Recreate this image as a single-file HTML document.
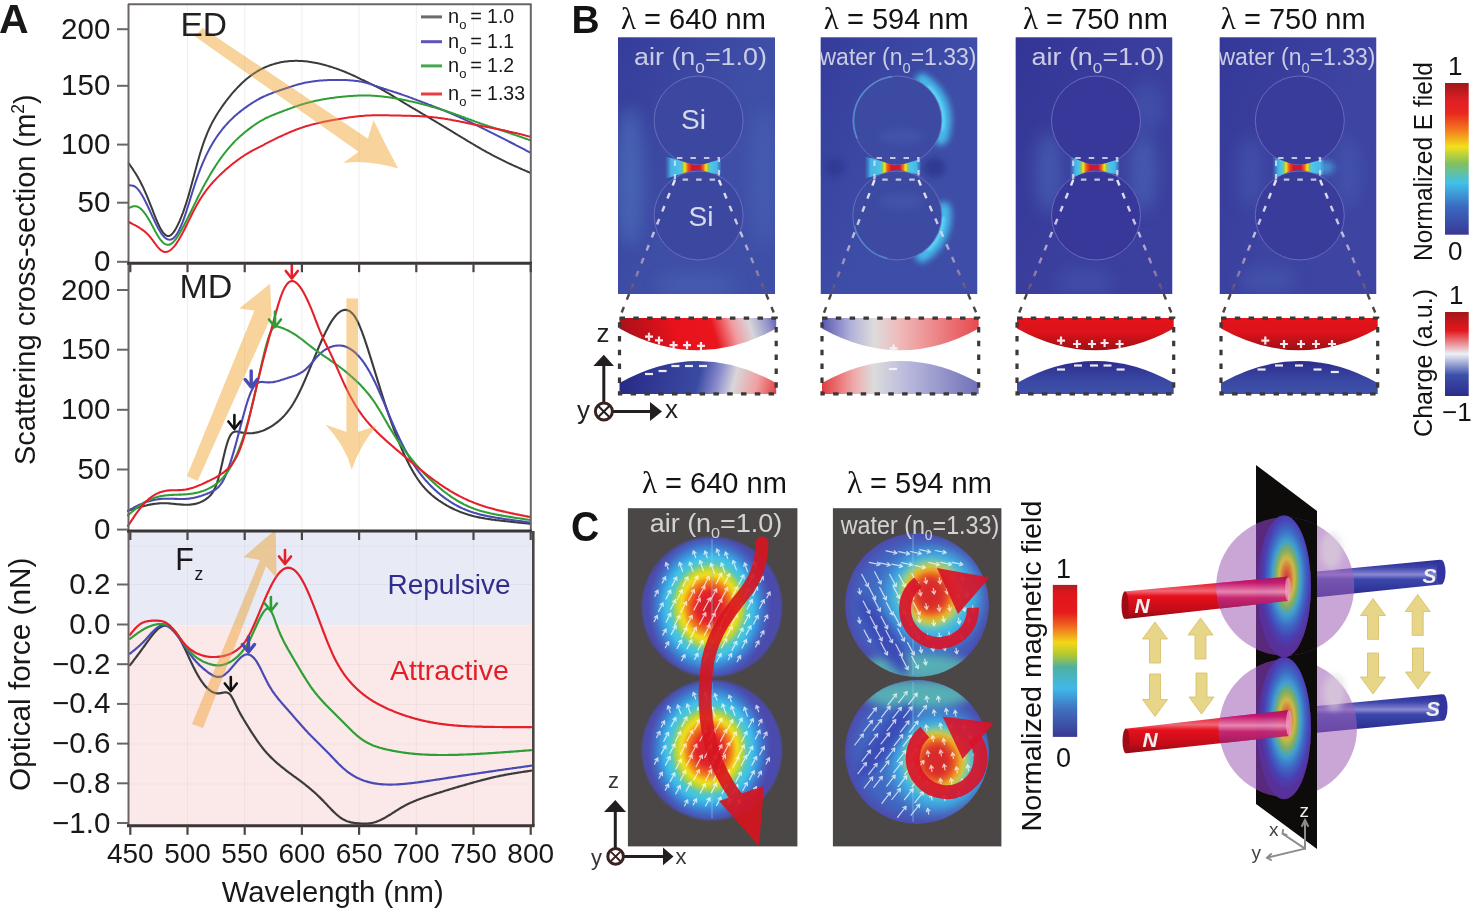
<!DOCTYPE html>
<html><head><meta charset="utf-8"><style>
html,body{margin:0;padding:0;background:#fff;width:1472px;height:910px;overflow:hidden}
svg{display:block}
</style></head><body>
<svg width="1472" height="910" viewBox="0 0 1472 910">
<rect width="1472" height="910" fill="#fff"/>
<g stroke="#efefef" stroke-width="1">
<line x1="187.5" y1="5" x2="187.5" y2="825"/>
<line x1="244.7" y1="5" x2="244.7" y2="825"/>
<line x1="301.9" y1="5" x2="301.9" y2="825"/>
<line x1="359.1" y1="5" x2="359.1" y2="825"/>
<line x1="416.3" y1="5" x2="416.3" y2="825"/>
<line x1="473.5" y1="5" x2="473.5" y2="825"/>
</g>
<rect x="128.5" y="532" width="405.0" height="93.5" fill="#e8eaf6"/>
<rect x="128.5" y="625.5" width="405.0" height="200" fill="#fbe9ea"/>
<g stroke="#000000" stroke-opacity="0.035" stroke-width="1.2">
<line x1="187.5" y1="532" x2="187.5" y2="825"/>
<line x1="244.7" y1="532" x2="244.7" y2="825"/>
<line x1="301.9" y1="532" x2="301.9" y2="825"/>
<line x1="359.1" y1="532" x2="359.1" y2="825"/>
<line x1="416.3" y1="532" x2="416.3" y2="825"/>
<line x1="473.5" y1="532" x2="473.5" y2="825"/>
<line x1="128.5" y1="546.0" x2="531.0" y2="546.0"/>
<line x1="128.5" y1="584.5" x2="531.0" y2="584.5"/>
<line x1="128.5" y1="664.5" x2="531.0" y2="664.5"/>
<line x1="128.5" y1="704.5" x2="531.0" y2="704.5"/>
<line x1="128.5" y1="744.0" x2="531.0" y2="744.0"/>
<line x1="128.5" y1="784.0" x2="531.0" y2="784.0"/>
</g>
<path d="M128.8,163.3 L129.8,164.7 L130.8,166.2 L131.8,167.7 L132.8,169.1 L133.8,170.7 L134.8,172.2 L135.8,173.8 L136.8,175.4 L137.8,177.1 L138.8,178.9 L139.8,180.8 L140.8,182.7 L141.8,184.7 L142.8,186.7 L143.8,188.9 L144.8,191.1 L145.8,193.4 L146.8,195.7 L147.8,198.1 L148.8,200.6 L149.8,203.1 L150.8,205.6 L151.8,208.2 L152.8,210.7 L153.8,213.3 L154.8,215.8 L155.8,218.3 L156.8,220.7 L157.8,223.0 L158.8,225.1 L159.8,227.2 L160.8,229.0 L161.8,230.7 L162.8,232.1 L163.8,233.4 L164.8,234.4 L165.8,235.1 L166.8,235.7 L167.8,236.0 L168.8,235.9 L169.8,235.7 L170.8,235.1 L171.8,234.3 L172.8,233.2 L173.8,231.9 L174.8,230.4 L175.8,228.8 L176.8,226.9 L177.8,224.9 L178.8,222.8 L179.8,220.6 L180.8,218.2 L181.8,215.7 L182.8,213.1 L183.8,210.3 L184.8,207.4 L185.8,204.4 L186.8,201.3 L187.8,198.0 L188.8,194.6 L189.8,191.1 L190.8,187.5 L191.8,183.8 L192.8,180.1 L193.8,176.4 L194.8,172.6 L195.8,168.9 L196.8,165.2 L197.8,161.5 L198.8,158.0 L199.8,154.5 L200.8,151.2 L201.8,148.1 L202.8,145.0 L203.8,142.2 L204.8,139.4 L205.8,136.8 L206.8,134.3 L207.8,131.9 L208.8,129.7 L209.8,127.5 L210.8,125.4 L211.8,123.4 L212.8,121.5 L213.8,119.7 L214.8,117.9 L215.8,116.2 L216.8,114.6 L217.8,113.0 L218.8,111.5 L219.8,110.0 L220.8,108.5 L221.8,107.0 L222.8,105.6 L223.8,104.2 L224.8,102.8 L225.8,101.5 L226.8,100.2 L227.8,98.9 L228.8,97.6 L229.8,96.4 L230.8,95.1 L231.8,93.9 L232.8,92.7 L233.8,91.6 L234.8,90.5 L235.8,89.4 L236.8,88.3 L237.8,87.2 L238.8,86.2 L239.8,85.2 L240.8,84.2 L241.8,83.2 L242.8,82.3 L243.8,81.4 L244.8,80.5 L245.8,79.6 L246.8,78.8 L247.8,78.0 L248.8,77.2 L249.8,76.4 L250.8,75.7 L251.8,74.9 L252.8,74.2 L253.8,73.5 L254.8,72.9 L255.8,72.3 L256.8,71.6 L257.8,71.0 L258.8,70.5 L259.8,69.9 L260.8,69.4 L261.8,68.9 L262.8,68.4 L263.8,67.9 L264.8,67.4 L265.8,67.0 L266.8,66.6 L267.8,66.1 L268.8,65.8 L269.8,65.4 L270.8,65.0 L271.8,64.7 L272.8,64.4 L273.8,64.1 L274.8,63.8 L275.8,63.5 L276.8,63.2 L277.8,63.0 L278.8,62.7 L279.8,62.5 L280.8,62.3 L281.8,62.1 L282.8,62.0 L283.8,61.8 L284.8,61.6 L285.8,61.5 L286.8,61.4 L287.8,61.3 L288.8,61.2 L289.8,61.1 L290.8,61.0 L291.8,60.9 L292.8,60.9 L293.8,60.9 L294.8,60.8 L295.8,60.8 L296.8,60.8 L297.8,60.8 L298.8,60.9 L299.8,60.9 L300.8,60.9 L301.8,61.0 L302.8,61.1 L303.8,61.2 L304.8,61.2 L305.8,61.3 L306.8,61.5 L307.8,61.6 L308.8,61.7 L309.8,61.9 L310.8,62.0 L311.8,62.2 L312.8,62.4 L313.8,62.5 L314.8,62.7 L315.8,62.9 L316.8,63.1 L317.8,63.3 L318.8,63.6 L319.8,63.8 L320.8,64.0 L321.8,64.3 L322.8,64.5 L323.8,64.8 L324.8,65.1 L325.8,65.3 L326.8,65.6 L327.8,65.9 L328.8,66.2 L329.8,66.5 L330.8,66.8 L331.8,67.1 L332.8,67.4 L333.8,67.8 L334.8,68.1 L335.8,68.4 L336.8,68.8 L337.8,69.1 L338.8,69.5 L339.8,69.9 L340.8,70.2 L341.8,70.6 L342.8,71.0 L343.8,71.4 L344.8,71.8 L345.8,72.2 L346.8,72.6 L347.8,73.1 L348.8,73.5 L349.8,73.9 L350.8,74.4 L351.8,74.8 L352.8,75.3 L353.8,75.7 L354.8,76.2 L355.8,76.7 L356.8,77.2 L357.8,77.6 L358.8,78.1 L359.8,78.6 L360.8,79.1 L361.8,79.6 L362.8,80.0 L363.8,80.5 L364.8,81.0 L365.8,81.5 L366.8,81.9 L367.8,82.4 L368.8,82.9 L369.8,83.4 L370.8,83.9 L371.8,84.3 L372.8,84.8 L373.8,85.3 L374.8,85.8 L375.8,86.3 L376.8,86.8 L377.8,87.3 L378.8,87.9 L379.8,88.4 L380.8,88.9 L381.8,89.5 L382.8,90.0 L383.8,90.6 L384.8,91.2 L385.8,91.8 L386.8,92.3 L387.8,92.9 L388.8,93.5 L389.8,94.1 L390.8,94.7 L391.8,95.3 L392.8,95.9 L393.8,96.6 L394.8,97.2 L395.8,97.8 L396.8,98.4 L397.8,99.0 L398.8,99.6 L399.8,100.2 L400.8,100.8 L401.8,101.4 L402.8,102.1 L403.8,102.7 L404.8,103.3 L405.8,103.9 L406.8,104.5 L407.8,105.1 L408.8,105.7 L409.8,106.3 L410.8,106.9 L411.8,107.5 L412.8,108.1 L413.8,108.7 L414.8,109.2 L415.8,109.8 L416.8,110.4 L417.8,111.0 L418.8,111.6 L419.8,112.2 L420.8,112.8 L421.8,113.4 L422.8,114.0 L423.8,114.6 L424.8,115.2 L425.8,115.8 L426.8,116.4 L427.8,117.0 L428.8,117.6 L429.8,118.2 L430.8,118.7 L431.8,119.3 L432.8,119.9 L433.8,120.5 L434.8,121.1 L435.8,121.7 L436.8,122.3 L437.8,122.9 L438.8,123.5 L439.8,124.1 L440.8,124.7 L441.8,125.3 L442.8,125.9 L443.8,126.5 L444.8,127.1 L445.8,127.7 L446.8,128.3 L447.8,128.9 L448.8,129.5 L449.8,130.1 L450.8,130.7 L451.8,131.3 L452.8,131.9 L453.8,132.6 L454.8,133.2 L455.8,133.8 L456.8,134.4 L457.8,135.0 L458.8,135.6 L459.8,136.2 L460.8,136.8 L461.8,137.4 L462.8,138.0 L463.8,138.6 L464.8,139.2 L465.8,139.8 L466.8,140.4 L467.8,141.1 L468.8,141.7 L469.8,142.2 L470.8,142.8 L471.8,143.4 L472.8,144.0 L473.8,144.6 L474.8,145.2 L475.8,145.8 L476.8,146.4 L477.8,147.0 L478.8,147.5 L479.8,148.1 L480.8,148.7 L481.8,149.3 L482.8,149.8 L483.8,150.4 L484.8,151.0 L485.8,151.5 L486.8,152.1 L487.8,152.6 L488.8,153.2 L489.8,153.7 L490.8,154.2 L491.8,154.8 L492.8,155.3 L493.8,155.8 L494.8,156.4 L495.8,156.9 L496.8,157.4 L497.8,157.9 L498.8,158.4 L499.8,158.9 L500.8,159.4 L501.8,159.9 L502.8,160.4 L503.8,160.9 L504.8,161.4 L505.8,161.9 L506.8,162.4 L507.8,162.8 L508.8,163.3 L509.8,163.8 L510.8,164.2 L511.8,164.7 L512.8,165.1 L513.8,165.6 L514.8,166.0 L515.8,166.5 L516.8,166.9 L517.8,167.4 L518.8,167.8 L519.8,168.3 L520.8,168.7 L521.8,169.1 L522.8,169.6 L523.8,170.0 L524.8,170.4 L525.8,170.9 L526.8,171.3 L527.8,171.7 L528.8,172.1 L529.8,172.6 L530.1,172.7" fill="none" stroke="#3b3b3b" stroke-width="2.0" stroke-linejoin="round" stroke-linecap="round"/>
<path d="M128.8,185.3 L129.8,185.3 L130.8,185.4 L131.8,185.5 L132.8,185.7 L133.8,186.0 L134.8,186.5 L135.8,187.2 L136.8,188.1 L137.8,189.1 L138.8,190.3 L139.8,191.7 L140.8,193.2 L141.8,194.8 L142.8,196.5 L143.8,198.3 L144.8,200.2 L145.8,202.2 L146.8,204.3 L147.8,206.4 L148.8,208.5 L149.8,210.7 L150.8,212.9 L151.8,215.1 L152.8,217.3 L153.8,219.4 L154.8,221.5 L155.8,223.6 L156.8,225.6 L157.8,227.5 L158.8,229.3 L159.8,231.0 L160.8,232.6 L161.8,234.1 L162.8,235.3 L163.8,236.5 L164.8,237.5 L165.8,238.3 L166.8,238.9 L167.8,239.4 L168.8,239.6 L169.8,239.7 L170.8,239.5 L171.8,239.2 L172.8,238.6 L173.8,237.8 L174.8,236.8 L175.8,235.6 L176.8,234.2 L177.8,232.5 L178.8,230.7 L179.8,228.7 L180.8,226.5 L181.8,224.1 L182.8,221.6 L183.8,218.9 L184.8,216.0 L185.8,213.1 L186.8,210.0 L187.8,206.9 L188.8,203.7 L189.8,200.5 L190.8,197.3 L191.8,194.0 L192.8,190.8 L193.8,187.7 L194.8,184.5 L195.8,181.5 L196.8,178.6 L197.8,175.8 L198.8,173.0 L199.8,170.4 L200.8,167.8 L201.8,165.3 L202.8,162.9 L203.8,160.6 L204.8,158.4 L205.8,156.2 L206.8,154.1 L207.8,152.1 L208.8,150.2 L209.8,148.3 L210.8,146.5 L211.8,144.7 L212.8,143.0 L213.8,141.4 L214.8,139.8 L215.8,138.3 L216.8,136.8 L217.8,135.3 L218.8,133.9 L219.8,132.6 L220.8,131.3 L221.8,130.0 L222.8,128.7 L223.8,127.5 L224.8,126.3 L225.8,125.2 L226.8,124.1 L227.8,123.0 L228.8,121.9 L229.8,120.9 L230.8,119.9 L231.8,118.9 L232.8,118.0 L233.8,117.0 L234.8,116.1 L235.8,115.2 L236.8,114.4 L237.8,113.5 L238.8,112.7 L239.8,111.9 L240.8,111.1 L241.8,110.3 L242.8,109.6 L243.8,108.8 L244.8,108.1 L245.8,107.4 L246.8,106.6 L247.8,105.9 L248.8,105.2 L249.8,104.6 L250.8,103.9 L251.8,103.2 L252.8,102.6 L253.8,102.0 L254.8,101.4 L255.8,100.8 L256.8,100.2 L257.8,99.6 L258.8,99.0 L259.8,98.5 L260.8,98.0 L261.8,97.5 L262.8,97.0 L263.8,96.5 L264.8,96.1 L265.8,95.6 L266.8,95.2 L267.8,94.8 L268.8,94.4 L269.8,94.0 L270.8,93.6 L271.8,93.2 L272.8,92.8 L273.8,92.4 L274.8,92.1 L275.8,91.7 L276.8,91.4 L277.8,91.0 L278.8,90.7 L279.8,90.3 L280.8,90.0 L281.8,89.7 L282.8,89.3 L283.8,89.0 L284.8,88.7 L285.8,88.3 L286.8,88.0 L287.8,87.7 L288.8,87.3 L289.8,87.0 L290.8,86.7 L291.8,86.4 L292.8,86.0 L293.8,85.7 L294.8,85.4 L295.8,85.1 L296.8,84.8 L297.8,84.6 L298.8,84.3 L299.8,84.0 L300.8,83.8 L301.8,83.5 L302.8,83.3 L303.8,83.0 L304.8,82.8 L305.8,82.6 L306.8,82.4 L307.8,82.2 L308.8,82.1 L309.8,81.9 L310.8,81.7 L311.8,81.6 L312.8,81.4 L313.8,81.3 L314.8,81.2 L315.8,81.0 L316.8,80.9 L317.8,80.8 L318.8,80.7 L319.8,80.6 L320.8,80.6 L321.8,80.5 L322.8,80.4 L323.8,80.3 L324.8,80.3 L325.8,80.2 L326.8,80.2 L327.8,80.1 L328.8,80.1 L329.8,80.0 L330.8,80.0 L331.8,80.0 L332.8,79.9 L333.8,79.9 L334.8,79.9 L335.8,79.9 L336.8,79.9 L337.8,79.9 L338.8,79.9 L339.8,79.9 L340.8,79.9 L341.8,80.0 L342.8,80.0 L343.8,80.0 L344.8,80.0 L345.8,80.1 L346.8,80.1 L347.8,80.2 L348.8,80.3 L349.8,80.3 L350.8,80.4 L351.8,80.5 L352.8,80.6 L353.8,80.7 L354.8,80.8 L355.8,80.9 L356.8,81.0 L357.8,81.1 L358.8,81.3 L359.8,81.5 L360.8,81.6 L361.8,81.8 L362.8,82.0 L363.8,82.3 L364.8,82.5 L365.8,82.8 L366.8,83.0 L367.8,83.3 L368.8,83.6 L369.8,83.9 L370.8,84.2 L371.8,84.6 L372.8,84.9 L373.8,85.2 L374.8,85.6 L375.8,85.9 L376.8,86.3 L377.8,86.6 L378.8,87.0 L379.8,87.3 L380.8,87.7 L381.8,88.0 L382.8,88.3 L383.8,88.7 L384.8,89.0 L385.8,89.3 L386.8,89.6 L387.8,90.0 L388.8,90.3 L389.8,90.6 L390.8,90.9 L391.8,91.2 L392.8,91.5 L393.8,91.9 L394.8,92.2 L395.8,92.5 L396.8,92.8 L397.8,93.2 L398.8,93.5 L399.8,93.8 L400.8,94.2 L401.8,94.5 L402.8,94.9 L403.8,95.2 L404.8,95.6 L405.8,95.9 L406.8,96.3 L407.8,96.6 L408.8,97.0 L409.8,97.4 L410.8,97.7 L411.8,98.1 L412.8,98.5 L413.8,98.9 L414.8,99.2 L415.8,99.6 L416.8,100.0 L417.8,100.4 L418.8,100.7 L419.8,101.1 L420.8,101.5 L421.8,101.9 L422.8,102.3 L423.8,102.6 L424.8,103.0 L425.8,103.4 L426.8,103.8 L427.8,104.2 L428.8,104.6 L429.8,104.9 L430.8,105.3 L431.8,105.7 L432.8,106.1 L433.8,106.5 L434.8,106.9 L435.8,107.3 L436.8,107.6 L437.8,108.0 L438.8,108.4 L439.8,108.8 L440.8,109.2 L441.8,109.6 L442.8,110.0 L443.8,110.4 L444.8,110.8 L445.8,111.2 L446.8,111.6 L447.8,112.1 L448.8,112.5 L449.8,112.9 L450.8,113.3 L451.8,113.8 L452.8,114.2 L453.8,114.6 L454.8,115.1 L455.8,115.5 L456.8,116.0 L457.8,116.4 L458.8,116.9 L459.8,117.3 L460.8,117.8 L461.8,118.2 L462.8,118.7 L463.8,119.2 L464.8,119.6 L465.8,120.1 L466.8,120.6 L467.8,121.1 L468.8,121.5 L469.8,122.0 L470.8,122.5 L471.8,123.0 L472.8,123.5 L473.8,124.0 L474.8,124.4 L475.8,124.9 L476.8,125.4 L477.8,125.9 L478.8,126.4 L479.8,126.9 L480.8,127.4 L481.8,127.9 L482.8,128.4 L483.8,128.9 L484.8,129.4 L485.8,129.8 L486.8,130.3 L487.8,130.8 L488.8,131.3 L489.8,131.8 L490.8,132.3 L491.8,132.8 L492.8,133.3 L493.8,133.8 L494.8,134.3 L495.8,134.8 L496.8,135.3 L497.8,135.8 L498.8,136.4 L499.8,136.9 L500.8,137.4 L501.8,137.9 L502.8,138.4 L503.8,138.9 L504.8,139.4 L505.8,139.9 L506.8,140.4 L507.8,140.9 L508.8,141.5 L509.8,142.0 L510.8,142.5 L511.8,143.0 L512.8,143.5 L513.8,144.0 L514.8,144.5 L515.8,145.1 L516.8,145.6 L517.8,146.1 L518.8,146.6 L519.8,147.1 L520.8,147.7 L521.8,148.2 L522.8,148.7 L523.8,149.2 L524.8,149.7 L525.8,150.3 L526.8,150.8 L527.8,151.3 L528.8,151.8 L529.8,152.3 L530.1,152.5" fill="none" stroke="#4a4ab4" stroke-width="2.0" stroke-linejoin="round" stroke-linecap="round"/>
<path d="M128.8,208.0 L129.8,207.6 L130.8,207.1 L131.8,206.8 L132.8,206.5 L133.8,206.3 L134.8,206.2 L135.8,206.2 L136.8,206.4 L137.8,206.8 L138.8,207.3 L139.8,208.0 L140.8,208.8 L141.8,209.7 L142.8,210.8 L143.8,212.0 L144.8,213.3 L145.8,214.7 L146.8,216.2 L147.8,217.7 L148.8,219.4 L149.8,221.1 L150.8,222.9 L151.8,224.8 L152.8,226.6 L153.8,228.5 L154.8,230.4 L155.8,232.2 L156.8,234.0 L157.8,235.7 L158.8,237.3 L159.8,238.8 L160.8,240.1 L161.8,241.3 L162.8,242.3 L163.8,243.2 L164.8,243.9 L165.8,244.4 L166.8,244.7 L167.8,244.8 L168.8,244.8 L169.8,244.5 L170.8,244.0 L171.8,243.4 L172.8,242.6 L173.8,241.6 L174.8,240.4 L175.8,239.2 L176.8,237.8 L177.8,236.3 L178.8,234.7 L179.8,233.0 L180.8,231.3 L181.8,229.4 L182.8,227.6 L183.8,225.7 L184.8,223.7 L185.8,221.8 L186.8,219.8 L187.8,217.8 L188.8,215.8 L189.8,213.8 L190.8,211.8 L191.8,209.7 L192.8,207.7 L193.8,205.6 L194.8,203.6 L195.8,201.6 L196.8,199.5 L197.8,197.5 L198.8,195.5 L199.8,193.6 L200.8,191.6 L201.8,189.7 L202.8,187.8 L203.8,185.9 L204.8,184.1 L205.8,182.2 L206.8,180.4 L207.8,178.7 L208.8,176.9 L209.8,175.2 L210.8,173.5 L211.8,171.9 L212.8,170.2 L213.8,168.6 L214.8,167.1 L215.8,165.5 L216.8,164.0 L217.8,162.5 L218.8,161.0 L219.8,159.6 L220.8,158.2 L221.8,156.8 L222.8,155.5 L223.8,154.1 L224.8,152.8 L225.8,151.6 L226.8,150.3 L227.8,149.1 L228.8,148.0 L229.8,146.8 L230.8,145.7 L231.8,144.6 L232.8,143.5 L233.8,142.5 L234.8,141.4 L235.8,140.4 L236.8,139.4 L237.8,138.5 L238.8,137.6 L239.8,136.6 L240.8,135.7 L241.8,134.9 L242.8,134.0 L243.8,133.1 L244.8,132.3 L245.8,131.5 L246.8,130.7 L247.8,129.9 L248.8,129.1 L249.8,128.4 L250.8,127.6 L251.8,126.9 L252.8,126.2 L253.8,125.5 L254.8,124.8 L255.8,124.1 L256.8,123.4 L257.8,122.8 L258.8,122.1 L259.8,121.5 L260.8,120.9 L261.8,120.4 L262.8,119.8 L263.8,119.3 L264.8,118.7 L265.8,118.2 L266.8,117.7 L267.8,117.3 L268.8,116.8 L269.8,116.4 L270.8,115.9 L271.8,115.5 L272.8,115.1 L273.8,114.7 L274.8,114.3 L275.8,113.9 L276.8,113.5 L277.8,113.1 L278.8,112.7 L279.8,112.3 L280.8,112.0 L281.8,111.6 L282.8,111.2 L283.8,110.8 L284.8,110.4 L285.8,110.1 L286.8,109.7 L287.8,109.3 L288.8,109.0 L289.8,108.6 L290.8,108.2 L291.8,107.9 L292.8,107.5 L293.8,107.1 L294.8,106.8 L295.8,106.4 L296.8,106.1 L297.8,105.8 L298.8,105.4 L299.8,105.1 L300.8,104.8 L301.8,104.5 L302.8,104.2 L303.8,103.9 L304.8,103.6 L305.8,103.3 L306.8,103.0 L307.8,102.7 L308.8,102.5 L309.8,102.2 L310.8,102.0 L311.8,101.7 L312.8,101.5 L313.8,101.3 L314.8,101.0 L315.8,100.8 L316.8,100.6 L317.8,100.4 L318.8,100.2 L319.8,100.0 L320.8,99.8 L321.8,99.6 L322.8,99.5 L323.8,99.3 L324.8,99.1 L325.8,98.9 L326.8,98.8 L327.8,98.6 L328.8,98.5 L329.8,98.3 L330.8,98.1 L331.8,98.0 L332.8,97.9 L333.8,97.7 L334.8,97.6 L335.8,97.5 L336.8,97.3 L337.8,97.2 L338.8,97.1 L339.8,97.0 L340.8,96.9 L341.8,96.8 L342.8,96.7 L343.8,96.6 L344.8,96.5 L345.8,96.4 L346.8,96.3 L347.8,96.2 L348.8,96.1 L349.8,96.1 L350.8,96.0 L351.8,95.9 L352.8,95.9 L353.8,95.8 L354.8,95.7 L355.8,95.7 L356.8,95.7 L357.8,95.6 L358.8,95.6 L359.8,95.6 L360.8,95.5 L361.8,95.5 L362.8,95.5 L363.8,95.5 L364.8,95.5 L365.8,95.5 L366.8,95.5 L367.8,95.5 L368.8,95.6 L369.8,95.6 L370.8,95.6 L371.8,95.7 L372.8,95.7 L373.8,95.8 L374.8,95.8 L375.8,95.9 L376.8,96.0 L377.8,96.1 L378.8,96.2 L379.8,96.3 L380.8,96.3 L381.8,96.5 L382.8,96.6 L383.8,96.7 L384.8,96.8 L385.8,96.9 L386.8,97.0 L387.8,97.2 L388.8,97.3 L389.8,97.5 L390.8,97.6 L391.8,97.8 L392.8,97.9 L393.8,98.1 L394.8,98.2 L395.8,98.4 L396.8,98.6 L397.8,98.8 L398.8,98.9 L399.8,99.1 L400.8,99.3 L401.8,99.5 L402.8,99.7 L403.8,99.9 L404.8,100.1 L405.8,100.3 L406.8,100.5 L407.8,100.7 L408.8,101.0 L409.8,101.2 L410.8,101.4 L411.8,101.6 L412.8,101.8 L413.8,102.1 L414.8,102.3 L415.8,102.6 L416.8,102.8 L417.8,103.0 L418.8,103.3 L419.8,103.5 L420.8,103.8 L421.8,104.0 L422.8,104.3 L423.8,104.6 L424.8,104.8 L425.8,105.1 L426.8,105.3 L427.8,105.6 L428.8,105.9 L429.8,106.2 L430.8,106.4 L431.8,106.7 L432.8,107.0 L433.8,107.3 L434.8,107.6 L435.8,107.9 L436.8,108.2 L437.8,108.5 L438.8,108.8 L439.8,109.1 L440.8,109.4 L441.8,109.7 L442.8,110.0 L443.8,110.3 L444.8,110.6 L445.8,111.0 L446.8,111.3 L447.8,111.6 L448.8,111.9 L449.8,112.3 L450.8,112.6 L451.8,113.0 L452.8,113.3 L453.8,113.7 L454.8,114.0 L455.8,114.4 L456.8,114.7 L457.8,115.1 L458.8,115.5 L459.8,115.8 L460.8,116.2 L461.8,116.6 L462.8,116.9 L463.8,117.3 L464.8,117.7 L465.8,118.1 L466.8,118.4 L467.8,118.8 L468.8,119.2 L469.8,119.5 L470.8,119.9 L471.8,120.3 L472.8,120.6 L473.8,121.0 L474.8,121.4 L475.8,121.7 L476.8,122.1 L477.8,122.5 L478.8,122.8 L479.8,123.2 L480.8,123.5 L481.8,123.9 L482.8,124.2 L483.8,124.5 L484.8,124.9 L485.8,125.2 L486.8,125.5 L487.8,125.9 L488.8,126.2 L489.8,126.5 L490.8,126.9 L491.8,127.2 L492.8,127.5 L493.8,127.9 L494.8,128.2 L495.8,128.5 L496.8,128.8 L497.8,129.2 L498.8,129.5 L499.8,129.8 L500.8,130.1 L501.8,130.5 L502.8,130.8 L503.8,131.1 L504.8,131.5 L505.8,131.8 L506.8,132.1 L507.8,132.5 L508.8,132.8 L509.8,133.1 L510.8,133.5 L511.8,133.8 L512.8,134.2 L513.8,134.5 L514.8,134.9 L515.8,135.2 L516.8,135.6 L517.8,135.9 L518.8,136.2 L519.8,136.6 L520.8,136.9 L521.8,137.3 L522.8,137.6 L523.8,138.0 L524.8,138.3 L525.8,138.7 L526.8,139.0 L527.8,139.4 L528.8,139.7 L529.8,140.1 L530.1,140.2" fill="none" stroke="#2f9e34" stroke-width="2.0" stroke-linejoin="round" stroke-linecap="round"/>
<path d="M128.8,222.0 L129.8,222.5 L130.8,223.0 L131.8,223.5 L132.8,224.1 L133.8,224.6 L134.8,225.1 L135.8,225.7 L136.8,226.2 L137.8,226.8 L138.8,227.4 L139.8,228.0 L140.8,228.7 L141.8,229.4 L142.8,230.1 L143.8,230.8 L144.8,231.6 L145.8,232.5 L146.8,233.4 L147.8,234.3 L148.8,235.4 L149.8,236.5 L150.8,237.8 L151.8,239.1 L152.8,240.4 L153.8,241.8 L154.8,243.2 L155.8,244.5 L156.8,245.9 L157.8,247.1 L158.8,248.2 L159.8,249.2 L160.8,250.1 L161.8,250.8 L162.8,251.3 L163.8,251.7 L164.8,251.9 L165.8,251.9 L166.8,251.8 L167.8,251.5 L168.8,251.1 L169.8,250.5 L170.8,249.8 L171.8,248.9 L172.8,247.9 L173.8,246.8 L174.8,245.6 L175.8,244.3 L176.8,242.9 L177.8,241.3 L178.8,239.7 L179.8,238.0 L180.8,236.3 L181.8,234.5 L182.8,232.6 L183.8,230.7 L184.8,228.7 L185.8,226.7 L186.8,224.7 L187.8,222.6 L188.8,220.6 L189.8,218.6 L190.8,216.5 L191.8,214.5 L192.8,212.5 L193.8,210.6 L194.8,208.7 L195.8,206.8 L196.8,205.0 L197.8,203.2 L198.8,201.5 L199.8,199.9 L200.8,198.3 L201.8,196.7 L202.8,195.2 L203.8,193.8 L204.8,192.4 L205.8,191.0 L206.8,189.7 L207.8,188.4 L208.8,187.1 L209.8,185.9 L210.8,184.7 L211.8,183.5 L212.8,182.4 L213.8,181.3 L214.8,180.2 L215.8,179.2 L216.8,178.1 L217.8,177.1 L218.8,176.1 L219.8,175.1 L220.8,174.2 L221.8,173.2 L222.8,172.3 L223.8,171.4 L224.8,170.5 L225.8,169.6 L226.8,168.7 L227.8,167.9 L228.8,167.0 L229.8,166.2 L230.8,165.3 L231.8,164.5 L232.8,163.7 L233.8,162.9 L234.8,162.2 L235.8,161.4 L236.8,160.7 L237.8,159.9 L238.8,159.2 L239.8,158.5 L240.8,157.8 L241.8,157.1 L242.8,156.5 L243.8,155.8 L244.8,155.1 L245.8,154.5 L246.8,153.9 L247.8,153.3 L248.8,152.7 L249.8,152.1 L250.8,151.5 L251.8,151.0 L252.8,150.4 L253.8,149.9 L254.8,149.4 L255.8,148.8 L256.8,148.3 L257.8,147.8 L258.8,147.3 L259.8,146.8 L260.8,146.3 L261.8,145.8 L262.8,145.3 L263.8,144.8 L264.8,144.2 L265.8,143.7 L266.8,143.2 L267.8,142.7 L268.8,142.2 L269.8,141.7 L270.8,141.2 L271.8,140.7 L272.8,140.2 L273.8,139.7 L274.8,139.2 L275.8,138.7 L276.8,138.2 L277.8,137.7 L278.8,137.2 L279.8,136.7 L280.8,136.3 L281.8,135.8 L282.8,135.3 L283.8,134.9 L284.8,134.4 L285.8,134.0 L286.8,133.5 L287.8,133.1 L288.8,132.6 L289.8,132.2 L290.8,131.8 L291.8,131.4 L292.8,131.0 L293.8,130.6 L294.8,130.2 L295.8,129.8 L296.8,129.4 L297.8,129.0 L298.8,128.7 L299.8,128.3 L300.8,128.0 L301.8,127.6 L302.8,127.3 L303.8,127.0 L304.8,126.6 L305.8,126.3 L306.8,126.0 L307.8,125.7 L308.8,125.5 L309.8,125.2 L310.8,124.9 L311.8,124.6 L312.8,124.4 L313.8,124.1 L314.8,123.9 L315.8,123.6 L316.8,123.4 L317.8,123.2 L318.8,122.9 L319.8,122.7 L320.8,122.5 L321.8,122.3 L322.8,122.1 L323.8,121.8 L324.8,121.6 L325.8,121.4 L326.8,121.2 L327.8,121.0 L328.8,120.8 L329.8,120.7 L330.8,120.5 L331.8,120.3 L332.8,120.1 L333.8,119.9 L334.8,119.7 L335.8,119.5 L336.8,119.4 L337.8,119.2 L338.8,119.0 L339.8,118.9 L340.8,118.7 L341.8,118.5 L342.8,118.4 L343.8,118.2 L344.8,118.1 L345.8,117.9 L346.8,117.8 L347.8,117.6 L348.8,117.5 L349.8,117.3 L350.8,117.2 L351.8,117.1 L352.8,116.9 L353.8,116.8 L354.8,116.7 L355.8,116.6 L356.8,116.5 L357.8,116.3 L358.8,116.2 L359.8,116.1 L360.8,116.0 L361.8,116.0 L362.8,115.9 L363.8,115.8 L364.8,115.7 L365.8,115.6 L366.8,115.6 L367.8,115.5 L368.8,115.5 L369.8,115.4 L370.8,115.4 L371.8,115.3 L372.8,115.3 L373.8,115.3 L374.8,115.2 L375.8,115.2 L376.8,115.2 L377.8,115.2 L378.8,115.2 L379.8,115.2 L380.8,115.2 L381.8,115.2 L382.8,115.2 L383.8,115.2 L384.8,115.3 L385.8,115.3 L386.8,115.3 L387.8,115.3 L388.8,115.3 L389.8,115.4 L390.8,115.4 L391.8,115.4 L392.8,115.4 L393.8,115.5 L394.8,115.5 L395.8,115.5 L396.8,115.5 L397.8,115.6 L398.8,115.6 L399.8,115.6 L400.8,115.6 L401.8,115.7 L402.8,115.7 L403.8,115.7 L404.8,115.7 L405.8,115.7 L406.8,115.8 L407.8,115.8 L408.8,115.8 L409.8,115.8 L410.8,115.8 L411.8,115.9 L412.8,115.9 L413.8,115.9 L414.8,116.0 L415.8,116.0 L416.8,116.0 L417.8,116.1 L418.8,116.1 L419.8,116.2 L420.8,116.2 L421.8,116.3 L422.8,116.3 L423.8,116.4 L424.8,116.5 L425.8,116.5 L426.8,116.6 L427.8,116.7 L428.8,116.8 L429.8,116.9 L430.8,117.0 L431.8,117.1 L432.8,117.2 L433.8,117.3 L434.8,117.4 L435.8,117.5 L436.8,117.6 L437.8,117.8 L438.8,117.9 L439.8,118.0 L440.8,118.2 L441.8,118.3 L442.8,118.5 L443.8,118.6 L444.8,118.8 L445.8,118.9 L446.8,119.1 L447.8,119.3 L448.8,119.4 L449.8,119.6 L450.8,119.8 L451.8,120.0 L452.8,120.2 L453.8,120.4 L454.8,120.5 L455.8,120.7 L456.8,120.9 L457.8,121.1 L458.8,121.3 L459.8,121.5 L460.8,121.7 L461.8,121.9 L462.8,122.1 L463.8,122.3 L464.8,122.5 L465.8,122.8 L466.8,123.0 L467.8,123.2 L468.8,123.4 L469.8,123.6 L470.8,123.8 L471.8,124.0 L472.8,124.2 L473.8,124.4 L474.8,124.6 L475.8,124.8 L476.8,125.0 L477.8,125.2 L478.8,125.4 L479.8,125.6 L480.8,125.8 L481.8,126.0 L482.8,126.2 L483.8,126.4 L484.8,126.6 L485.8,126.8 L486.8,127.0 L487.8,127.2 L488.8,127.3 L489.8,127.5 L490.8,127.7 L491.8,127.9 L492.8,128.1 L493.8,128.3 L494.8,128.5 L495.8,128.7 L496.8,128.9 L497.8,129.1 L498.8,129.3 L499.8,129.5 L500.8,129.7 L501.8,129.9 L502.8,130.1 L503.8,130.3 L504.8,130.5 L505.8,130.8 L506.8,131.0 L507.8,131.2 L508.8,131.4 L509.8,131.7 L510.8,131.9 L511.8,132.1 L512.8,132.4 L513.8,132.6 L514.8,132.9 L515.8,133.1 L516.8,133.3 L517.8,133.6 L518.8,133.8 L519.8,134.1 L520.8,134.3 L521.8,134.6 L522.8,134.8 L523.8,135.1 L524.8,135.3 L525.8,135.6 L526.8,135.9 L527.8,136.1 L528.8,136.4 L529.8,136.6 L530.1,136.7" fill="none" stroke="#e5202a" stroke-width="2.0" stroke-linejoin="round" stroke-linecap="round"/>
<path d="M128.0,510.8 L129.0,510.5 L130.0,510.1 L131.0,509.8 L132.0,509.5 L133.0,509.2 L134.0,508.9 L135.0,508.6 L136.0,508.2 L137.0,507.9 L138.0,507.6 L139.0,507.3 L140.0,507.1 L141.0,506.8 L142.0,506.5 L143.0,506.2 L144.0,506.0 L145.0,505.7 L146.0,505.5 L147.0,505.2 L148.0,505.0 L149.0,504.8 L150.0,504.6 L151.0,504.4 L152.0,504.3 L153.0,504.1 L154.0,503.9 L155.0,503.8 L156.0,503.7 L157.0,503.6 L158.0,503.5 L159.0,503.4 L160.0,503.3 L161.0,503.3 L162.0,503.2 L163.0,503.2 L164.0,503.2 L165.0,503.2 L166.0,503.2 L167.0,503.3 L168.0,503.3 L169.0,503.4 L170.0,503.5 L171.0,503.6 L172.0,503.7 L173.0,503.8 L174.0,503.9 L175.0,504.0 L176.0,504.1 L177.0,504.2 L178.0,504.3 L179.0,504.4 L180.0,504.4 L181.0,504.5 L182.0,504.6 L183.0,504.6 L184.0,504.7 L185.0,504.7 L186.0,504.7 L187.0,504.7 L188.0,504.7 L189.0,504.7 L190.0,504.6 L191.0,504.5 L192.0,504.4 L193.0,504.3 L194.0,504.1 L195.0,503.9 L196.0,503.7 L197.0,503.4 L198.0,503.1 L199.0,502.7 L200.0,502.4 L201.0,501.9 L202.0,501.5 L203.0,501.0 L204.0,500.4 L205.0,499.8 L206.0,499.1 L207.0,498.4 L208.0,497.7 L209.0,496.8 L210.0,495.8 L211.0,494.7 L212.0,493.3 L213.0,491.8 L214.0,490.0 L215.0,487.9 L216.0,485.6 L217.0,482.8 L218.0,479.8 L219.0,476.3 L220.0,472.4 L221.0,468.3 L222.0,464.0 L223.0,459.6 L224.0,455.3 L225.0,451.1 L226.0,447.2 L227.0,443.7 L228.0,440.6 L229.0,438.1 L230.0,436.0 L231.0,434.4 L232.0,433.2 L233.0,432.4 L234.0,431.9 L235.0,431.6 L236.0,431.5 L237.0,431.5 L238.0,431.7 L239.0,432.0 L240.0,432.2 L241.0,432.4 L242.0,432.6 L243.0,432.8 L244.0,432.9 L245.0,433.1 L246.0,433.2 L247.0,433.2 L248.0,433.3 L249.0,433.3 L250.0,433.3 L251.0,433.2 L252.0,433.2 L253.0,433.1 L254.0,432.9 L255.0,432.8 L256.0,432.6 L257.0,432.4 L258.0,432.2 L259.0,431.9 L260.0,431.6 L261.0,431.3 L262.0,431.0 L263.0,430.6 L264.0,430.2 L265.0,429.8 L266.0,429.3 L267.0,428.8 L268.0,428.3 L269.0,427.8 L270.0,427.2 L271.0,426.6 L272.0,426.0 L273.0,425.3 L274.0,424.6 L275.0,423.9 L276.0,423.2 L277.0,422.4 L278.0,421.6 L279.0,420.8 L280.0,419.9 L281.0,419.0 L282.0,418.0 L283.0,417.0 L284.0,416.0 L285.0,414.9 L286.0,413.7 L287.0,412.5 L288.0,411.2 L289.0,409.9 L290.0,408.5 L291.0,407.1 L292.0,405.6 L293.0,404.0 L294.0,402.3 L295.0,400.6 L296.0,398.8 L297.0,396.9 L298.0,395.0 L299.0,393.0 L300.0,391.0 L301.0,388.9 L302.0,386.7 L303.0,384.5 L304.0,382.3 L305.0,380.0 L306.0,377.7 L307.0,375.4 L308.0,373.0 L309.0,370.6 L310.0,368.2 L311.0,365.8 L312.0,363.4 L313.0,361.0 L314.0,358.6 L315.0,356.2 L316.0,353.8 L317.0,351.4 L318.0,349.0 L319.0,346.7 L320.0,344.3 L321.0,342.0 L322.0,339.8 L323.0,337.6 L324.0,335.5 L325.0,333.4 L326.0,331.3 L327.0,329.4 L328.0,327.5 L329.0,325.6 L330.0,323.9 L331.0,322.2 L332.0,320.7 L333.0,319.2 L334.0,317.8 L335.0,316.5 L336.0,315.3 L337.0,314.3 L338.0,313.3 L339.0,312.5 L340.0,311.7 L341.0,311.1 L342.0,310.6 L343.0,310.3 L344.0,310.0 L345.0,309.9 L346.0,309.9 L347.0,310.1 L348.0,310.4 L349.0,310.8 L350.0,311.4 L351.0,312.2 L352.0,313.1 L353.0,314.2 L354.0,315.4 L355.0,316.9 L356.0,318.5 L357.0,320.3 L358.0,322.3 L359.0,324.5 L360.0,326.8 L361.0,329.3 L362.0,331.9 L363.0,334.6 L364.0,337.4 L365.0,340.3 L366.0,343.3 L367.0,346.3 L368.0,349.4 L369.0,352.6 L370.0,355.7 L371.0,358.9 L372.0,362.1 L373.0,365.4 L374.0,368.6 L375.0,371.9 L376.0,375.1 L377.0,378.4 L378.0,381.6 L379.0,384.8 L380.0,388.0 L381.0,391.2 L382.0,394.4 L383.0,397.5 L384.0,400.6 L385.0,403.7 L386.0,406.7 L387.0,409.7 L388.0,412.7 L389.0,415.6 L390.0,418.5 L391.0,421.3 L392.0,424.1 L393.0,426.9 L394.0,429.6 L395.0,432.2 L396.0,434.8 L397.0,437.4 L398.0,439.9 L399.0,442.4 L400.0,444.8 L401.0,447.2 L402.0,449.5 L403.0,451.8 L404.0,454.0 L405.0,456.1 L406.0,458.2 L407.0,460.3 L408.0,462.3 L409.0,464.3 L410.0,466.2 L411.0,468.0 L412.0,469.8 L413.0,471.6 L414.0,473.3 L415.0,474.9 L416.0,476.5 L417.0,478.0 L418.0,479.5 L419.0,480.9 L420.0,482.3 L421.0,483.6 L422.0,484.8 L423.0,486.1 L424.0,487.2 L425.0,488.4 L426.0,489.4 L427.0,490.5 L428.0,491.5 L429.0,492.5 L430.0,493.4 L431.0,494.3 L432.0,495.2 L433.0,496.0 L434.0,496.9 L435.0,497.6 L436.0,498.4 L437.0,499.1 L438.0,499.9 L439.0,500.6 L440.0,501.2 L441.0,501.9 L442.0,502.5 L443.0,503.2 L444.0,503.8 L445.0,504.4 L446.0,505.0 L447.0,505.6 L448.0,506.1 L449.0,506.7 L450.0,507.2 L451.0,507.7 L452.0,508.2 L453.0,508.7 L454.0,509.2 L455.0,509.6 L456.0,510.1 L457.0,510.5 L458.0,510.9 L459.0,511.4 L460.0,511.8 L461.0,512.2 L462.0,512.5 L463.0,512.9 L464.0,513.3 L465.0,513.6 L466.0,513.9 L467.0,514.3 L468.0,514.6 L469.0,514.9 L470.0,515.2 L471.0,515.4 L472.0,515.7 L473.0,516.0 L474.0,516.2 L475.0,516.5 L476.0,516.7 L477.0,516.9 L478.0,517.2 L479.0,517.4 L480.0,517.6 L481.0,517.8 L482.0,518.0 L483.0,518.1 L484.0,518.3 L485.0,518.5 L486.0,518.7 L487.0,518.8 L488.0,519.0 L489.0,519.1 L490.0,519.3 L491.0,519.4 L492.0,519.6 L493.0,519.7 L494.0,519.8 L495.0,519.9 L496.0,520.1 L497.0,520.2 L498.0,520.3 L499.0,520.4 L500.0,520.5 L501.0,520.7 L502.0,520.8 L503.0,520.9 L504.0,521.0 L505.0,521.1 L506.0,521.2 L507.0,521.3 L508.0,521.4 L509.0,521.5 L510.0,521.6 L511.0,521.7 L512.0,521.9 L513.0,522.0 L514.0,522.1 L515.0,522.2 L516.0,522.3 L517.0,522.4 L518.0,522.5 L519.0,522.6 L520.0,522.7 L521.0,522.8 L522.0,522.9 L523.0,523.0 L524.0,523.1 L525.0,523.2 L526.0,523.3 L527.0,523.4 L528.0,523.5 L529.0,523.6 L530.0,523.7 L530.2,523.7" fill="none" stroke="#3b3b3b" stroke-width="2.1" stroke-linejoin="round" stroke-linecap="round"/>
<path d="M128.0,510.8 L129.0,510.2 L130.0,509.7 L131.0,509.1 L132.0,508.6 L133.0,508.1 L134.0,507.5 L135.0,507.0 L136.0,506.5 L137.0,506.0 L138.0,505.5 L139.0,505.0 L140.0,504.5 L141.0,504.1 L142.0,503.7 L143.0,503.2 L144.0,502.8 L145.0,502.5 L146.0,502.1 L147.0,501.8 L148.0,501.5 L149.0,501.2 L150.0,500.9 L151.0,500.6 L152.0,500.4 L153.0,500.1 L154.0,499.9 L155.0,499.7 L156.0,499.5 L157.0,499.4 L158.0,499.2 L159.0,499.1 L160.0,499.0 L161.0,498.9 L162.0,498.8 L163.0,498.8 L164.0,498.7 L165.0,498.7 L166.0,498.7 L167.0,498.7 L168.0,498.7 L169.0,498.7 L170.0,498.7 L171.0,498.7 L172.0,498.7 L173.0,498.8 L174.0,498.8 L175.0,498.9 L176.0,498.9 L177.0,498.9 L178.0,499.0 L179.0,499.0 L180.0,499.0 L181.0,499.0 L182.0,499.0 L183.0,499.0 L184.0,499.0 L185.0,499.0 L186.0,498.9 L187.0,498.8 L188.0,498.7 L189.0,498.6 L190.0,498.5 L191.0,498.3 L192.0,498.2 L193.0,498.0 L194.0,497.8 L195.0,497.6 L196.0,497.3 L197.0,497.1 L198.0,496.8 L199.0,496.5 L200.0,496.2 L201.0,495.9 L202.0,495.5 L203.0,495.2 L204.0,494.8 L205.0,494.5 L206.0,494.1 L207.0,493.7 L208.0,493.3 L209.0,492.9 L210.0,492.4 L211.0,492.0 L212.0,491.5 L213.0,491.0 L214.0,490.5 L215.0,489.8 L216.0,489.1 L217.0,488.3 L218.0,487.4 L219.0,486.4 L220.0,485.2 L221.0,483.9 L222.0,482.4 L223.0,480.7 L224.0,478.9 L225.0,476.8 L226.0,474.6 L227.0,472.1 L228.0,469.5 L229.0,466.7 L230.0,463.7 L231.0,460.6 L232.0,457.4 L233.0,454.1 L234.0,450.6 L235.0,447.1 L236.0,443.4 L237.0,439.8 L238.0,436.0 L239.0,432.2 L240.0,428.4 L241.0,424.6 L242.0,420.8 L243.0,417.0 L244.0,413.3 L245.0,409.8 L246.0,406.3 L247.0,403.0 L248.0,399.9 L249.0,397.0 L250.0,394.3 L251.0,391.9 L252.0,389.8 L253.0,387.9 L254.0,386.4 L255.0,385.2 L256.0,384.2 L257.0,383.4 L258.0,382.8 L259.0,382.4 L260.0,382.1 L261.0,382.0 L262.0,381.9 L263.0,382.0 L264.0,382.1 L265.0,382.2 L266.0,382.3 L267.0,382.4 L268.0,382.4 L269.0,382.4 L270.0,382.4 L271.0,382.3 L272.0,382.2 L273.0,382.1 L274.0,381.9 L275.0,381.7 L276.0,381.5 L277.0,381.3 L278.0,381.0 L279.0,380.7 L280.0,380.4 L281.0,380.1 L282.0,379.8 L283.0,379.5 L284.0,379.2 L285.0,378.8 L286.0,378.5 L287.0,378.2 L288.0,377.8 L289.0,377.5 L290.0,377.2 L291.0,376.9 L292.0,376.6 L293.0,376.3 L294.0,375.9 L295.0,375.6 L296.0,375.2 L297.0,374.8 L298.0,374.3 L299.0,373.8 L300.0,373.3 L301.0,372.7 L302.0,372.1 L303.0,371.5 L304.0,370.7 L305.0,369.9 L306.0,369.1 L307.0,368.1 L308.0,367.1 L309.0,366.1 L310.0,364.9 L311.0,363.8 L312.0,362.6 L313.0,361.5 L314.0,360.3 L315.0,359.1 L316.0,357.9 L317.0,356.8 L318.0,355.7 L319.0,354.7 L320.0,353.7 L321.0,352.8 L322.0,352.0 L323.0,351.2 L324.0,350.5 L325.0,349.8 L326.0,349.2 L327.0,348.7 L328.0,348.2 L329.0,347.7 L330.0,347.3 L331.0,346.9 L332.0,346.6 L333.0,346.3 L334.0,346.0 L335.0,345.8 L336.0,345.7 L337.0,345.6 L338.0,345.5 L339.0,345.5 L340.0,345.5 L341.0,345.6 L342.0,345.7 L343.0,345.9 L344.0,346.1 L345.0,346.4 L346.0,346.8 L347.0,347.2 L348.0,347.7 L349.0,348.2 L350.0,348.8 L351.0,349.4 L352.0,350.1 L353.0,350.8 L354.0,351.6 L355.0,352.5 L356.0,353.4 L357.0,354.4 L358.0,355.4 L359.0,356.5 L360.0,357.7 L361.0,358.9 L362.0,360.2 L363.0,361.5 L364.0,362.9 L365.0,364.4 L366.0,365.9 L367.0,367.5 L368.0,369.1 L369.0,370.8 L370.0,372.6 L371.0,374.4 L372.0,376.3 L373.0,378.2 L374.0,380.2 L375.0,382.2 L376.0,384.4 L377.0,386.5 L378.0,388.7 L379.0,391.0 L380.0,393.3 L381.0,395.6 L382.0,398.0 L383.0,400.3 L384.0,402.7 L385.0,405.1 L386.0,407.6 L387.0,410.0 L388.0,412.4 L389.0,414.8 L390.0,417.2 L391.0,419.6 L392.0,421.9 L393.0,424.2 L394.0,426.5 L395.0,428.8 L396.0,431.0 L397.0,433.2 L398.0,435.3 L399.0,437.5 L400.0,439.6 L401.0,441.6 L402.0,443.6 L403.0,445.6 L404.0,447.6 L405.0,449.5 L406.0,451.3 L407.0,453.2 L408.0,455.0 L409.0,456.7 L410.0,458.4 L411.0,460.1 L412.0,461.7 L413.0,463.3 L414.0,464.9 L415.0,466.4 L416.0,467.8 L417.0,469.3 L418.0,470.7 L419.0,472.1 L420.0,473.4 L421.0,474.7 L422.0,476.0 L423.0,477.2 L424.0,478.4 L425.0,479.6 L426.0,480.7 L427.0,481.8 L428.0,482.9 L429.0,484.0 L430.0,485.0 L431.0,486.1 L432.0,487.0 L433.0,488.0 L434.0,489.0 L435.0,489.9 L436.0,490.8 L437.0,491.7 L438.0,492.6 L439.0,493.4 L440.0,494.2 L441.0,495.1 L442.0,495.8 L443.0,496.6 L444.0,497.4 L445.0,498.1 L446.0,498.8 L447.0,499.5 L448.0,500.2 L449.0,500.9 L450.0,501.5 L451.0,502.2 L452.0,502.8 L453.0,503.4 L454.0,504.0 L455.0,504.6 L456.0,505.1 L457.0,505.7 L458.0,506.2 L459.0,506.7 L460.0,507.2 L461.0,507.7 L462.0,508.1 L463.0,508.6 L464.0,509.0 L465.0,509.5 L466.0,509.9 L467.0,510.3 L468.0,510.7 L469.0,511.0 L470.0,511.4 L471.0,511.7 L472.0,512.1 L473.0,512.4 L474.0,512.7 L475.0,513.0 L476.0,513.3 L477.0,513.6 L478.0,513.9 L479.0,514.2 L480.0,514.4 L481.0,514.7 L482.0,514.9 L483.0,515.1 L484.0,515.4 L485.0,515.6 L486.0,515.8 L487.0,516.0 L488.0,516.2 L489.0,516.4 L490.0,516.6 L491.0,516.8 L492.0,517.0 L493.0,517.1 L494.0,517.3 L495.0,517.5 L496.0,517.7 L497.0,517.8 L498.0,518.0 L499.0,518.1 L500.0,518.3 L501.0,518.4 L502.0,518.6 L503.0,518.7 L504.0,518.9 L505.0,519.0 L506.0,519.2 L507.0,519.3 L508.0,519.5 L509.0,519.6 L510.0,519.8 L511.0,519.9 L512.0,520.0 L513.0,520.2 L514.0,520.3 L515.0,520.5 L516.0,520.6 L517.0,520.7 L518.0,520.9 L519.0,521.0 L520.0,521.1 L521.0,521.3 L522.0,521.4 L523.0,521.5 L524.0,521.7 L525.0,521.8 L526.0,521.9 L527.0,522.1 L528.0,522.2 L529.0,522.3 L530.0,522.5 L530.2,522.5" fill="none" stroke="#4a4ab4" stroke-width="2.1" stroke-linejoin="round" stroke-linecap="round"/>
<path d="M128.0,515.3 L129.0,514.4 L130.0,513.5 L131.0,512.7 L132.0,511.8 L133.0,510.9 L134.0,510.1 L135.0,509.2 L136.0,508.4 L137.0,507.6 L138.0,506.8 L139.0,506.1 L140.0,505.3 L141.0,504.6 L142.0,503.9 L143.0,503.3 L144.0,502.6 L145.0,502.0 L146.0,501.5 L147.0,500.9 L148.0,500.4 L149.0,500.0 L150.0,499.5 L151.0,499.1 L152.0,498.7 L153.0,498.3 L154.0,498.0 L155.0,497.6 L156.0,497.3 L157.0,497.1 L158.0,496.8 L159.0,496.6 L160.0,496.3 L161.0,496.1 L162.0,496.0 L163.0,495.8 L164.0,495.6 L165.0,495.5 L166.0,495.4 L167.0,495.3 L168.0,495.2 L169.0,495.1 L170.0,495.0 L171.0,495.0 L172.0,494.9 L173.0,494.9 L174.0,494.8 L175.0,494.8 L176.0,494.8 L177.0,494.7 L178.0,494.7 L179.0,494.6 L180.0,494.6 L181.0,494.6 L182.0,494.5 L183.0,494.5 L184.0,494.4 L185.0,494.4 L186.0,494.3 L187.0,494.2 L188.0,494.1 L189.0,494.0 L190.0,493.9 L191.0,493.8 L192.0,493.7 L193.0,493.5 L194.0,493.3 L195.0,493.1 L196.0,492.9 L197.0,492.7 L198.0,492.5 L199.0,492.2 L200.0,491.9 L201.0,491.6 L202.0,491.3 L203.0,491.0 L204.0,490.6 L205.0,490.2 L206.0,489.8 L207.0,489.4 L208.0,488.9 L209.0,488.4 L210.0,487.9 L211.0,487.3 L212.0,486.8 L213.0,486.2 L214.0,485.5 L215.0,484.8 L216.0,484.1 L217.0,483.3 L218.0,482.5 L219.0,481.6 L220.0,480.7 L221.0,479.7 L222.0,478.7 L223.0,477.6 L224.0,476.4 L225.0,475.2 L226.0,473.9 L227.0,472.5 L228.0,471.1 L229.0,469.5 L230.0,467.9 L231.0,466.2 L232.0,464.4 L233.0,462.5 L234.0,460.6 L235.0,458.5 L236.0,456.3 L237.0,454.1 L238.0,451.7 L239.0,449.2 L240.0,446.6 L241.0,443.9 L242.0,441.1 L243.0,438.1 L244.0,435.0 L245.0,431.8 L246.0,428.5 L247.0,425.1 L248.0,421.5 L249.0,417.8 L250.0,413.9 L251.0,410.0 L252.0,406.0 L253.0,401.9 L254.0,397.7 L255.0,393.5 L256.0,389.2 L257.0,384.8 L258.0,380.3 L259.0,375.8 L260.0,371.4 L261.0,366.9 L262.0,362.5 L263.0,358.2 L264.0,354.0 L265.0,350.0 L266.0,346.2 L267.0,342.6 L268.0,339.3 L269.0,336.3 L270.0,333.7 L271.0,331.4 L272.0,329.5 L273.0,328.1 L274.0,327.2 L275.0,326.6 L276.0,326.4 L277.0,326.4 L278.0,326.6 L279.0,326.9 L280.0,327.2 L281.0,327.6 L282.0,327.9 L283.0,328.3 L284.0,328.7 L285.0,329.1 L286.0,329.6 L287.0,330.0 L288.0,330.5 L289.0,331.0 L290.0,331.6 L291.0,332.1 L292.0,332.7 L293.0,333.3 L294.0,333.9 L295.0,334.5 L296.0,335.2 L297.0,335.9 L298.0,336.6 L299.0,337.3 L300.0,338.0 L301.0,338.8 L302.0,339.5 L303.0,340.3 L304.0,341.1 L305.0,341.9 L306.0,342.7 L307.0,343.5 L308.0,344.3 L309.0,345.0 L310.0,345.8 L311.0,346.6 L312.0,347.4 L313.0,348.1 L314.0,348.9 L315.0,349.6 L316.0,350.3 L317.0,351.1 L318.0,351.8 L319.0,352.5 L320.0,353.2 L321.0,353.9 L322.0,354.6 L323.0,355.3 L324.0,356.0 L325.0,356.6 L326.0,357.3 L327.0,358.0 L328.0,358.7 L329.0,359.4 L330.0,360.1 L331.0,360.8 L332.0,361.4 L333.0,362.1 L334.0,362.8 L335.0,363.6 L336.0,364.3 L337.0,365.0 L338.0,365.7 L339.0,366.5 L340.0,367.2 L341.0,368.0 L342.0,368.7 L343.0,369.5 L344.0,370.3 L345.0,371.1 L346.0,371.9 L347.0,372.8 L348.0,373.6 L349.0,374.4 L350.0,375.3 L351.0,376.2 L352.0,377.0 L353.0,377.9 L354.0,378.9 L355.0,379.8 L356.0,380.7 L357.0,381.7 L358.0,382.6 L359.0,383.6 L360.0,384.6 L361.0,385.6 L362.0,386.7 L363.0,387.7 L364.0,388.8 L365.0,390.0 L366.0,391.1 L367.0,392.3 L368.0,393.5 L369.0,394.7 L370.0,396.0 L371.0,397.3 L372.0,398.7 L373.0,400.1 L374.0,401.5 L375.0,403.0 L376.0,404.5 L377.0,406.1 L378.0,407.7 L379.0,409.3 L380.0,411.0 L381.0,412.6 L382.0,414.3 L383.0,416.0 L384.0,417.8 L385.0,419.5 L386.0,421.2 L387.0,422.9 L388.0,424.7 L389.0,426.4 L390.0,428.1 L391.0,429.7 L392.0,431.4 L393.0,433.0 L394.0,434.7 L395.0,436.2 L396.0,437.8 L397.0,439.3 L398.0,440.8 L399.0,442.3 L400.0,443.8 L401.0,445.2 L402.0,446.6 L403.0,448.0 L404.0,449.4 L405.0,450.7 L406.0,452.1 L407.0,453.4 L408.0,454.7 L409.0,456.0 L410.0,457.2 L411.0,458.5 L412.0,459.7 L413.0,460.9 L414.0,462.1 L415.0,463.3 L416.0,464.5 L417.0,465.6 L418.0,466.7 L419.0,467.9 L420.0,469.0 L421.0,470.1 L422.0,471.1 L423.0,472.2 L424.0,473.2 L425.0,474.3 L426.0,475.3 L427.0,476.3 L428.0,477.3 L429.0,478.3 L430.0,479.2 L431.0,480.2 L432.0,481.1 L433.0,482.1 L434.0,483.0 L435.0,483.9 L436.0,484.8 L437.0,485.7 L438.0,486.5 L439.0,487.4 L440.0,488.2 L441.0,489.0 L442.0,489.9 L443.0,490.7 L444.0,491.5 L445.0,492.2 L446.0,493.0 L447.0,493.7 L448.0,494.5 L449.0,495.2 L450.0,495.9 L451.0,496.6 L452.0,497.3 L453.0,497.9 L454.0,498.6 L455.0,499.2 L456.0,499.9 L457.0,500.5 L458.0,501.1 L459.0,501.7 L460.0,502.2 L461.0,502.8 L462.0,503.3 L463.0,503.8 L464.0,504.4 L465.0,504.9 L466.0,505.3 L467.0,505.8 L468.0,506.2 L469.0,506.7 L470.0,507.1 L471.0,507.5 L472.0,507.9 L473.0,508.3 L474.0,508.7 L475.0,509.0 L476.0,509.4 L477.0,509.7 L478.0,510.0 L479.0,510.4 L480.0,510.7 L481.0,511.0 L482.0,511.3 L483.0,511.5 L484.0,511.8 L485.0,512.1 L486.0,512.3 L487.0,512.6 L488.0,512.8 L489.0,513.0 L490.0,513.3 L491.0,513.5 L492.0,513.7 L493.0,513.9 L494.0,514.1 L495.0,514.3 L496.0,514.5 L497.0,514.7 L498.0,514.9 L499.0,515.1 L500.0,515.3 L501.0,515.4 L502.0,515.6 L503.0,515.8 L504.0,516.0 L505.0,516.1 L506.0,516.3 L507.0,516.5 L508.0,516.6 L509.0,516.8 L510.0,516.9 L511.0,517.1 L512.0,517.3 L513.0,517.4 L514.0,517.6 L515.0,517.7 L516.0,517.9 L517.0,518.0 L518.0,518.2 L519.0,518.3 L520.0,518.5 L521.0,518.6 L522.0,518.8 L523.0,518.9 L524.0,519.1 L525.0,519.2 L526.0,519.4 L527.0,519.5 L528.0,519.7 L529.0,519.8 L530.0,520.0 L530.2,520.0" fill="none" stroke="#2f9e34" stroke-width="2.1" stroke-linejoin="round" stroke-linecap="round"/>
<path d="M128.0,525.9 L129.0,524.4 L130.0,522.8 L131.0,521.3 L132.0,519.8 L133.0,518.3 L134.0,516.8 L135.0,515.3 L136.0,513.9 L137.0,512.5 L138.0,511.1 L139.0,509.8 L140.0,508.5 L141.0,507.2 L142.0,506.0 L143.0,504.8 L144.0,503.7 L145.0,502.6 L146.0,501.6 L147.0,500.7 L148.0,499.8 L149.0,498.9 L150.0,498.1 L151.0,497.3 L152.0,496.6 L153.0,495.9 L154.0,495.3 L155.0,494.7 L156.0,494.1 L157.0,493.6 L158.0,493.2 L159.0,492.7 L160.0,492.3 L161.0,492.0 L162.0,491.7 L163.0,491.4 L164.0,491.2 L165.0,491.0 L166.0,490.8 L167.0,490.6 L168.0,490.5 L169.0,490.4 L170.0,490.4 L171.0,490.3 L172.0,490.3 L173.0,490.2 L174.0,490.2 L175.0,490.2 L176.0,490.2 L177.0,490.2 L178.0,490.1 L179.0,490.1 L180.0,490.1 L181.0,490.0 L182.0,490.0 L183.0,489.9 L184.0,489.8 L185.0,489.7 L186.0,489.5 L187.0,489.3 L188.0,489.1 L189.0,488.9 L190.0,488.6 L191.0,488.3 L192.0,488.0 L193.0,487.7 L194.0,487.4 L195.0,487.0 L196.0,486.6 L197.0,486.2 L198.0,485.8 L199.0,485.4 L200.0,485.0 L201.0,484.6 L202.0,484.1 L203.0,483.7 L204.0,483.2 L205.0,482.7 L206.0,482.3 L207.0,481.8 L208.0,481.3 L209.0,480.9 L210.0,480.4 L211.0,479.9 L212.0,479.4 L213.0,478.9 L214.0,478.4 L215.0,477.9 L216.0,477.3 L217.0,476.7 L218.0,476.1 L219.0,475.5 L220.0,474.9 L221.0,474.2 L222.0,473.5 L223.0,472.8 L224.0,472.1 L225.0,471.3 L226.0,470.4 L227.0,469.6 L228.0,468.6 L229.0,467.6 L230.0,466.5 L231.0,465.4 L232.0,464.1 L233.0,462.7 L234.0,461.2 L235.0,459.6 L236.0,457.8 L237.0,455.9 L238.0,453.8 L239.0,451.6 L240.0,449.1 L241.0,446.5 L242.0,443.7 L243.0,440.6 L244.0,437.4 L245.0,434.0 L246.0,430.3 L247.0,426.6 L248.0,422.7 L249.0,418.6 L250.0,414.5 L251.0,410.3 L252.0,406.1 L253.0,401.8 L254.0,397.5 L255.0,393.1 L256.0,388.9 L257.0,384.6 L258.0,380.4 L259.0,376.3 L260.0,372.2 L261.0,368.3 L262.0,364.3 L263.0,360.5 L264.0,356.7 L265.0,352.9 L266.0,349.1 L267.0,345.4 L268.0,341.7 L269.0,338.0 L270.0,334.4 L271.0,330.7 L272.0,327.0 L273.0,323.4 L274.0,319.7 L275.0,316.0 L276.0,312.4 L277.0,308.9 L278.0,305.4 L279.0,302.2 L280.0,299.1 L281.0,296.2 L282.0,293.5 L283.0,291.1 L284.0,288.9 L285.0,287.1 L286.0,285.5 L287.0,284.1 L288.0,283.0 L289.0,282.1 L290.0,281.5 L291.0,281.2 L292.0,281.0 L293.0,281.1 L294.0,281.4 L295.0,281.9 L296.0,282.6 L297.0,283.4 L298.0,284.5 L299.0,285.6 L300.0,286.9 L301.0,288.3 L302.0,289.9 L303.0,291.5 L304.0,293.3 L305.0,295.2 L306.0,297.1 L307.0,299.2 L308.0,301.3 L309.0,303.5 L310.0,305.8 L311.0,308.2 L312.0,310.7 L313.0,313.2 L314.0,315.7 L315.0,318.3 L316.0,321.0 L317.0,323.5 L318.0,326.1 L319.0,328.6 L320.0,331.1 L321.0,333.4 L322.0,335.7 L323.0,337.9 L324.0,340.1 L325.0,342.2 L326.0,344.2 L327.0,346.3 L328.0,348.3 L329.0,350.4 L330.0,352.4 L331.0,354.5 L332.0,356.6 L333.0,358.8 L334.0,361.0 L335.0,363.2 L336.0,365.5 L337.0,367.8 L338.0,370.0 L339.0,372.3 L340.0,374.6 L341.0,376.9 L342.0,379.2 L343.0,381.4 L344.0,383.6 L345.0,385.7 L346.0,387.8 L347.0,389.8 L348.0,391.8 L349.0,393.8 L350.0,395.7 L351.0,397.5 L352.0,399.3 L353.0,401.1 L354.0,402.8 L355.0,404.5 L356.0,406.1 L357.0,407.7 L358.0,409.3 L359.0,410.8 L360.0,412.2 L361.0,413.6 L362.0,415.0 L363.0,416.4 L364.0,417.7 L365.0,418.9 L366.0,420.2 L367.0,421.4 L368.0,422.5 L369.0,423.7 L370.0,424.8 L371.0,425.9 L372.0,427.0 L373.0,428.0 L374.0,429.1 L375.0,430.1 L376.0,431.1 L377.0,432.1 L378.0,433.0 L379.0,434.0 L380.0,434.9 L381.0,435.9 L382.0,436.8 L383.0,437.7 L384.0,438.6 L385.0,439.6 L386.0,440.5 L387.0,441.4 L388.0,442.3 L389.0,443.1 L390.0,444.0 L391.0,444.9 L392.0,445.8 L393.0,446.6 L394.0,447.5 L395.0,448.4 L396.0,449.2 L397.0,450.1 L398.0,450.9 L399.0,451.8 L400.0,452.6 L401.0,453.5 L402.0,454.3 L403.0,455.2 L404.0,456.0 L405.0,456.9 L406.0,457.7 L407.0,458.5 L408.0,459.4 L409.0,460.2 L410.0,461.0 L411.0,461.9 L412.0,462.7 L413.0,463.5 L414.0,464.4 L415.0,465.2 L416.0,466.0 L417.0,466.8 L418.0,467.6 L419.0,468.4 L420.0,469.3 L421.0,470.1 L422.0,470.9 L423.0,471.7 L424.0,472.4 L425.0,473.2 L426.0,474.0 L427.0,474.8 L428.0,475.6 L429.0,476.3 L430.0,477.1 L431.0,477.8 L432.0,478.6 L433.0,479.3 L434.0,480.0 L435.0,480.8 L436.0,481.5 L437.0,482.2 L438.0,482.9 L439.0,483.6 L440.0,484.3 L441.0,485.0 L442.0,485.6 L443.0,486.3 L444.0,487.0 L445.0,487.6 L446.0,488.3 L447.0,488.9 L448.0,489.5 L449.0,490.1 L450.0,490.8 L451.0,491.4 L452.0,492.0 L453.0,492.5 L454.0,493.1 L455.0,493.7 L456.0,494.2 L457.0,494.8 L458.0,495.3 L459.0,495.9 L460.0,496.4 L461.0,496.9 L462.0,497.4 L463.0,497.9 L464.0,498.4 L465.0,498.9 L466.0,499.3 L467.0,499.8 L468.0,500.2 L469.0,500.7 L470.0,501.1 L471.0,501.5 L472.0,501.9 L473.0,502.3 L474.0,502.7 L475.0,503.1 L476.0,503.5 L477.0,503.8 L478.0,504.2 L479.0,504.6 L480.0,504.9 L481.0,505.3 L482.0,505.6 L483.0,505.9 L484.0,506.2 L485.0,506.6 L486.0,506.9 L487.0,507.2 L488.0,507.5 L489.0,507.8 L490.0,508.0 L491.0,508.3 L492.0,508.6 L493.0,508.9 L494.0,509.1 L495.0,509.4 L496.0,509.7 L497.0,509.9 L498.0,510.2 L499.0,510.4 L500.0,510.7 L501.0,510.9 L502.0,511.1 L503.0,511.4 L504.0,511.6 L505.0,511.8 L506.0,512.1 L507.0,512.3 L508.0,512.5 L509.0,512.7 L510.0,512.9 L511.0,513.2 L512.0,513.4 L513.0,513.6 L514.0,513.8 L515.0,514.0 L516.0,514.2 L517.0,514.4 L518.0,514.6 L519.0,514.8 L520.0,515.0 L521.0,515.2 L522.0,515.4 L523.0,515.6 L524.0,515.8 L525.0,516.0 L526.0,516.2 L527.0,516.4 L528.0,516.6 L529.0,516.8 L530.0,517.0 L530.2,517.0" fill="none" stroke="#e5202a" stroke-width="2.1" stroke-linejoin="round" stroke-linecap="round"/>
<path d="M130.0,665.2 L131.0,663.9 L132.0,662.6 L133.0,661.3 L134.0,659.9 L135.0,658.6 L136.0,657.3 L137.0,656.0 L138.0,654.6 L139.0,653.3 L140.0,652.0 L141.0,650.6 L142.0,649.2 L143.0,647.9 L144.0,646.5 L145.0,645.1 L146.0,643.7 L147.0,642.3 L148.0,640.9 L149.0,639.6 L150.0,638.2 L151.0,636.9 L152.0,635.6 L153.0,634.3 L154.0,633.1 L155.0,632.0 L156.0,630.9 L157.0,629.9 L158.0,629.0 L159.0,628.2 L160.0,627.5 L161.0,626.9 L162.0,626.4 L163.0,626.0 L164.0,625.7 L165.0,625.6 L166.0,625.6 L167.0,625.7 L168.0,626.0 L169.0,626.4 L170.0,627.0 L171.0,627.7 L172.0,628.5 L173.0,629.4 L174.0,630.4 L175.0,631.6 L176.0,632.9 L177.0,634.3 L178.0,635.8 L179.0,637.5 L180.0,639.2 L181.0,641.0 L182.0,642.9 L183.0,644.9 L184.0,646.9 L185.0,649.0 L186.0,651.1 L187.0,653.3 L188.0,655.4 L189.0,657.6 L190.0,659.7 L191.0,661.9 L192.0,664.0 L193.0,666.1 L194.0,668.1 L195.0,670.1 L196.0,672.0 L197.0,673.8 L198.0,675.6 L199.0,677.2 L200.0,678.9 L201.0,680.4 L202.0,681.9 L203.0,683.2 L204.0,684.5 L205.0,685.8 L206.0,686.9 L207.0,687.9 L208.0,688.8 L209.0,689.7 L210.0,690.4 L211.0,691.1 L212.0,691.7 L213.0,692.2 L214.0,692.6 L215.0,692.9 L216.0,693.1 L217.0,693.3 L218.0,693.3 L219.0,693.3 L220.0,693.2 L221.0,693.1 L222.0,692.9 L223.0,692.7 L224.0,692.5 L225.0,692.3 L226.0,692.3 L227.0,692.5 L228.0,692.9 L229.0,693.5 L230.0,694.4 L231.0,695.7 L232.0,697.3 L233.0,699.1 L234.0,701.1 L235.0,703.2 L236.0,705.3 L237.0,707.3 L238.0,709.3 L239.0,711.2 L240.0,713.1 L241.0,714.9 L242.0,716.6 L243.0,718.3 L244.0,720.0 L245.0,721.6 L246.0,723.3 L247.0,724.9 L248.0,726.5 L249.0,728.1 L250.0,729.7 L251.0,731.3 L252.0,732.8 L253.0,734.4 L254.0,735.9 L255.0,737.4 L256.0,738.9 L257.0,740.4 L258.0,741.8 L259.0,743.2 L260.0,744.6 L261.0,745.9 L262.0,747.2 L263.0,748.5 L264.0,749.7 L265.0,750.9 L266.0,752.0 L267.0,753.2 L268.0,754.3 L269.0,755.3 L270.0,756.4 L271.0,757.4 L272.0,758.4 L273.0,759.3 L274.0,760.3 L275.0,761.2 L276.0,762.1 L277.0,763.0 L278.0,763.9 L279.0,764.7 L280.0,765.5 L281.0,766.4 L282.0,767.2 L283.0,768.0 L284.0,768.7 L285.0,769.5 L286.0,770.3 L287.0,771.1 L288.0,771.8 L289.0,772.6 L290.0,773.3 L291.0,774.0 L292.0,774.8 L293.0,775.5 L294.0,776.3 L295.0,777.0 L296.0,777.7 L297.0,778.5 L298.0,779.2 L299.0,779.9 L300.0,780.7 L301.0,781.4 L302.0,782.2 L303.0,783.0 L304.0,783.7 L305.0,784.5 L306.0,785.3 L307.0,786.1 L308.0,786.9 L309.0,787.7 L310.0,788.6 L311.0,789.4 L312.0,790.3 L313.0,791.1 L314.0,792.0 L315.0,792.9 L316.0,793.8 L317.0,794.7 L318.0,795.7 L319.0,796.6 L320.0,797.6 L321.0,798.6 L322.0,799.6 L323.0,800.6 L324.0,801.7 L325.0,802.7 L326.0,803.8 L327.0,804.8 L328.0,805.9 L329.0,807.0 L330.0,808.0 L331.0,809.1 L332.0,810.1 L333.0,811.1 L334.0,812.1 L335.0,813.0 L336.0,814.0 L337.0,814.9 L338.0,815.7 L339.0,816.5 L340.0,817.3 L341.0,818.0 L342.0,818.7 L343.0,819.3 L344.0,819.8 L345.0,820.3 L346.0,820.8 L347.0,821.2 L348.0,821.5 L349.0,821.8 L350.0,822.1 L351.0,822.4 L352.0,822.6 L353.0,822.7 L354.0,822.9 L355.0,823.0 L356.0,823.1 L357.0,823.2 L358.0,823.3 L359.0,823.4 L360.0,823.4 L361.0,823.5 L362.0,823.5 L363.0,823.6 L364.0,823.6 L365.0,823.6 L366.0,823.6 L367.0,823.5 L368.0,823.5 L369.0,823.4 L370.0,823.3 L371.0,823.1 L372.0,823.0 L373.0,822.7 L374.0,822.5 L375.0,822.2 L376.0,821.9 L377.0,821.5 L378.0,821.1 L379.0,820.7 L380.0,820.3 L381.0,819.8 L382.0,819.3 L383.0,818.8 L384.0,818.2 L385.0,817.7 L386.0,817.1 L387.0,816.5 L388.0,815.9 L389.0,815.3 L390.0,814.7 L391.0,814.1 L392.0,813.4 L393.0,812.8 L394.0,812.2 L395.0,811.5 L396.0,810.9 L397.0,810.3 L398.0,809.6 L399.0,809.0 L400.0,808.4 L401.0,807.8 L402.0,807.2 L403.0,806.7 L404.0,806.1 L405.0,805.6 L406.0,805.0 L407.0,804.5 L408.0,804.0 L409.0,803.5 L410.0,803.1 L411.0,802.6 L412.0,802.2 L413.0,801.7 L414.0,801.3 L415.0,800.9 L416.0,800.5 L417.0,800.1 L418.0,799.7 L419.0,799.3 L420.0,798.9 L421.0,798.5 L422.0,798.2 L423.0,797.8 L424.0,797.5 L425.0,797.1 L426.0,796.8 L427.0,796.5 L428.0,796.1 L429.0,795.8 L430.0,795.5 L431.0,795.2 L432.0,794.9 L433.0,794.5 L434.0,794.2 L435.0,793.9 L436.0,793.6 L437.0,793.3 L438.0,793.0 L439.0,792.7 L440.0,792.4 L441.0,792.1 L442.0,791.8 L443.0,791.5 L444.0,791.1 L445.0,790.8 L446.0,790.5 L447.0,790.2 L448.0,789.9 L449.0,789.6 L450.0,789.3 L451.0,789.0 L452.0,788.7 L453.0,788.4 L454.0,788.1 L455.0,787.8 L456.0,787.5 L457.0,787.2 L458.0,786.9 L459.0,786.6 L460.0,786.3 L461.0,786.0 L462.0,785.7 L463.0,785.5 L464.0,785.2 L465.0,784.9 L466.0,784.6 L467.0,784.3 L468.0,784.0 L469.0,783.7 L470.0,783.4 L471.0,783.2 L472.0,782.9 L473.0,782.6 L474.0,782.3 L475.0,782.0 L476.0,781.8 L477.0,781.5 L478.0,781.2 L479.0,781.0 L480.0,780.7 L481.0,780.4 L482.0,780.2 L483.0,779.9 L484.0,779.6 L485.0,779.4 L486.0,779.1 L487.0,778.9 L488.0,778.6 L489.0,778.4 L490.0,778.1 L491.0,777.9 L492.0,777.7 L493.0,777.4 L494.0,777.2 L495.0,777.0 L496.0,776.7 L497.0,776.5 L498.0,776.3 L499.0,776.1 L500.0,775.9 L501.0,775.7 L502.0,775.5 L503.0,775.3 L504.0,775.1 L505.0,774.9 L506.0,774.7 L507.0,774.5 L508.0,774.3 L509.0,774.1 L510.0,774.0 L511.0,773.8 L512.0,773.6 L513.0,773.5 L514.0,773.3 L515.0,773.1 L516.0,773.0 L517.0,772.8 L518.0,772.6 L519.0,772.5 L520.0,772.3 L521.0,772.2 L522.0,772.0 L523.0,771.9 L524.0,771.7 L525.0,771.6 L526.0,771.4 L527.0,771.3 L528.0,771.1 L529.0,771.0 L530.0,770.8 L531.0,770.7" fill="none" stroke="#3b3b3b" stroke-width="2.2" stroke-linejoin="round" stroke-linecap="round"/>
<path d="M130.0,653.6 L131.0,652.8 L132.0,652.0 L133.0,651.2 L134.0,650.4 L135.0,649.6 L136.0,648.7 L137.0,647.9 L138.0,647.0 L139.0,646.1 L140.0,645.2 L141.0,644.3 L142.0,643.3 L143.0,642.4 L144.0,641.3 L145.0,640.3 L146.0,639.2 L147.0,638.1 L148.0,636.9 L149.0,635.8 L150.0,634.7 L151.0,633.6 L152.0,632.5 L153.0,631.5 L154.0,630.5 L155.0,629.5 L156.0,628.7 L157.0,627.9 L158.0,627.2 L159.0,626.6 L160.0,626.1 L161.0,625.7 L162.0,625.5 L163.0,625.3 L164.0,625.4 L165.0,625.5 L166.0,625.8 L167.0,626.1 L168.0,626.6 L169.0,627.2 L170.0,627.9 L171.0,628.7 L172.0,629.6 L173.0,630.6 L174.0,631.7 L175.0,632.8 L176.0,634.1 L177.0,635.3 L178.0,636.7 L179.0,638.0 L180.0,639.4 L181.0,640.9 L182.0,642.4 L183.0,643.8 L184.0,645.3 L185.0,646.8 L186.0,648.3 L187.0,649.8 L188.0,651.3 L189.0,652.7 L190.0,654.1 L191.0,655.4 L192.0,656.7 L193.0,658.0 L194.0,659.2 L195.0,660.3 L196.0,661.5 L197.0,662.5 L198.0,663.6 L199.0,664.6 L200.0,665.6 L201.0,666.5 L202.0,667.4 L203.0,668.3 L204.0,669.1 L205.0,669.9 L206.0,670.7 L207.0,671.5 L208.0,672.3 L209.0,673.0 L210.0,673.7 L211.0,674.3 L212.0,674.9 L213.0,675.5 L214.0,675.9 L215.0,676.3 L216.0,676.6 L217.0,676.8 L218.0,676.9 L219.0,676.9 L220.0,676.8 L221.0,676.6 L222.0,676.2 L223.0,675.7 L224.0,675.1 L225.0,674.3 L226.0,673.5 L227.0,672.6 L228.0,671.7 L229.0,670.7 L230.0,669.6 L231.0,668.5 L232.0,667.3 L233.0,666.1 L234.0,665.0 L235.0,663.8 L236.0,662.6 L237.0,661.4 L238.0,660.3 L239.0,659.3 L240.0,658.3 L241.0,657.3 L242.0,656.5 L243.0,655.8 L244.0,655.2 L245.0,654.8 L246.0,654.5 L247.0,654.4 L248.0,654.4 L249.0,654.6 L250.0,655.0 L251.0,655.5 L252.0,656.2 L253.0,657.1 L254.0,658.1 L255.0,659.3 L256.0,660.7 L257.0,662.2 L258.0,663.9 L259.0,665.7 L260.0,667.6 L261.0,669.5 L262.0,671.6 L263.0,673.7 L264.0,675.7 L265.0,677.8 L266.0,679.8 L267.0,681.7 L268.0,683.6 L269.0,685.4 L270.0,687.1 L271.0,688.7 L272.0,690.3 L273.0,691.8 L274.0,693.2 L275.0,694.6 L276.0,695.9 L277.0,697.2 L278.0,698.5 L279.0,699.7 L280.0,700.9 L281.0,702.1 L282.0,703.3 L283.0,704.4 L284.0,705.5 L285.0,706.7 L286.0,707.8 L287.0,708.9 L288.0,710.0 L289.0,711.2 L290.0,712.3 L291.0,713.5 L292.0,714.6 L293.0,715.8 L294.0,716.9 L295.0,718.1 L296.0,719.3 L297.0,720.4 L298.0,721.6 L299.0,722.7 L300.0,723.8 L301.0,725.0 L302.0,726.1 L303.0,727.2 L304.0,728.3 L305.0,729.4 L306.0,730.5 L307.0,731.6 L308.0,732.7 L309.0,733.7 L310.0,734.7 L311.0,735.8 L312.0,736.8 L313.0,737.8 L314.0,738.8 L315.0,739.8 L316.0,740.8 L317.0,741.7 L318.0,742.7 L319.0,743.7 L320.0,744.7 L321.0,745.7 L322.0,746.7 L323.0,747.7 L324.0,748.7 L325.0,749.7 L326.0,750.7 L327.0,751.7 L328.0,752.7 L329.0,753.8 L330.0,754.8 L331.0,755.9 L332.0,756.9 L333.0,758.0 L334.0,759.0 L335.0,760.1 L336.0,761.1 L337.0,762.1 L338.0,763.2 L339.0,764.2 L340.0,765.1 L341.0,766.1 L342.0,767.0 L343.0,768.0 L344.0,768.8 L345.0,769.7 L346.0,770.5 L347.0,771.3 L348.0,772.1 L349.0,772.8 L350.0,773.5 L351.0,774.2 L352.0,774.8 L353.0,775.5 L354.0,776.0 L355.0,776.6 L356.0,777.2 L357.0,777.7 L358.0,778.2 L359.0,778.6 L360.0,779.1 L361.0,779.5 L362.0,779.9 L363.0,780.3 L364.0,780.7 L365.0,781.0 L366.0,781.3 L367.0,781.6 L368.0,781.9 L369.0,782.2 L370.0,782.4 L371.0,782.7 L372.0,782.9 L373.0,783.1 L374.0,783.3 L375.0,783.4 L376.0,783.6 L377.0,783.7 L378.0,783.9 L379.0,784.0 L380.0,784.1 L381.0,784.2 L382.0,784.3 L383.0,784.3 L384.0,784.4 L385.0,784.5 L386.0,784.5 L387.0,784.5 L388.0,784.6 L389.0,784.6 L390.0,784.6 L391.0,784.6 L392.0,784.6 L393.0,784.5 L394.0,784.5 L395.0,784.5 L396.0,784.5 L397.0,784.4 L398.0,784.4 L399.0,784.3 L400.0,784.2 L401.0,784.2 L402.0,784.1 L403.0,784.0 L404.0,783.9 L405.0,783.8 L406.0,783.7 L407.0,783.6 L408.0,783.5 L409.0,783.4 L410.0,783.3 L411.0,783.2 L412.0,783.1 L413.0,783.0 L414.0,782.8 L415.0,782.7 L416.0,782.6 L417.0,782.5 L418.0,782.3 L419.0,782.2 L420.0,782.1 L421.0,781.9 L422.0,781.8 L423.0,781.6 L424.0,781.5 L425.0,781.4 L426.0,781.2 L427.0,781.1 L428.0,780.9 L429.0,780.8 L430.0,780.6 L431.0,780.5 L432.0,780.3 L433.0,780.2 L434.0,780.0 L435.0,779.9 L436.0,779.7 L437.0,779.6 L438.0,779.4 L439.0,779.3 L440.0,779.1 L441.0,779.0 L442.0,778.8 L443.0,778.7 L444.0,778.5 L445.0,778.4 L446.0,778.2 L447.0,778.1 L448.0,777.9 L449.0,777.7 L450.0,777.6 L451.0,777.4 L452.0,777.3 L453.0,777.1 L454.0,777.0 L455.0,776.8 L456.0,776.7 L457.0,776.5 L458.0,776.4 L459.0,776.2 L460.0,776.1 L461.0,775.9 L462.0,775.7 L463.0,775.6 L464.0,775.4 L465.0,775.3 L466.0,775.1 L467.0,775.0 L468.0,774.8 L469.0,774.7 L470.0,774.5 L471.0,774.4 L472.0,774.2 L473.0,774.1 L474.0,773.9 L475.0,773.8 L476.0,773.6 L477.0,773.5 L478.0,773.3 L479.0,773.2 L480.0,773.0 L481.0,772.9 L482.0,772.7 L483.0,772.6 L484.0,772.4 L485.0,772.3 L486.0,772.1 L487.0,772.0 L488.0,771.8 L489.0,771.7 L490.0,771.6 L491.0,771.4 L492.0,771.3 L493.0,771.1 L494.0,771.0 L495.0,770.8 L496.0,770.7 L497.0,770.5 L498.0,770.4 L499.0,770.2 L500.0,770.1 L501.0,770.0 L502.0,769.8 L503.0,769.7 L504.0,769.5 L505.0,769.4 L506.0,769.2 L507.0,769.1 L508.0,769.0 L509.0,768.8 L510.0,768.7 L511.0,768.5 L512.0,768.4 L513.0,768.2 L514.0,768.1 L515.0,768.0 L516.0,767.8 L517.0,767.7 L518.0,767.5 L519.0,767.4 L520.0,767.3 L521.0,767.1 L522.0,767.0 L523.0,766.8 L524.0,766.7 L525.0,766.5 L526.0,766.4 L527.0,766.3 L528.0,766.1 L529.0,766.0 L530.0,765.8 L531.0,765.7" fill="none" stroke="#4a4ab4" stroke-width="2.2" stroke-linejoin="round" stroke-linecap="round"/>
<path d="M130.0,638.8 L131.0,638.0 L132.0,637.3 L133.0,636.5 L134.0,635.8 L135.0,635.0 L136.0,634.3 L137.0,633.6 L138.0,632.9 L139.0,632.2 L140.0,631.6 L141.0,630.9 L142.0,630.3 L143.0,629.7 L144.0,629.1 L145.0,628.6 L146.0,628.1 L147.0,627.6 L148.0,627.1 L149.0,626.7 L150.0,626.3 L151.0,625.9 L152.0,625.6 L153.0,625.2 L154.0,625.0 L155.0,624.7 L156.0,624.5 L157.0,624.3 L158.0,624.2 L159.0,624.1 L160.0,624.0 L161.0,624.0 L162.0,624.0 L163.0,624.1 L164.0,624.2 L165.0,624.3 L166.0,624.6 L167.0,624.9 L168.0,625.3 L169.0,625.8 L170.0,626.4 L171.0,627.2 L172.0,628.0 L173.0,629.0 L174.0,630.0 L175.0,631.2 L176.0,632.4 L177.0,633.7 L178.0,635.1 L179.0,636.5 L180.0,638.0 L181.0,639.4 L182.0,640.9 L183.0,642.3 L184.0,643.8 L185.0,645.2 L186.0,646.6 L187.0,647.9 L188.0,649.2 L189.0,650.4 L190.0,651.5 L191.0,652.6 L192.0,653.6 L193.0,654.5 L194.0,655.4 L195.0,656.3 L196.0,657.0 L197.0,657.8 L198.0,658.5 L199.0,659.1 L200.0,659.7 L201.0,660.3 L202.0,660.9 L203.0,661.4 L204.0,661.9 L205.0,662.3 L206.0,662.7 L207.0,663.1 L208.0,663.5 L209.0,663.8 L210.0,664.2 L211.0,664.4 L212.0,664.7 L213.0,664.9 L214.0,665.1 L215.0,665.2 L216.0,665.3 L217.0,665.3 L218.0,665.4 L219.0,665.3 L220.0,665.3 L221.0,665.1 L222.0,665.0 L223.0,664.8 L224.0,664.5 L225.0,664.2 L226.0,663.9 L227.0,663.5 L228.0,663.1 L229.0,662.6 L230.0,662.1 L231.0,661.5 L232.0,660.9 L233.0,660.2 L234.0,659.5 L235.0,658.7 L236.0,657.9 L237.0,657.0 L238.0,656.1 L239.0,655.1 L240.0,654.0 L241.0,652.9 L242.0,651.8 L243.0,650.5 L244.0,649.2 L245.0,647.8 L246.0,646.3 L247.0,644.7 L248.0,643.0 L249.0,641.2 L250.0,639.4 L251.0,637.4 L252.0,635.3 L253.0,633.1 L254.0,630.9 L255.0,628.7 L256.0,626.5 L257.0,624.3 L258.0,622.1 L259.0,620.0 L260.0,618.0 L261.0,616.1 L262.0,614.4 L263.0,612.8 L264.0,611.4 L265.0,610.2 L266.0,609.2 L267.0,608.6 L268.0,608.5 L269.0,608.7 L270.0,609.6 L271.0,611.0 L272.0,612.9 L273.0,615.2 L274.0,617.7 L275.0,620.5 L276.0,623.3 L277.0,626.0 L278.0,628.6 L279.0,631.1 L280.0,633.4 L281.0,635.7 L282.0,637.8 L283.0,639.9 L284.0,641.9 L285.0,643.8 L286.0,645.6 L287.0,647.4 L288.0,649.2 L289.0,650.9 L290.0,652.6 L291.0,654.3 L292.0,656.1 L293.0,657.8 L294.0,659.5 L295.0,661.2 L296.0,662.9 L297.0,664.6 L298.0,666.3 L299.0,668.0 L300.0,669.7 L301.0,671.4 L302.0,673.1 L303.0,674.7 L304.0,676.3 L305.0,677.9 L306.0,679.5 L307.0,681.1 L308.0,682.6 L309.0,684.1 L310.0,685.6 L311.0,687.1 L312.0,688.5 L313.0,689.8 L314.0,691.2 L315.0,692.5 L316.0,693.7 L317.0,694.9 L318.0,696.2 L319.0,697.3 L320.0,698.5 L321.0,699.6 L322.0,700.7 L323.0,701.8 L324.0,702.9 L325.0,703.9 L326.0,705.0 L327.0,706.0 L328.0,707.0 L329.0,708.0 L330.0,709.0 L331.0,710.0 L332.0,711.0 L333.0,712.0 L334.0,713.0 L335.0,714.0 L336.0,715.0 L337.0,716.0 L338.0,717.0 L339.0,718.0 L340.0,719.0 L341.0,720.0 L342.0,721.0 L343.0,722.0 L344.0,723.0 L345.0,724.0 L346.0,725.0 L347.0,726.0 L348.0,727.0 L349.0,728.0 L350.0,729.0 L351.0,730.0 L352.0,731.0 L353.0,732.0 L354.0,732.9 L355.0,733.8 L356.0,734.7 L357.0,735.6 L358.0,736.4 L359.0,737.2 L360.0,738.0 L361.0,738.7 L362.0,739.5 L363.0,740.1 L364.0,740.8 L365.0,741.4 L366.0,742.0 L367.0,742.5 L368.0,743.1 L369.0,743.6 L370.0,744.1 L371.0,744.5 L372.0,744.9 L373.0,745.4 L374.0,745.8 L375.0,746.1 L376.0,746.5 L377.0,746.8 L378.0,747.1 L379.0,747.5 L380.0,747.8 L381.0,748.0 L382.0,748.3 L383.0,748.6 L384.0,748.8 L385.0,749.1 L386.0,749.3 L387.0,749.5 L388.0,749.8 L389.0,750.0 L390.0,750.2 L391.0,750.4 L392.0,750.6 L393.0,750.8 L394.0,751.0 L395.0,751.2 L396.0,751.4 L397.0,751.5 L398.0,751.7 L399.0,751.9 L400.0,752.0 L401.0,752.2 L402.0,752.3 L403.0,752.5 L404.0,752.6 L405.0,752.8 L406.0,752.9 L407.0,753.0 L408.0,753.1 L409.0,753.3 L410.0,753.4 L411.0,753.5 L412.0,753.6 L413.0,753.7 L414.0,753.8 L415.0,753.9 L416.0,754.0 L417.0,754.1 L418.0,754.1 L419.0,754.2 L420.0,754.3 L421.0,754.3 L422.0,754.4 L423.0,754.5 L424.0,754.5 L425.0,754.6 L426.0,754.6 L427.0,754.7 L428.0,754.7 L429.0,754.8 L430.0,754.8 L431.0,754.8 L432.0,754.9 L433.0,754.9 L434.0,754.9 L435.0,754.9 L436.0,754.9 L437.0,755.0 L438.0,755.0 L439.0,755.0 L440.0,755.0 L441.0,755.0 L442.0,755.0 L443.0,755.0 L444.0,755.0 L445.0,755.0 L446.0,755.0 L447.0,755.0 L448.0,755.0 L449.0,754.9 L450.0,754.9 L451.0,754.9 L452.0,754.9 L453.0,754.9 L454.0,754.9 L455.0,754.8 L456.0,754.8 L457.0,754.8 L458.0,754.8 L459.0,754.7 L460.0,754.7 L461.0,754.7 L462.0,754.6 L463.0,754.6 L464.0,754.5 L465.0,754.5 L466.0,754.5 L467.0,754.4 L468.0,754.4 L469.0,754.3 L470.0,754.3 L471.0,754.3 L472.0,754.2 L473.0,754.2 L474.0,754.1 L475.0,754.1 L476.0,754.0 L477.0,753.9 L478.0,753.9 L479.0,753.8 L480.0,753.8 L481.0,753.7 L482.0,753.7 L483.0,753.6 L484.0,753.6 L485.0,753.5 L486.0,753.4 L487.0,753.4 L488.0,753.3 L489.0,753.2 L490.0,753.2 L491.0,753.1 L492.0,753.1 L493.0,753.0 L494.0,752.9 L495.0,752.9 L496.0,752.8 L497.0,752.7 L498.0,752.7 L499.0,752.6 L500.0,752.5 L501.0,752.4 L502.0,752.4 L503.0,752.3 L504.0,752.2 L505.0,752.2 L506.0,752.1 L507.0,752.0 L508.0,751.9 L509.0,751.9 L510.0,751.8 L511.0,751.7 L512.0,751.7 L513.0,751.6 L514.0,751.5 L515.0,751.4 L516.0,751.4 L517.0,751.3 L518.0,751.2 L519.0,751.1 L520.0,751.0 L521.0,751.0 L522.0,750.9 L523.0,750.8 L524.0,750.7 L525.0,750.7 L526.0,750.6 L527.0,750.5 L528.0,750.4 L529.0,750.4 L530.0,750.3 L531.0,750.2" fill="none" stroke="#2f9e34" stroke-width="2.2" stroke-linejoin="round" stroke-linecap="round"/>
<path d="M130.0,634.8 L131.0,633.5 L132.0,632.3 L133.0,631.1 L134.0,629.9 L135.0,628.8 L136.0,627.7 L137.0,626.7 L138.0,625.8 L139.0,625.0 L140.0,624.2 L141.0,623.6 L142.0,623.1 L143.0,622.6 L144.0,622.2 L145.0,621.8 L146.0,621.5 L147.0,621.3 L148.0,621.1 L149.0,621.0 L150.0,620.9 L151.0,620.8 L152.0,620.7 L153.0,620.7 L154.0,620.7 L155.0,620.7 L156.0,620.7 L157.0,620.7 L158.0,620.7 L159.0,620.8 L160.0,620.9 L161.0,621.0 L162.0,621.2 L163.0,621.5 L164.0,621.8 L165.0,622.3 L166.0,622.8 L167.0,623.4 L168.0,624.1 L169.0,624.9 L170.0,625.9 L171.0,626.9 L172.0,628.0 L173.0,629.2 L174.0,630.4 L175.0,631.7 L176.0,633.0 L177.0,634.3 L178.0,635.6 L179.0,637.0 L180.0,638.3 L181.0,639.6 L182.0,640.9 L183.0,642.2 L184.0,643.3 L185.0,644.5 L186.0,645.5 L187.0,646.5 L188.0,647.4 L189.0,648.3 L190.0,649.1 L191.0,649.8 L192.0,650.5 L193.0,651.2 L194.0,651.8 L195.0,652.4 L196.0,652.9 L197.0,653.4 L198.0,653.8 L199.0,654.2 L200.0,654.6 L201.0,655.0 L202.0,655.3 L203.0,655.6 L204.0,655.9 L205.0,656.1 L206.0,656.3 L207.0,656.5 L208.0,656.7 L209.0,656.8 L210.0,656.9 L211.0,657.0 L212.0,657.0 L213.0,657.0 L214.0,657.0 L215.0,657.0 L216.0,657.0 L217.0,656.9 L218.0,656.8 L219.0,656.7 L220.0,656.6 L221.0,656.5 L222.0,656.3 L223.0,656.1 L224.0,655.9 L225.0,655.6 L226.0,655.3 L227.0,655.0 L228.0,654.7 L229.0,654.3 L230.0,653.9 L231.0,653.4 L232.0,653.0 L233.0,652.4 L234.0,651.9 L235.0,651.3 L236.0,650.7 L237.0,650.0 L238.0,649.2 L239.0,648.4 L240.0,647.5 L241.0,646.5 L242.0,645.5 L243.0,644.4 L244.0,643.1 L245.0,641.8 L246.0,640.3 L247.0,638.8 L248.0,637.1 L249.0,635.3 L250.0,633.4 L251.0,631.5 L252.0,629.4 L253.0,627.2 L254.0,625.0 L255.0,622.8 L256.0,620.5 L257.0,618.1 L258.0,615.7 L259.0,613.3 L260.0,610.9 L261.0,608.5 L262.0,606.1 L263.0,603.7 L264.0,601.3 L265.0,599.0 L266.0,596.7 L267.0,594.4 L268.0,592.2 L269.0,590.1 L270.0,588.0 L271.0,586.0 L272.0,584.1 L273.0,582.2 L274.0,580.5 L275.0,578.8 L276.0,577.2 L277.0,575.8 L278.0,574.4 L279.0,573.2 L280.0,572.1 L281.0,571.1 L282.0,570.3 L283.0,569.5 L284.0,568.9 L285.0,568.4 L286.0,568.1 L287.0,567.8 L288.0,567.7 L289.0,567.8 L290.0,567.9 L291.0,568.2 L292.0,568.7 L293.0,569.2 L294.0,569.9 L295.0,570.7 L296.0,571.6 L297.0,572.7 L298.0,573.9 L299.0,575.2 L300.0,576.6 L301.0,578.2 L302.0,579.9 L303.0,581.7 L304.0,583.5 L305.0,585.5 L306.0,587.6 L307.0,589.8 L308.0,592.0 L309.0,594.3 L310.0,596.7 L311.0,599.1 L312.0,601.6 L313.0,604.1 L314.0,606.7 L315.0,609.2 L316.0,611.9 L317.0,614.5 L318.0,617.2 L319.0,619.8 L320.0,622.5 L321.0,625.2 L322.0,627.8 L323.0,630.5 L324.0,633.1 L325.0,635.7 L326.0,638.3 L327.0,640.8 L328.0,643.3 L329.0,645.7 L330.0,648.1 L331.0,650.4 L332.0,652.7 L333.0,654.9 L334.0,657.0 L335.0,659.0 L336.0,660.9 L337.0,662.8 L338.0,664.6 L339.0,666.3 L340.0,668.0 L341.0,669.6 L342.0,671.2 L343.0,672.7 L344.0,674.1 L345.0,675.5 L346.0,676.8 L347.0,678.1 L348.0,679.4 L349.0,680.6 L350.0,681.7 L351.0,682.8 L352.0,683.9 L353.0,685.0 L354.0,686.0 L355.0,687.0 L356.0,688.0 L357.0,689.0 L358.0,689.9 L359.0,690.8 L360.0,691.7 L361.0,692.5 L362.0,693.4 L363.0,694.2 L364.0,695.0 L365.0,695.7 L366.0,696.5 L367.0,697.2 L368.0,697.9 L369.0,698.6 L370.0,699.3 L371.0,699.9 L372.0,700.5 L373.0,701.2 L374.0,701.8 L375.0,702.3 L376.0,702.9 L377.0,703.5 L378.0,704.0 L379.0,704.6 L380.0,705.1 L381.0,705.6 L382.0,706.1 L383.0,706.6 L384.0,707.1 L385.0,707.5 L386.0,708.0 L387.0,708.5 L388.0,708.9 L389.0,709.4 L390.0,709.8 L391.0,710.2 L392.0,710.6 L393.0,711.1 L394.0,711.5 L395.0,711.9 L396.0,712.3 L397.0,712.7 L398.0,713.0 L399.0,713.4 L400.0,713.8 L401.0,714.1 L402.0,714.5 L403.0,714.9 L404.0,715.2 L405.0,715.5 L406.0,715.9 L407.0,716.2 L408.0,716.5 L409.0,716.8 L410.0,717.1 L411.0,717.4 L412.0,717.7 L413.0,718.0 L414.0,718.3 L415.0,718.6 L416.0,718.8 L417.0,719.1 L418.0,719.4 L419.0,719.6 L420.0,719.9 L421.0,720.1 L422.0,720.4 L423.0,720.6 L424.0,720.8 L425.0,721.0 L426.0,721.3 L427.0,721.5 L428.0,721.7 L429.0,721.9 L430.0,722.1 L431.0,722.3 L432.0,722.4 L433.0,722.6 L434.0,722.8 L435.0,723.0 L436.0,723.1 L437.0,723.3 L438.0,723.5 L439.0,723.6 L440.0,723.8 L441.0,723.9 L442.0,724.1 L443.0,724.2 L444.0,724.3 L445.0,724.4 L446.0,724.6 L447.0,724.7 L448.0,724.8 L449.0,724.9 L450.0,725.0 L451.0,725.1 L452.0,725.2 L453.0,725.3 L454.0,725.4 L455.0,725.5 L456.0,725.6 L457.0,725.6 L458.0,725.7 L459.0,725.8 L460.0,725.9 L461.0,725.9 L462.0,726.0 L463.0,726.0 L464.0,726.1 L465.0,726.2 L466.0,726.2 L467.0,726.3 L468.0,726.3 L469.0,726.3 L470.0,726.4 L471.0,726.4 L472.0,726.5 L473.0,726.5 L474.0,726.5 L475.0,726.6 L476.0,726.6 L477.0,726.6 L478.0,726.6 L479.0,726.7 L480.0,726.7 L481.0,726.7 L482.0,726.7 L483.0,726.8 L484.0,726.8 L485.0,726.8 L486.0,726.8 L487.0,726.8 L488.0,726.9 L489.0,726.9 L490.0,726.9 L491.0,726.9 L492.0,726.9 L493.0,726.9 L494.0,726.9 L495.0,727.0 L496.0,727.0 L497.0,727.0 L498.0,727.0 L499.0,727.0 L500.0,727.0 L501.0,727.0 L502.0,727.0 L503.0,727.1 L504.0,727.1 L505.0,727.1 L506.0,727.1 L507.0,727.1 L508.0,727.1 L509.0,727.1 L510.0,727.1 L511.0,727.1 L512.0,727.1 L513.0,727.1 L514.0,727.1 L515.0,727.1 L516.0,727.1 L517.0,727.1 L518.0,727.2 L519.0,727.2 L520.0,727.2 L521.0,727.2 L522.0,727.2 L523.0,727.2 L524.0,727.2 L525.0,727.2 L526.0,727.2 L527.0,727.2 L528.0,727.2 L529.0,727.2 L530.0,727.2 L531.0,727.2" fill="none" stroke="#e5202a" stroke-width="2.2" stroke-linejoin="round" stroke-linecap="round"/>
<g fill="#f9d39c" style="mix-blend-mode:multiply">
<path d="M202.7,27.9 L367.9,138.7 L373.6,120.2 Q384,142 398.2,168.6 Q370,159.5 343.7,162.8 L358.7,151.8 L194.8,36.3 Z"/>
<polygon points="187,476 254.5,310.5 239.3,308.5 270,283.7 271.5,316 197.5,481"/>
<path d="M346.5,298.4 L358,298.4 L358,432 L376.8,425.7 Q360,445 351.8,469.5 Q345,445 325.7,424.7 L346.5,432 Z"/>
<polygon points="192,724 203,728 266,566 276.5,578 275.6,529.7 243.7,556.9 260,560"/>
</g>
<g fill="#f9d39c" fill-opacity="0.32">
<path d="M202.7,27.9 L367.9,138.7 L373.6,120.2 Q384,142 398.2,168.6 Q370,159.5 343.7,162.8 L358.7,151.8 L194.8,36.3 Z"/>
<polygon points="187,476 254.5,310.5 239.3,308.5 270,283.7 271.5,316 197.5,481"/>
<path d="M346.5,298.4 L358,298.4 L358,432 L376.8,425.7 Q360,445 351.8,469.5 Q345,445 325.7,424.7 L346.5,432 Z"/>
<polygon points="192,724 203,728 266,566 276.5,578 275.6,529.7 243.7,556.9 260,560"/>
</g>
<g stroke="#e5202a" stroke-width="2.6" fill="none" stroke-linecap="round" stroke-linejoin="round"><line x1="291.8" y1="264.0" x2="291.8" y2="277.5"/><polyline points="285.8,271.0 291.8,278.5 297.8,271.0"/></g>
<g stroke="#2f9e34" stroke-width="2.6" fill="none" stroke-linecap="round" stroke-linejoin="round"><line x1="275.0" y1="311.5" x2="275.0" y2="326.0"/><polyline points="269.0,319.5 275.0,327.0 281.0,319.5"/></g>
<g stroke="#4a4ab4" stroke-width="3.4" fill="none" stroke-linecap="round" stroke-linejoin="round"><line x1="251.2" y1="371.0" x2="251.2" y2="386.0"/><polyline points="245.2,379.5 251.2,387.0 257.2,379.5"/></g>
<g stroke="#111" stroke-width="2.6" fill="none" stroke-linecap="round" stroke-linejoin="round"><line x1="234.4" y1="415.0" x2="234.4" y2="428.0"/><polyline points="228.4,421.5 234.4,429.0 240.4,421.5"/></g>
<g stroke="#e5202a" stroke-width="2.6" fill="none" stroke-linecap="round" stroke-linejoin="round"><line x1="285.0" y1="550.0" x2="285.0" y2="563.0"/><polyline points="279.0,556.5 285.0,564.0 291.0,556.5"/></g>
<g stroke="#2f9e34" stroke-width="2.6" fill="none" stroke-linecap="round" stroke-linejoin="round"><line x1="270.9" y1="597.0" x2="270.9" y2="610.0"/><polyline points="264.9,603.5 270.9,611.0 276.9,603.5"/></g>
<g stroke="#4a4ab4" stroke-width="3.4" fill="none" stroke-linecap="round" stroke-linejoin="round"><line x1="248.5" y1="637.0" x2="248.5" y2="651.0"/><polyline points="242.5,644.5 248.5,652.0 254.5,644.5"/></g>
<g stroke="#111" stroke-width="2.6" fill="none" stroke-linecap="round" stroke-linejoin="round"><line x1="230.8" y1="677.0" x2="230.8" y2="690.0"/><polyline points="224.8,683.5 230.8,691.0 236.8,683.5"/></g>
<g fill="none" stroke="#6a6464" stroke-width="2">
<line x1="128.5" y1="4" x2="128.5" y2="826"/>
<line x1="530.8" y1="4" x2="530.8" y2="531"/>
<line x1="533.3" y1="531" x2="533.3" y2="826" stroke="#4a4444" stroke-width="2.6"/>
<line x1="128" y1="4.2" x2="531.5" y2="4.2"/>
</g>
<g stroke="#3a3536" stroke-width="3">
<line x1="127" y1="263.2" x2="532.0" y2="263.2"/>
<line x1="127" y1="531.0" x2="532.0" y2="531.0"/>
<line x1="127" y1="825.8" x2="534.5" y2="825.8"/>
</g>
<g stroke="#4a4545" stroke-width="2.2">
<line x1="130.3" y1="263.2" x2="130.3" y2="272.2"/>
<line x1="187.5" y1="263.2" x2="187.5" y2="272.2"/>
<line x1="244.7" y1="263.2" x2="244.7" y2="272.2"/>
<line x1="301.9" y1="263.2" x2="301.9" y2="272.2"/>
<line x1="359.1" y1="263.2" x2="359.1" y2="272.2"/>
<line x1="416.3" y1="263.2" x2="416.3" y2="272.2"/>
<line x1="473.5" y1="263.2" x2="473.5" y2="272.2"/>
<line x1="530.7" y1="263.2" x2="530.7" y2="272.2"/>
<line x1="130.3" y1="531.0" x2="130.3" y2="540.0"/>
<line x1="187.5" y1="531.0" x2="187.5" y2="540.0"/>
<line x1="244.7" y1="531.0" x2="244.7" y2="540.0"/>
<line x1="301.9" y1="531.0" x2="301.9" y2="540.0"/>
<line x1="359.1" y1="531.0" x2="359.1" y2="540.0"/>
<line x1="416.3" y1="531.0" x2="416.3" y2="540.0"/>
<line x1="473.5" y1="531.0" x2="473.5" y2="540.0"/>
<line x1="530.7" y1="531.0" x2="530.7" y2="540.0"/>
<line x1="130.3" y1="825.8" x2="130.3" y2="834.8"/>
<line x1="187.5" y1="825.8" x2="187.5" y2="834.8"/>
<line x1="244.7" y1="825.8" x2="244.7" y2="834.8"/>
<line x1="301.9" y1="825.8" x2="301.9" y2="834.8"/>
<line x1="359.1" y1="825.8" x2="359.1" y2="834.8"/>
<line x1="416.3" y1="825.8" x2="416.3" y2="834.8"/>
<line x1="473.5" y1="825.8" x2="473.5" y2="834.8"/>
<line x1="530.7" y1="825.8" x2="530.7" y2="834.8"/>
</g>
<g stroke="#6a6464" stroke-width="2">
<line x1="117" y1="29.2" x2="128" y2="29.2"/>
<line x1="117" y1="85.8" x2="128" y2="85.8"/>
<line x1="117" y1="144.6" x2="128" y2="144.6"/>
<line x1="117" y1="202.7" x2="128" y2="202.7"/>
<line x1="117" y1="261.8" x2="128" y2="261.8"/>
<line x1="117" y1="290.0" x2="128" y2="290.0"/>
<line x1="117" y1="349.7" x2="128" y2="349.7"/>
<line x1="117" y1="409.8" x2="128" y2="409.8"/>
<line x1="117" y1="469.5" x2="128" y2="469.5"/>
<line x1="117" y1="529.6" x2="128" y2="529.6"/>
<line x1="117" y1="584.5" x2="128" y2="584.5"/>
<line x1="117" y1="624.5" x2="128" y2="624.5"/>
<line x1="117" y1="664.2" x2="128" y2="664.2"/>
<line x1="117" y1="703.9" x2="128" y2="703.9"/>
<line x1="117" y1="743.6" x2="128" y2="743.6"/>
<line x1="117" y1="783.3" x2="128" y2="783.3"/>
<line x1="117" y1="823.0" x2="128" y2="823.0"/>
</g>
<g font-family="Liberation Sans, sans-serif" font-size="29.5" fill="#1a1718" text-anchor="end">
<text x="110.3" y="38.7">200</text>
<text x="110.3" y="95.3">150</text>
<text x="110.3" y="154.1">100</text>
<text x="110.3" y="212.2">50</text>
<text x="110.3" y="271.3">0</text>
<text x="110.3" y="299.5">200</text>
<text x="110.3" y="359.2">150</text>
<text x="110.3" y="419.3">100</text>
<text x="110.3" y="479.0">50</text>
<text x="110.3" y="539.1">0</text>
<text x="110.3" y="594.0">0.2</text>
<text x="110.3" y="634.0">0.0</text>
<text x="110.3" y="673.7">−0.2</text>
<text x="110.3" y="713.4">−0.4</text>
<text x="110.3" y="753.1">−0.6</text>
<text x="110.3" y="792.8">−0.8</text>
<text x="110.3" y="832.5">−1.0</text>
</g>
<g font-family="Liberation Sans, sans-serif" font-size="28" fill="#1a1718" text-anchor="middle">
<text x="130.3" y="862.5">450</text>
<text x="187.5" y="862.5">500</text>
<text x="244.7" y="862.5">550</text>
<text x="301.9" y="862.5">600</text>
<text x="359.1" y="862.5">650</text>
<text x="416.3" y="862.5">700</text>
<text x="473.5" y="862.5">750</text>
<text x="530.7" y="862.5">800</text>
</g>
<text font-family="Liberation Sans, sans-serif" font-size="29.3" fill="#1a1718" x="332.7" y="901.5" text-anchor="middle">Wavelength (nm)</text>
<text font-family="Liberation Sans, sans-serif" font-size="29" fill="#1a1718" transform="translate(35.2,465) rotate(-90)">Scattering cross-section (m<tspan font-size="17.5" dy="-11.5">2</tspan><tspan dy="11.5">)</tspan></text>
<text font-family="Liberation Sans, sans-serif" font-size="29.8" fill="#1a1718" transform="translate(29.5,791) rotate(-90)">Optical force (nN)</text>
<text font-family="Liberation Sans, sans-serif" font-size="41" font-weight="bold" fill="#1a1718" x="-1" y="33">A</text>
<text font-family="Liberation Sans, sans-serif" font-size="33.5" fill="#231f20" x="180.5" y="36">ED</text>
<text font-family="Liberation Sans, sans-serif" font-size="34" fill="#231f20" x="179.5" y="297.8">MD</text>
<text font-family="Liberation Sans, sans-serif" font-size="30.5" fill="#1a1718" x="175.3" y="570">F<tspan font-size="17.5" dy="10" dx="0.5">z</tspan></text>
<text font-family="Liberation Sans, sans-serif" font-size="28" fill="#2f2c8c" x="387.5" y="594.3">Repulsive</text>
<text font-family="Liberation Sans, sans-serif" font-size="28.5" fill="#e41e26" x="390" y="680">Attractive</text>
<line x1="421" y1="16.9" x2="442" y2="16.9" stroke="#6b6b6b" stroke-width="3"/>
<text font-family="Liberation Sans, sans-serif" font-size="18" fill="#1a1718" x="448" y="23.0"><tspan font-size="20">n</tspan><tspan font-size="13" dy="6">o</tspan><tspan dy="-6" dx="4" font-size="20">=</tspan><tspan dx="5" font-size="19.5">1.0</tspan></text>
<line x1="421" y1="41.7" x2="442" y2="41.7" stroke="#5a55b8" stroke-width="3"/>
<text font-family="Liberation Sans, sans-serif" font-size="18" fill="#1a1718" x="448" y="48.4"><tspan font-size="20">n</tspan><tspan font-size="13" dy="6">o</tspan><tspan dy="-6" dx="4" font-size="20">=</tspan><tspan dx="5" font-size="19.5">1.1</tspan></text>
<line x1="421" y1="65.9" x2="442" y2="65.9" stroke="#46a84a" stroke-width="3"/>
<text font-family="Liberation Sans, sans-serif" font-size="18" fill="#1a1718" x="448" y="72.0"><tspan font-size="20">n</tspan><tspan font-size="13" dy="6">o</tspan><tspan dy="-6" dx="4" font-size="20">=</tspan><tspan dx="5" font-size="19.5">1.2</tspan></text>
<line x1="421" y1="94.0" x2="442" y2="94.0" stroke="#ea3a44" stroke-width="3"/>
<text font-family="Liberation Sans, sans-serif" font-size="18" fill="#1a1718" x="448" y="99.7"><tspan font-size="20">n</tspan><tspan font-size="13" dy="6">o</tspan><tspan dy="-6" dx="4" font-size="20">=</tspan><tspan dx="5" font-size="19.5">1.33</tspan></text>
<defs>
<linearGradient id="hot" x1="0" x2="1" y1="0" y2="0">
 <stop offset="0" stop-color="#3a8fd8" stop-opacity="0.2"/>
 <stop offset="0.12" stop-color="#43c3ec"/>
 <stop offset="0.28" stop-color="#6cc36a"/>
 <stop offset="0.36" stop-color="#f4ea12"/>
 <stop offset="0.44" stop-color="#ee3a1c"/>
 <stop offset="0.56" stop-color="#d8172a"/>
 <stop offset="0.66" stop-color="#ee4a1a"/>
 <stop offset="0.73" stop-color="#f4e814"/>
 <stop offset="0.80" stop-color="#7cc870"/>
 <stop offset="0.9" stop-color="#45c4ee"/>
 <stop offset="1" stop-color="#4aa8e0" stop-opacity="0.5"/>
</linearGradient>
<linearGradient id="ecb" x1="0" x2="0" y1="0" y2="1">
 <stop offset="0" stop-color="#a01818"/>
 <stop offset="0.12" stop-color="#e11f26"/>
 <stop offset="0.2" stop-color="#e8281e"/>
 <stop offset="0.31" stop-color="#f47a20"/>
 <stop offset="0.42" stop-color="#f2e01a"/>
 <stop offset="0.53" stop-color="#80c060"/>
 <stop offset="0.66" stop-color="#40c0ea"/>
 <stop offset="0.82" stop-color="#3a68c0"/>
 <stop offset="1" stop-color="#3a3894"/>
</linearGradient>
<linearGradient id="qcb" x1="0" x2="0" y1="0" y2="1">
 <stop offset="0" stop-color="#a4161a"/>
 <stop offset="0.22" stop-color="#e3171d"/>
 <stop offset="0.5" stop-color="#eef0f6"/>
 <stop offset="0.75" stop-color="#3c50aa"/>
 <stop offset="1" stop-color="#2c2c8a"/>
</linearGradient>
<linearGradient id="mapshade" x1="0" y1="0" x2="0.6" y2="0.5">
 <stop offset="0" stop-color="#2e2e90" stop-opacity="0.55"/><stop offset="1" stop-color="#2e2e90" stop-opacity="0"/>
</linearGradient>
<filter id="b1" x="-50%" y="-50%" width="200%" height="200%"><feGaussianBlur stdDeviation="1"/></filter>
<filter id="b2" x="-50%" y="-50%" width="200%" height="200%"><feGaussianBlur stdDeviation="3"/></filter>
<filter id="b6" x="-50%" y="-50%" width="200%" height="200%"><feGaussianBlur stdDeviation="8"/></filter>
<filter id="bs" x="-20%" y="-20%" width="140%" height="140%"><feGaussianBlur stdDeviation="0.5"/></filter>
</defs>
<clipPath id="cm0"><rect x="618.0" y="37.2" width="157.0" height="256.8"/></clipPath>
<g clip-path="url(#cm0)">
<rect x="618.0" y="37.2" width="157.0" height="256.8" fill="#3f4fa7"/>
<rect x="618.0" y="37.2" width="157.0" height="256.8" fill="url(#mapshade)"/>
<ellipse cx="630.0" cy="177.5" rx="14" ry="70" fill="#4c6ab8" opacity="0.8" filter="url(#b6)"/>
<ellipse cx="763.0" cy="177.5" rx="14" ry="70" fill="#4a64b6" opacity="0.6" filter="url(#b6)"/>
<ellipse cx="696.9" cy="286.0" rx="40" ry="12" fill="#4a62b4" opacity="0.7" filter="url(#b6)"/>
<circle cx="698.6" cy="120.5" r="44.5" fill="#3c489f"/>
<circle cx="698.6" cy="215.5" r="44.5" fill="#3c489f"/>
<circle cx="698.6" cy="120.5" r="44.5" fill="none" stroke="#7474c4" stroke-width="1" opacity="0.8"/>
<circle cx="698.6" cy="215.5" r="44.5" fill="none" stroke="#7474c4" stroke-width="1" opacity="0.8"/>
<linearGradient id="hot0" gradientUnits="userSpaceOnUse" x1="664.9" y1="0" x2="720.9" y2="0">
<stop offset="0.000" stop-color="#4a90d8" stop-opacity="0.00"/>
<stop offset="0.107" stop-color="#45c0ee" stop-opacity="0.90"/>
<stop offset="0.286" stop-color="#50c4e4" stop-opacity="1.00"/>
<stop offset="0.321" stop-color="#86c86a" stop-opacity="1.00"/>
<stop offset="0.357" stop-color="#f2e616" stop-opacity="1.00"/>
<stop offset="0.411" stop-color="#ef5a1c" stop-opacity="1.00"/>
<stop offset="0.482" stop-color="#d8182a" stop-opacity="1.00"/>
<stop offset="0.625" stop-color="#d8182a" stop-opacity="1.00"/>
<stop offset="0.688" stop-color="#ef6a1a" stop-opacity="1.00"/>
<stop offset="0.732" stop-color="#f2e414" stop-opacity="1.00"/>
<stop offset="0.777" stop-color="#84c870" stop-opacity="1.00"/>
<stop offset="0.821" stop-color="#4ec6ea" stop-opacity="1.00"/>
<stop offset="0.929" stop-color="#45c4ee" stop-opacity="0.90"/>
<stop offset="1.000" stop-color="#4aa0e0" stop-opacity="0.30"/>
</linearGradient>
<path d="M664.9,156.5 C682.9,160.5 688.9,165.0 696.9,165.0 C704.9,165.0 710.9,161.5 720.9,159.5 L720.9,174.5 C710.9,173.5 704.9,170.0 696.9,170.0 C688.9,170.0 682.9,174.5 664.9,178.5 Z" fill="url(#hot0)" filter="url(#bs)"/>
<g filter="url(#bs)" fill="#e4e4f0" opacity="0.85" font-family="Liberation Sans, sans-serif">
<text x="634.0" y="64.5" font-size="23.5" textLength="133.0" lengthAdjust="spacingAndGlyphs">air (n<tspan font-size="15" dy="8">0</tspan><tspan dy="-8">=1.0)</tspan></text>
<text x="681.1" y="129.0" font-size="28" fill="#f2f2fa">Si</text>
<text x="688.6" y="226.0" font-size="28" fill="#f2f2fa">Si</text>
</g>
<rect x="674.9" y="158" width="44" height="21.7" fill="none" stroke="#dcdcee" stroke-width="2.2" stroke-dasharray="5.5 8" stroke-dashoffset="-2" opacity="0.85"/>
</g>
<text font-family="Liberation Sans, sans-serif" font-size="29" fill="#141213" x="621.0" y="28.8"><tspan font-family="Liberation Serif, serif" font-size="31">λ</tspan> = 640 nm</text>
<linearGradient id="dg0_674" gradientUnits="userSpaceOnUse" x1="674.9" y1="180.0" x2="629.1" y2="294.0"><stop offset="0" stop-color="#f0eef8" stop-opacity="0.95"/><stop offset="0.45" stop-color="#e8e0f0" stop-opacity="0.8"/><stop offset="0.8" stop-color="#a890b0" stop-opacity="0.8"/><stop offset="1" stop-color="#504050" stop-opacity="0.9"/></linearGradient>
<line x1="674.9" y1="180.0" x2="629.1" y2="294.0" stroke="url(#dg0_674)" stroke-width="2.4" stroke-dasharray="6 8"/>
<line x1="629.1" y1="294.0" x2="619.5" y2="318.0" stroke="#4a4444" stroke-width="2.4" stroke-dasharray="6 8"/>
<linearGradient id="dg0_718" gradientUnits="userSpaceOnUse" x1="718.9" y1="180.0" x2="766.1" y2="294.0"><stop offset="0" stop-color="#f0eef8" stop-opacity="0.95"/><stop offset="0.45" stop-color="#e8e0f0" stop-opacity="0.8"/><stop offset="0.8" stop-color="#a890b0" stop-opacity="0.8"/><stop offset="1" stop-color="#504050" stop-opacity="0.9"/></linearGradient>
<line x1="718.9" y1="180.0" x2="766.1" y2="294.0" stroke="url(#dg0_718)" stroke-width="2.4" stroke-dasharray="6 8"/>
<line x1="766.1" y1="294.0" x2="776.0" y2="318.0" stroke="#4a4444" stroke-width="2.4" stroke-dasharray="6 8"/>
<linearGradient id="qg0U" gradientUnits="userSpaceOnUse" x1="619.5" y1="350" x2="776.2" y2="300">
<stop offset="0" stop-color="#a0121a"/><stop offset="0.2" stop-color="#c8101a"/><stop offset="0.36" stop-color="#e8121c"/><stop offset="0.58" stop-color="#e8161e"/><stop offset="0.7" stop-color="#f09ca0"/><stop offset="0.8" stop-color="#d8d6da"/><stop offset="0.9" stop-color="#9898cc"/><stop offset="1" stop-color="#4a48a8"/></linearGradient>
<linearGradient id="qg0L" gradientUnits="userSpaceOnUse" x1="619.5" y1="360" x2="776.2" y2="400">
<stop offset="0" stop-color="#262884"/><stop offset="0.5" stop-color="#3a4aa2"/><stop offset="0.62" stop-color="#8a8ccc"/><stop offset="0.72" stop-color="#d8d6da"/><stop offset="0.86" stop-color="#f0a0a0"/><stop offset="1" stop-color="#e23a40"/></linearGradient>
<path d="M619.5,318.1 L776.2,318.1 L776.2,328.5 Q697.9,372.0 619.5,328.5 Z" fill="url(#qg0U)"/>
<path d="M619.5,393.9 L776.2,393.9 L776.2,383.0 Q697.9,339.0 619.5,383.0 Z" fill="url(#qg0L)"/>
<rect x="619.5" y="318.1" width="156.7" height="75.8" fill="none" stroke="#3c3838" stroke-width="3.2" stroke-dasharray="5.5 8.3"/>
<g stroke="#f8f4f8" stroke-width="2.2" opacity="0.95">
<path d="M645.0,336.7 h8 M649.0,332.7 v8"/>
<path d="M655.0,340.4 h8 M659.0,336.4 v8"/>
<path d="M669.6,345.2 h8 M673.6,341.2 v8"/>
<path d="M683.0,345.2 h8 M687.0,341.2 v8"/>
<path d="M697.0,345.9 h8 M701.0,341.9 v8"/>
<path d="M645.0,374.0 h8"/>
<path d="M658.6,371.0 h8"/>
<path d="M671.4,366.0 h8"/>
<path d="M685.0,366.0 h8"/>
<path d="M699.0,366.0 h8"/>
</g>
<clipPath id="cm1"><rect x="820.5" y="37.2" width="157.0" height="256.8"/></clipPath>
<g clip-path="url(#cm1)">
<rect x="820.5" y="37.2" width="157.0" height="256.8" fill="#3e4ea8"/>
<rect x="820.5" y="37.2" width="157.0" height="256.8" fill="url(#mapshade)"/>
<ellipse cx="834.5" cy="167.5" rx="10" ry="9" fill="#2f3a92" opacity="0.9" filter="url(#b2)"/>
<ellipse cx="934.5" cy="167.5" rx="11" ry="10" fill="#2e3890" opacity="0.9" filter="url(#b2)"/>
<path d="M922.2,80.6 A47.0,47.0 0 0,1 940.9,138.1" fill="none" stroke="#46c4f0" stroke-width="14" stroke-linecap="round" opacity="0.9" filter="url(#b2)"/>
<path d="M928.9,87.8 A45.5,45.5 0 0,1 942.1,128.4" fill="none" stroke="#5ad0f4" stroke-width="5" stroke-linecap="round" filter="url(#b1)"/>
<path d="M943.8,209.0 A47.0,47.0 0 0,1 922.2,255.4" fill="none" stroke="#46c4f0" stroke-width="14" stroke-linecap="round" opacity="0.9" filter="url(#b2)"/>
<path d="M942.7,218.7 A45.5,45.5 0 0,1 928.9,248.2" fill="none" stroke="#5ad0f4" stroke-width="5" stroke-linecap="round" filter="url(#b1)"/>
<circle cx="897.3" cy="120.5" r="44.5" fill="#3c4aa2"/>
<circle cx="897.3" cy="215.5" r="44.5" fill="#3c4aa2"/>
<ellipse cx="901.3" cy="136.5" rx="22" ry="8" fill="#4a5cb0" opacity="0.5" filter="url(#b2)"/>
<ellipse cx="901.3" cy="201.5" rx="22" ry="8" fill="#4a5cb0" opacity="0.5" filter="url(#b2)"/>
<path d="M892.3,76.5 A44.5,44.5 0 0,0 857.3,138.5" fill="none" stroke="#50c8ee" stroke-width="1.5" opacity="0.6" filter="url(#bs)"/>
<path d="M854.3,225.5 A44.5,44.5 0 0,0 887.3,258.5" fill="none" stroke="#50c8ee" stroke-width="1.5" opacity="0.5" filter="url(#bs)"/>
<circle cx="897.3" cy="120.5" r="44.5" fill="none" stroke="#7474c4" stroke-width="1" opacity="0.8"/>
<circle cx="897.3" cy="215.5" r="44.5" fill="none" stroke="#7474c4" stroke-width="1" opacity="0.8"/>
<linearGradient id="hot1" gradientUnits="userSpaceOnUse" x1="864.5" y1="0" x2="920.5" y2="0">
<stop offset="0.000" stop-color="#4a90d8" stop-opacity="0.00"/>
<stop offset="0.107" stop-color="#45c0ee" stop-opacity="0.90"/>
<stop offset="0.286" stop-color="#50c4e4" stop-opacity="1.00"/>
<stop offset="0.321" stop-color="#86c86a" stop-opacity="1.00"/>
<stop offset="0.357" stop-color="#f2e616" stop-opacity="1.00"/>
<stop offset="0.411" stop-color="#ef5a1c" stop-opacity="1.00"/>
<stop offset="0.482" stop-color="#d8182a" stop-opacity="1.00"/>
<stop offset="0.625" stop-color="#d8182a" stop-opacity="1.00"/>
<stop offset="0.688" stop-color="#ef6a1a" stop-opacity="1.00"/>
<stop offset="0.732" stop-color="#f2e414" stop-opacity="1.00"/>
<stop offset="0.777" stop-color="#84c870" stop-opacity="1.00"/>
<stop offset="0.821" stop-color="#4ec6ea" stop-opacity="1.00"/>
<stop offset="0.929" stop-color="#45c4ee" stop-opacity="0.90"/>
<stop offset="1.000" stop-color="#4aa0e0" stop-opacity="0.30"/>
</linearGradient>
<path d="M864.5,156.5 C882.5,160.5 888.5,165.0 896.5,165.0 C904.5,165.0 910.5,161.5 920.5,159.5 L920.5,174.5 C910.5,173.5 904.5,170.0 896.5,170.0 C888.5,170.0 882.5,174.5 864.5,178.5 Z" fill="url(#hot1)" filter="url(#bs)"/>
<g filter="url(#bs)" fill="#e4e4f0" opacity="0.85" font-family="Liberation Sans, sans-serif">
<text x="819.5" y="64.5" font-size="23.5" textLength="157.0" lengthAdjust="spacingAndGlyphs">water (n<tspan font-size="15" dy="8">0</tspan><tspan dy="-8">=1.33)</tspan></text>
</g>
<rect x="874.5" y="158" width="44" height="21.7" fill="none" stroke="#dcdcee" stroke-width="2.2" stroke-dasharray="5.5 8" stroke-dashoffset="-2" opacity="0.85"/>
</g>
<text font-family="Liberation Sans, sans-serif" font-size="29" fill="#141213" x="823.8" y="28.8"><tspan font-family="Liberation Serif, serif" font-size="31">λ</tspan> = 594 nm</text>
<linearGradient id="dg1_874" gradientUnits="userSpaceOnUse" x1="874.5" y1="180.0" x2="831.1" y2="294.0"><stop offset="0" stop-color="#f0eef8" stop-opacity="0.95"/><stop offset="0.45" stop-color="#e8e0f0" stop-opacity="0.8"/><stop offset="0.8" stop-color="#a890b0" stop-opacity="0.8"/><stop offset="1" stop-color="#504050" stop-opacity="0.9"/></linearGradient>
<line x1="874.5" y1="180.0" x2="831.1" y2="294.0" stroke="url(#dg1_874)" stroke-width="2.4" stroke-dasharray="6 8"/>
<line x1="831.1" y1="294.0" x2="822.0" y2="318.0" stroke="#4a4444" stroke-width="2.4" stroke-dasharray="6 8"/>
<linearGradient id="dg1_918" gradientUnits="userSpaceOnUse" x1="918.5" y1="180.0" x2="968.1" y2="294.0"><stop offset="0" stop-color="#f0eef8" stop-opacity="0.95"/><stop offset="0.45" stop-color="#e8e0f0" stop-opacity="0.8"/><stop offset="0.8" stop-color="#a890b0" stop-opacity="0.8"/><stop offset="1" stop-color="#504050" stop-opacity="0.9"/></linearGradient>
<line x1="918.5" y1="180.0" x2="968.1" y2="294.0" stroke="url(#dg1_918)" stroke-width="2.4" stroke-dasharray="6 8"/>
<line x1="968.1" y1="294.0" x2="978.5" y2="318.0" stroke="#4a4444" stroke-width="2.4" stroke-dasharray="6 8"/>
<linearGradient id="qg1U" gradientUnits="userSpaceOnUse" x1="822.0" y1="330" x2="978.7" y2="330">
<stop offset="0" stop-color="#5858b0"/><stop offset="0.18" stop-color="#b0b0da"/><stop offset="0.33" stop-color="#dcdcdc"/><stop offset="0.5" stop-color="#f0b8b8"/><stop offset="1" stop-color="#e64a50"/></linearGradient>
<linearGradient id="qg1L" gradientUnits="userSpaceOnUse" x1="822.0" y1="380" x2="978.7" y2="380">
<stop offset="0" stop-color="#e23a40"/><stop offset="0.2" stop-color="#f0a8a8"/><stop offset="0.33" stop-color="#dcdcdc"/><stop offset="0.55" stop-color="#b8b8dc"/><stop offset="1" stop-color="#7070b8"/></linearGradient>
<path d="M822.0,318.1 L978.7,318.1 L978.7,328.5 Q900.4,372.0 822.0,328.5 Z" fill="url(#qg1U)"/>
<path d="M822.0,393.9 L978.7,393.9 L978.7,383.0 Q900.4,339.0 822.0,383.0 Z" fill="url(#qg1L)"/>
<rect x="822.0" y="318.1" width="156.7" height="75.8" fill="none" stroke="#3c3838" stroke-width="3.2" stroke-dasharray="5.5 8.3"/>
<g stroke="#f8f4f8" stroke-width="2.2" opacity="0.95">
<path d="M889.5,348.4 h8 M893.5,344.4 v8"/>
<path d="M889.0,369.0 h8"/>
</g>
<clipPath id="cm2"><rect x="1015.5" y="37.2" width="157.0" height="256.8"/></clipPath>
<g clip-path="url(#cm2)">
<rect x="1015.5" y="37.2" width="157.0" height="256.8" fill="#3b3f9e"/>
<rect x="1015.5" y="37.2" width="157.0" height="256.8" fill="url(#mapshade)"/>
<ellipse cx="1049.2" cy="172.5" rx="14" ry="40" fill="#4e6cbc" opacity="0.55" filter="url(#b6)"/>
<ellipse cx="1143.2" cy="172.5" rx="14" ry="40" fill="#4e6cbc" opacity="0.55" filter="url(#b6)"/>
<ellipse cx="1147.2" cy="107.2" rx="16" ry="26" fill="#4a62b8" opacity="0.45" filter="url(#b6)"/>
<ellipse cx="1085.2" cy="282.0" rx="30" ry="14" fill="#4a62b8" opacity="0.4" filter="url(#b6)"/>
<circle cx="1096.0" cy="120.5" r="44.5" fill="#38389a"/>
<circle cx="1096.0" cy="215.5" r="44.5" fill="#38389a"/>
<circle cx="1096.0" cy="120.5" r="44.5" fill="none" stroke="#7474c4" stroke-width="1" opacity="0.8"/>
<circle cx="1096.0" cy="215.5" r="44.5" fill="none" stroke="#7474c4" stroke-width="1" opacity="0.8"/>
<linearGradient id="hot2" gradientUnits="userSpaceOnUse" x1="1069.2" y1="0" x2="1119.2" y2="0">
<stop offset="0.000" stop-color="#4a90d8" stop-opacity="0.00"/>
<stop offset="0.120" stop-color="#45c0ee" stop-opacity="0.90"/>
<stop offset="0.200" stop-color="#50c4e4" stop-opacity="1.00"/>
<stop offset="0.240" stop-color="#86c86a" stop-opacity="1.00"/>
<stop offset="0.280" stop-color="#f2e616" stop-opacity="1.00"/>
<stop offset="0.340" stop-color="#ef5a1c" stop-opacity="1.00"/>
<stop offset="0.420" stop-color="#d8182a" stop-opacity="1.00"/>
<stop offset="0.580" stop-color="#d8182a" stop-opacity="1.00"/>
<stop offset="0.650" stop-color="#ef6a1a" stop-opacity="1.00"/>
<stop offset="0.700" stop-color="#f2e414" stop-opacity="1.00"/>
<stop offset="0.750" stop-color="#84c870" stop-opacity="1.00"/>
<stop offset="0.800" stop-color="#4ec6ea" stop-opacity="1.00"/>
<stop offset="0.920" stop-color="#45c4ee" stop-opacity="0.90"/>
<stop offset="1.000" stop-color="#4aa0e0" stop-opacity="0.30"/>
</linearGradient>
<path d="M1069.2,156.5 C1081.2,160.5 1087.2,165.0 1095.2,165.0 C1103.2,165.0 1109.2,161.5 1119.2,159.5 L1119.2,174.5 C1109.2,173.5 1103.2,170.0 1095.2,170.0 C1087.2,170.0 1081.2,174.5 1069.2,178.5 Z" fill="url(#hot2)" filter="url(#bs)"/>
<g filter="url(#bs)" fill="#e4e4f0" opacity="0.85" font-family="Liberation Sans, sans-serif">
<text x="1031.5" y="64.5" font-size="23.5" textLength="133.0" lengthAdjust="spacingAndGlyphs">air (n<tspan font-size="15" dy="8">0</tspan><tspan dy="-8">=1.0)</tspan></text>
</g>
<rect x="1073.2" y="158" width="44" height="21.7" fill="none" stroke="#dcdcee" stroke-width="2.2" stroke-dasharray="5.5 8" stroke-dashoffset="-2" opacity="0.85"/>
</g>
<text font-family="Liberation Sans, sans-serif" font-size="29" fill="#141213" x="1023.0" y="28.8"><tspan font-family="Liberation Serif, serif" font-size="31">λ</tspan> = 750 nm</text>
<linearGradient id="dg2_1073" gradientUnits="userSpaceOnUse" x1="1073.2" y1="180.0" x2="1026.8" y2="294.0"><stop offset="0" stop-color="#f0eef8" stop-opacity="0.95"/><stop offset="0.45" stop-color="#e8e0f0" stop-opacity="0.8"/><stop offset="0.8" stop-color="#a890b0" stop-opacity="0.8"/><stop offset="1" stop-color="#504050" stop-opacity="0.9"/></linearGradient>
<line x1="1073.2" y1="180.0" x2="1026.8" y2="294.0" stroke="url(#dg2_1073)" stroke-width="2.4" stroke-dasharray="6 8"/>
<line x1="1026.8" y1="294.0" x2="1017.0" y2="318.0" stroke="#4a4444" stroke-width="2.4" stroke-dasharray="6 8"/>
<linearGradient id="dg2_1117" gradientUnits="userSpaceOnUse" x1="1117.2" y1="180.0" x2="1163.7" y2="294.0"><stop offset="0" stop-color="#f0eef8" stop-opacity="0.95"/><stop offset="0.45" stop-color="#e8e0f0" stop-opacity="0.8"/><stop offset="0.8" stop-color="#a890b0" stop-opacity="0.8"/><stop offset="1" stop-color="#504050" stop-opacity="0.9"/></linearGradient>
<line x1="1117.2" y1="180.0" x2="1163.7" y2="294.0" stroke="url(#dg2_1117)" stroke-width="2.4" stroke-dasharray="6 8"/>
<line x1="1163.7" y1="294.0" x2="1173.5" y2="318.0" stroke="#4a4444" stroke-width="2.4" stroke-dasharray="6 8"/>
<linearGradient id="qg2U" x1="0" y1="0" x2="0" y2="1">
<stop offset="0" stop-color="#e3141a"/><stop offset="0.45" stop-color="#dc121a"/><stop offset="1" stop-color="#9c1016"/></linearGradient>
<linearGradient id="qg2L" x1="0" y1="0" x2="0" y2="1">
<stop offset="0" stop-color="#2c2c8c"/><stop offset="0.6" stop-color="#3a48a4"/><stop offset="1" stop-color="#4050aa"/></linearGradient>
<path d="M1017.0,318.1 L1173.7,318.1 L1173.7,328.5 Q1095.3,372.0 1017.0,328.5 Z" fill="url(#qg2U)"/>
<path d="M1017.0,393.9 L1173.7,393.9 L1173.7,383.0 Q1095.3,339.0 1017.0,383.0 Z" fill="url(#qg2L)"/>
<rect x="1017.0" y="318.1" width="156.7" height="75.8" fill="none" stroke="#3c3838" stroke-width="3.2" stroke-dasharray="5.5 8.3"/>
<g stroke="#f8f4f8" stroke-width="2.2" opacity="0.95">
<path d="M1057.0,340.6 h8 M1061.0,336.6 v8"/>
<path d="M1073.0,344.0 h8 M1077.0,340.0 v8"/>
<path d="M1088.0,344.0 h8 M1092.0,340.0 v8"/>
<path d="M1100.6,343.0 h8 M1104.6,339.0 v8"/>
<path d="M1115.6,344.0 h8 M1119.6,340.0 v8"/>
<path d="M1057.0,369.5 h8"/>
<path d="M1074.0,365.5 h8"/>
<path d="M1090.0,365.5 h8"/>
<path d="M1103.5,365.5 h8"/>
<path d="M1116.6,369.5 h8"/>
</g>
<clipPath id="cm3"><rect x="1219.5" y="37.2" width="157.0" height="256.8"/></clipPath>
<g clip-path="url(#cm3)">
<rect x="1219.5" y="37.2" width="157.0" height="256.8" fill="#3d44a2"/>
<rect x="1219.5" y="37.2" width="157.0" height="256.8" fill="url(#mapshade)"/>
<ellipse cx="1250.1" cy="172.5" rx="12" ry="36" fill="#4a64b8" opacity="0.45" filter="url(#b6)"/>
<ellipse cx="1348.1" cy="172.5" rx="12" ry="36" fill="#4a64b8" opacity="0.45" filter="url(#b6)"/>
<ellipse cx="1268.1" cy="280.0" rx="30" ry="14" fill="#4a62b4" opacity="0.45" filter="url(#b6)"/>
<ellipse cx="1325.1" cy="167.5" rx="9" ry="7" fill="#50c8f0" opacity="0.55" filter="url(#b2)"/>
<circle cx="1299.8" cy="120.5" r="44.5" fill="#3a3c9c"/>
<circle cx="1299.8" cy="215.5" r="44.5" fill="#3a3c9c"/>
<circle cx="1299.8" cy="120.5" r="44.5" fill="none" stroke="#7474c4" stroke-width="1" opacity="0.8"/>
<circle cx="1299.8" cy="215.5" r="44.5" fill="none" stroke="#7474c4" stroke-width="1" opacity="0.8"/>
<linearGradient id="hot3" gradientUnits="userSpaceOnUse" x1="1272.1" y1="0" x2="1324.1" y2="0">
<stop offset="0.000" stop-color="#4a90d8" stop-opacity="0.00"/>
<stop offset="0.115" stop-color="#45c0ee" stop-opacity="0.90"/>
<stop offset="0.192" stop-color="#50c4e4" stop-opacity="1.00"/>
<stop offset="0.231" stop-color="#86c86a" stop-opacity="1.00"/>
<stop offset="0.269" stop-color="#f2e616" stop-opacity="1.00"/>
<stop offset="0.327" stop-color="#ef5a1c" stop-opacity="1.00"/>
<stop offset="0.404" stop-color="#d8182a" stop-opacity="1.00"/>
<stop offset="0.558" stop-color="#d8182a" stop-opacity="1.00"/>
<stop offset="0.625" stop-color="#ef6a1a" stop-opacity="1.00"/>
<stop offset="0.673" stop-color="#f2e414" stop-opacity="1.00"/>
<stop offset="0.721" stop-color="#84c870" stop-opacity="1.00"/>
<stop offset="0.769" stop-color="#4ec6ea" stop-opacity="1.00"/>
<stop offset="0.923" stop-color="#45c4ee" stop-opacity="0.90"/>
<stop offset="1.000" stop-color="#4aa0e0" stop-opacity="0.30"/>
</linearGradient>
<path d="M1272.1,156.5 C1284.1,160.5 1290.1,165.0 1298.1,165.0 C1306.1,165.0 1312.1,161.5 1324.1,159.5 L1324.1,174.5 C1312.1,173.5 1306.1,170.0 1298.1,170.0 C1290.1,170.0 1284.1,174.5 1272.1,178.5 Z" fill="url(#hot3)" filter="url(#bs)"/>
<g filter="url(#bs)" fill="#e4e4f0" opacity="0.85" font-family="Liberation Sans, sans-serif">
<text x="1218.5" y="64.5" font-size="23.5" textLength="157.0" lengthAdjust="spacingAndGlyphs">water (n<tspan font-size="15" dy="8">0</tspan><tspan dy="-8">=1.33)</tspan></text>
</g>
<rect x="1276.1" y="158" width="44" height="21.7" fill="none" stroke="#dcdcee" stroke-width="2.2" stroke-dasharray="5.5 8" stroke-dashoffset="-2" opacity="0.85"/>
</g>
<text font-family="Liberation Sans, sans-serif" font-size="29" fill="#141213" x="1220.8" y="28.8"><tspan font-family="Liberation Serif, serif" font-size="31">λ</tspan> = 750 nm</text>
<linearGradient id="dg3_1276" gradientUnits="userSpaceOnUse" x1="1276.1" y1="180.0" x2="1230.6" y2="294.0"><stop offset="0" stop-color="#f0eef8" stop-opacity="0.95"/><stop offset="0.45" stop-color="#e8e0f0" stop-opacity="0.8"/><stop offset="0.8" stop-color="#a890b0" stop-opacity="0.8"/><stop offset="1" stop-color="#504050" stop-opacity="0.9"/></linearGradient>
<line x1="1276.1" y1="180.0" x2="1230.6" y2="294.0" stroke="url(#dg3_1276)" stroke-width="2.4" stroke-dasharray="6 8"/>
<line x1="1230.6" y1="294.0" x2="1221.0" y2="318.0" stroke="#4a4444" stroke-width="2.4" stroke-dasharray="6 8"/>
<linearGradient id="dg3_1320" gradientUnits="userSpaceOnUse" x1="1320.1" y1="180.0" x2="1367.5" y2="294.0"><stop offset="0" stop-color="#f0eef8" stop-opacity="0.95"/><stop offset="0.45" stop-color="#e8e0f0" stop-opacity="0.8"/><stop offset="0.8" stop-color="#a890b0" stop-opacity="0.8"/><stop offset="1" stop-color="#504050" stop-opacity="0.9"/></linearGradient>
<line x1="1320.1" y1="180.0" x2="1367.5" y2="294.0" stroke="url(#dg3_1320)" stroke-width="2.4" stroke-dasharray="6 8"/>
<line x1="1367.5" y1="294.0" x2="1377.5" y2="318.0" stroke="#4a4444" stroke-width="2.4" stroke-dasharray="6 8"/>
<linearGradient id="qg3U" x1="0" y1="0" x2="0" y2="1">
<stop offset="0" stop-color="#e3141a"/><stop offset="0.45" stop-color="#dc121a"/><stop offset="1" stop-color="#9c1016"/></linearGradient>
<linearGradient id="qg3L" x1="0" y1="0" x2="0" y2="1">
<stop offset="0" stop-color="#2c2c8c"/><stop offset="0.6" stop-color="#3a48a4"/><stop offset="1" stop-color="#4050aa"/></linearGradient>
<path d="M1221.0,318.1 L1377.7,318.1 L1377.7,328.5 Q1299.3,372.0 1221.0,328.5 Z" fill="url(#qg3U)"/>
<path d="M1221.0,393.9 L1377.7,393.9 L1377.7,383.0 Q1299.3,339.0 1221.0,383.0 Z" fill="url(#qg3L)"/>
<rect x="1221.0" y="318.1" width="156.7" height="75.8" fill="none" stroke="#3c3838" stroke-width="3.2" stroke-dasharray="5.5 8.3"/>
<g stroke="#f8f4f8" stroke-width="2.2" opacity="0.95">
<path d="M1261.3,340.6 h8 M1265.3,336.6 v8"/>
<path d="M1280.0,344.0 h8 M1284.0,340.0 v8"/>
<path d="M1297.0,344.0 h8 M1301.0,340.0 v8"/>
<path d="M1312.0,344.0 h8 M1316.0,340.0 v8"/>
<path d="M1328.0,344.0 h8 M1332.0,340.0 v8"/>
<path d="M1257.6,369.5 h8"/>
<path d="M1275.0,365.5 h8"/>
<path d="M1295.0,365.5 h8"/>
<path d="M1313.5,369.5 h8"/>
<path d="M1330.8,372.0 h8"/>
</g>
<text font-family="Liberation Sans, sans-serif" font-size="39" font-weight="bold" fill="#141213" x="571.5" y="32.5">B</text>
<rect x="1445" y="83" width="23.7" height="151.7" fill="url(#ecb)"/>
<rect x="1445" y="312" width="23.7" height="84" fill="url(#qcb)"/>
<g font-family="Liberation Sans, sans-serif" font-size="26" fill="#141213">
<text x="1448" y="75">1</text><text x="1448" y="260">0</text>
<text x="1449" y="304">1</text><text x="1442" y="421">−1</text>
<text transform="translate(1431.5,261) rotate(-90)" font-size="25" textLength="199" lengthAdjust="spacingAndGlyphs">Normalized E field</text>
<text transform="translate(1431.5,437) rotate(-90)" font-size="25" textLength="148" lengthAdjust="spacingAndGlyphs">Charge (a.u.)</text>
</g>
<g stroke="#231f20" stroke-width="3" fill="none">
<line x1="603.8" y1="402" x2="603.8" y2="364"/><line x1="613" y1="411.5" x2="652" y2="411.5"/>
<circle cx="603.9" cy="411.5" r="8.5" stroke-width="3" stroke="#3a2220"/>
<path d="M598.5,406.2 L609.1,416.8 M609.1,406.2 L598.5,416.8" stroke-width="2"/>
</g>
<polygon points="593.3,366 603.8,354.8 614,366" fill="#231f20"/>
<polygon points="650,402 662,411.5 650,421" fill="#231f20"/>
<g font-family="Liberation Sans, sans-serif" font-size="26" fill="#231f20"><text x="596.5" y="341.8">z</text><text x="577" y="419">y</text><text x="665" y="418">x</text></g><defs>
<radialGradient id="hf1" cx="0.48" cy="0.5" r="0.5" gradientTransform="translate(0.024,-0.05) scale(0.95,1.1)">
 <stop offset="0" stop-color="#d01c2a"/><stop offset="0.2" stop-color="#e4262a"/><stop offset="0.32" stop-color="#f0781e"/>
 <stop offset="0.42" stop-color="#f4e01e"/><stop offset="0.5" stop-color="#b4d43c"/><stop offset="0.57" stop-color="#52c8c4"/>
 <stop offset="0.65" stop-color="#40c0ea"/><stop offset="0.74" stop-color="#3a94dc"/><stop offset="0.84" stop-color="#4464c0"/><stop offset="0.92" stop-color="#4c4cae"/><stop offset="1" stop-color="#4c4cae"/>
</radialGradient>
<radialGradient id="c2base" cx="0.5" cy="0.5" r="0.5">
 <stop offset="0" stop-color="#3c7cd0"/><stop offset="0.8" stop-color="#4264c0"/><stop offset="1" stop-color="#4c4cae"/>
</radialGradient>
<clipPath id="c2t"><circle cx="917" cy="605" r="72"/></clipPath>
<clipPath id="c2b"><circle cx="917" cy="752" r="72"/></clipPath>
<filter id="cb5" x="-50%" y="-50%" width="200%" height="200%"><feGaussianBlur stdDeviation="5"/></filter>
<filter id="cb8" x="-50%" y="-50%" width="200%" height="200%"><feGaussianBlur stdDeviation="8"/></filter>
<radialGradient id="hf2" cx="0.62" cy="0.42" r="0.62" fx="0.6" fy="0.4">
 <stop offset="0" stop-color="#c8182a"/><stop offset="0.14" stop-color="#e0262e"/><stop offset="0.26" stop-color="#f4901e"/>
 <stop offset="0.36" stop-color="#f4e01e"/><stop offset="0.46" stop-color="#8cc858"/><stop offset="0.58" stop-color="#46c2e4"/>
 <stop offset="0.72" stop-color="#40a8e0"/><stop offset="0.86" stop-color="#4674c4"/><stop offset="1" stop-color="#4450a8"/>
</radialGradient>
<radialGradient id="hf3" cx="0.6" cy="0.55" r="0.62" fx="0.6" fy="0.55">
 <stop offset="0" stop-color="#c8182a"/><stop offset="0.14" stop-color="#e0262e"/><stop offset="0.26" stop-color="#f4901e"/>
 <stop offset="0.36" stop-color="#f4e01e"/><stop offset="0.46" stop-color="#8cc858"/><stop offset="0.58" stop-color="#46c2e4"/>
 <stop offset="0.72" stop-color="#40a8e0"/><stop offset="0.86" stop-color="#4674c4"/><stop offset="1" stop-color="#4450a8"/>
</radialGradient>
<linearGradient id="mcb" x1="0" x2="0" y1="0" y2="1">
 <stop offset="0" stop-color="#b01c22"/><stop offset="0.06" stop-color="#e0161e"/><stop offset="0.18" stop-color="#e41a1c"/><stop offset="0.28" stop-color="#f07020"/>
 <stop offset="0.38" stop-color="#f2d818"/><stop offset="0.46" stop-color="#b0c830"/><stop offset="0.54" stop-color="#50b0a0"/>
 <stop offset="0.68" stop-color="#40b8ea"/><stop offset="0.82" stop-color="#4070c0"/><stop offset="1" stop-color="#3a3894"/>
</linearGradient>
<radialGradient id="disc" cx="0.55" cy="0.45" r="0.55">
 <stop offset="0" stop-color="#e03030"/><stop offset="0.2" stop-color="#f08a2a"/><stop offset="0.35" stop-color="#e8e030"/>
 <stop offset="0.5" stop-color="#70c870"/><stop offset="0.65" stop-color="#40b8e8"/><stop offset="0.82" stop-color="#4a6ad0"/><stop offset="1" stop-color="#5a3ab0"/>
</radialGradient>
<linearGradient id="rodR" x1="0" x2="0" y1="0" y2="1">
 <stop offset="0" stop-color="#c8101c"/><stop offset="0.3" stop-color="#f46a74"/><stop offset="0.45" stop-color="#e8202c"/><stop offset="1" stop-color="#a00c18"/>
</linearGradient>
<linearGradient id="rodB" x1="0" x2="0" y1="0" y2="1">
 <stop offset="0" stop-color="#2c2c96"/><stop offset="0.3" stop-color="#7070d4"/><stop offset="0.45" stop-color="#3a3ab0"/><stop offset="1" stop-color="#24248a"/>
</linearGradient>
<linearGradient id="yel" x1="0" x2="1" y1="0" y2="0">
 <stop offset="0" stop-color="#d8c270"/><stop offset="0.5" stop-color="#f0e098"/><stop offset="1" stop-color="#e4d084"/>
</linearGradient>
<filter id="cb1" x="-20%" y="-20%" width="140%" height="140%"><feGaussianBlur stdDeviation="1.2"/></filter>
</defs>
<text font-family="Liberation Sans, sans-serif" font-size="42" font-weight="bold" fill="#141213" x="571" y="541" transform="translate(571,541) scale(0.93,1) translate(-571,-541)">C</text>
<text font-family="Liberation Sans, sans-serif" font-size="29" fill="#141213" x="642" y="493"><tspan font-family="Liberation Serif, serif" font-size="31">λ</tspan> = 640 nm</text>
<text font-family="Liberation Sans, sans-serif" font-size="29" fill="#141213" x="847" y="493"><tspan font-family="Liberation Serif, serif" font-size="31">λ</tspan> = 594 nm</text>
<rect x="627.9" y="508.2" width="169.5" height="338.2" fill="#4a4746"/>
<rect x="832.9" y="508.2" width="168.5" height="338.2" fill="#4a4746"/>
<circle cx="712" cy="606.9" r="70" fill="url(#hf1)" filter="url(#cb1)"/>
<line x1="712" y1="538.9" x2="712" y2="674.9" stroke="#90c8f0" stroke-width="1" opacity="0.6"/>
<circle cx="712" cy="750.2" r="70" fill="url(#hf1)" filter="url(#cb1)"/>
<line x1="712" y1="682.2" x2="712" y2="818.2" stroke="#90c8f0" stroke-width="1" opacity="0.6"/>
<g stroke="#ffffff" stroke-width="1.2" opacity="0.72" stroke-linecap="round" fill="none">
<path d="M695.6,557.4 L693.3,550.8 M693.3,550.8 L696.0,553.0 M693.3,550.8 L692.6,554.2"/>
<path d="M707.2,557.6 L704.8,551.0 M704.8,551.0 L707.5,553.2 M704.8,551.0 L704.1,554.5"/>
<path d="M719.2,555.5 L716.8,548.9 M716.8,548.9 L719.5,551.1 M716.8,548.9 L716.1,552.3"/>
<path d="M727.7,558.5 L725.4,552.0 M725.4,552.0 L728.1,554.2 M725.4,552.0 L724.7,555.4"/>
<path d="M668.2,569.1 L665.8,562.5 M665.8,562.5 L668.6,564.8 M665.8,562.5 L665.2,566.0"/>
<path d="M682.6,571.2 L679.4,562.3 M679.4,562.3 L682.1,564.5 M679.4,562.3 L678.7,565.8"/>
<path d="M693.1,571.6 L689.6,562.1 M689.6,562.1 L692.3,564.3 M689.6,562.1 L689.0,565.5"/>
<path d="M703.4,570.5 L699.8,560.5 M699.8,560.5 L702.5,562.7 M699.8,560.5 L699.1,564.0"/>
<path d="M714.4,573.4 L710.7,563.3 M710.7,563.3 L713.4,565.5 M710.7,563.3 L710.0,566.8"/>
<path d="M724.9,572.8 L721.3,562.9 M721.3,562.9 L724.0,565.1 M721.3,562.9 L720.6,566.3"/>
<path d="M736.4,569.9 L733.0,560.4 M733.0,560.4 L735.7,562.6 M733.0,560.4 L732.3,563.8"/>
<path d="M747.6,571.7 L744.4,562.8 M744.4,562.8 L747.1,565.0 M744.4,562.8 L743.8,566.3"/>
<path d="M756.4,568.3 L754.0,561.7 M754.0,561.7 L756.7,563.9 M754.0,561.7 L753.3,565.2"/>
<path d="M662.3,582.9 L665.6,576.7 M665.6,576.7 L665.8,580.2 M665.6,576.7 L662.6,578.5"/>
<path d="M672.0,585.8 L676.7,577.0 M676.7,577.0 L676.9,580.5 M676.7,577.0 L673.7,578.8"/>
<path d="M682.8,586.4 L687.9,576.8 M687.9,576.8 L688.1,580.3 M687.9,576.8 L684.9,578.6"/>
<path d="M692.4,586.2 L697.8,576.0 M697.8,576.0 L698.0,579.5 M697.8,576.0 L694.8,577.8"/>
<path d="M703.5,587.0 L709.1,576.3 M709.1,576.3 L709.3,579.8 M709.1,576.3 L706.1,578.1"/>
<path d="M716.2,583.6 L721.8,573.0 M721.8,573.0 L722.0,576.5 M721.8,573.0 L718.8,574.8"/>
<path d="M724.3,583.9 L729.8,573.6 M729.8,573.6 L729.9,577.1 M729.8,573.6 L726.8,575.4"/>
<path d="M738.8,584.4 L743.9,574.8 M743.9,574.8 L744.1,578.3 M743.9,574.8 L740.9,576.6"/>
<path d="M748.7,583.5 L753.3,574.7 M753.3,574.7 L753.5,578.2 M753.3,574.7 L750.3,576.5"/>
<path d="M759.9,582.5 L763.2,576.4 M763.2,576.4 L763.4,579.8 M763.2,576.4 L760.2,578.2"/>
<path d="M654.8,596.3 L658.0,590.1 M658.0,590.1 L658.2,593.6 M658.0,590.1 L655.0,592.0"/>
<path d="M666.0,599.0 L670.7,590.1 M670.7,590.1 L670.9,593.6 M670.7,590.1 L667.7,591.9"/>
<path d="M677.1,599.5 L682.3,589.7 M682.3,589.7 L682.5,593.2 M682.3,589.7 L679.3,591.5"/>
<path d="M688.6,600.3 L694.3,589.5 M694.3,589.5 L694.5,593.0 M694.3,589.5 L691.3,591.3"/>
<path d="M698.6,597.3 L704.8,585.8 M704.8,585.8 L704.9,589.3 M704.8,585.8 L701.8,587.6"/>
<path d="M710.3,600.7 L716.6,588.8 M716.6,588.8 L716.8,592.3 M716.6,588.8 L713.6,590.6"/>
<path d="M721.5,599.0 L727.7,587.4 M727.7,587.4 L727.9,590.9 M727.7,587.4 L724.7,589.2"/>
<path d="M732.0,597.1 L737.7,586.4 M737.7,586.4 L737.9,589.8 M737.7,586.4 L734.7,588.2"/>
<path d="M743.7,598.1 L748.9,588.3 M748.9,588.3 L749.1,591.8 M748.9,588.3 L745.9,590.1"/>
<path d="M752.8,595.6 L757.5,586.7 M757.5,586.7 L757.7,590.2 M757.5,586.7 L754.5,588.5"/>
<path d="M766.8,597.9 L770.1,591.8 M770.1,591.8 L770.2,595.3 M770.1,591.8 L767.1,593.6"/>
<path d="M658.6,611.4 L663.1,602.8 M663.1,602.8 L663.3,606.3 M663.1,602.8 L660.1,604.6"/>
<path d="M670.6,609.3 L675.7,599.7 M675.7,599.7 L675.9,603.2 M675.7,599.7 L672.7,601.5"/>
<path d="M680.8,612.3 L686.5,601.7 M686.5,601.7 L686.7,605.1 M686.5,601.7 L683.5,603.5"/>
<path d="M693.9,609.9 L700.1,598.2 M700.1,598.2 L700.3,601.7 M700.1,598.2 L697.1,600.0"/>
<path d="M703.6,610.4 L710.3,597.7 M710.3,597.7 L710.5,601.2 M710.3,597.7 L707.3,599.5"/>
<path d="M715.0,611.6 L721.8,598.9 M721.8,598.9 L721.9,602.4 M721.8,598.9 L718.8,600.7"/>
<path d="M726.9,613.7 L733.1,602.0 M733.1,602.0 L733.3,605.5 M733.1,602.0 L730.1,603.8"/>
<path d="M736.7,613.2 L742.4,602.6 M742.4,602.6 L742.5,606.1 M742.4,602.6 L739.4,604.4"/>
<path d="M747.2,609.0 L752.3,599.4 M752.3,599.4 L752.5,602.9 M752.3,599.4 L749.3,601.2"/>
<path d="M759.6,608.3 L764.2,599.7 M764.2,599.7 L764.4,603.2 M764.2,599.7 L761.2,601.5"/>
<path d="M654.1,621.6 L657.4,615.4 M657.4,615.4 L657.6,618.9 M657.4,615.4 L654.4,617.2"/>
<path d="M666.1,622.0 L670.8,613.1 M670.8,613.1 L671.0,616.6 M670.8,613.1 L667.8,614.9"/>
<path d="M674.5,625.3 L679.8,615.4 M679.8,615.4 L680.0,618.9 M679.8,615.4 L676.8,617.2"/>
<path d="M686.4,626.2 L692.1,615.3 M692.1,615.3 L692.3,618.8 M692.1,615.3 L689.1,617.1"/>
<path d="M699.5,624.3 L705.7,612.6 M705.7,612.6 L705.9,616.1 M705.7,612.6 L702.7,614.4"/>
<path d="M708.6,625.0 L715.1,612.9 M715.1,612.9 L715.2,616.4 M715.1,612.9 L712.1,614.7"/>
<path d="M720.5,625.1 L726.7,613.4 M726.7,613.4 L726.9,616.9 M726.7,613.4 L723.7,615.2"/>
<path d="M731.3,624.8 L737.1,613.9 M737.1,613.9 L737.3,617.4 M737.1,613.9 L734.1,615.7"/>
<path d="M744.1,623.9 L749.4,614.0 M749.4,614.0 L749.6,617.5 M749.4,614.0 L746.4,615.8"/>
<path d="M753.4,624.2 L758.1,615.3 M758.1,615.3 L758.3,618.8 M758.1,615.3 L755.1,617.1"/>
<path d="M764.3,621.2 L767.6,615.0 M767.6,615.0 L767.8,618.5 M767.6,615.0 L764.6,616.8"/>
<path d="M662.8,635.1 L666.1,628.9 M666.1,628.9 L666.2,632.4 M666.1,628.9 L663.1,630.7"/>
<path d="M671.3,634.4 L676.1,625.5 M676.1,625.5 L676.2,629.0 M676.1,625.5 L673.1,627.3"/>
<path d="M681.6,637.1 L686.7,627.4 M686.7,627.4 L686.9,630.8 M686.7,627.4 L683.7,629.2"/>
<path d="M690.8,637.6 L696.3,627.2 M696.3,627.2 L696.5,630.7 M696.3,627.2 L693.4,629.0"/>
<path d="M704.2,635.6 L709.9,624.7 M709.9,624.7 L710.1,628.2 M709.9,624.7 L706.9,626.5"/>
<path d="M715.1,637.2 L720.9,626.4 M720.9,626.4 L721.1,629.8 M720.9,626.4 L717.9,628.2"/>
<path d="M726.4,636.5 L732.0,626.1 M732.0,626.1 L732.2,629.6 M732.0,626.1 L729.0,627.9"/>
<path d="M737.7,637.7 L742.9,628.0 M742.9,628.0 L743.1,631.5 M742.9,628.0 L739.9,629.8"/>
<path d="M746.2,634.6 L751.0,625.7 M751.0,625.7 L751.1,629.2 M751.0,625.7 L748.0,627.5"/>
<path d="M760.6,636.8 L763.8,630.7 M763.8,630.7 L764.0,634.2 M763.8,630.7 L760.8,632.5"/>
<path d="M665.4,647.8 L668.6,641.6 M668.6,641.6 L668.8,645.1 M668.6,641.6 L665.6,643.4"/>
<path d="M677.1,648.4 L681.6,639.9 M681.6,639.9 L681.8,643.4 M681.6,639.9 L678.6,641.7"/>
<path d="M687.0,648.7 L691.9,639.6 M691.9,639.6 L692.1,643.1 M691.9,639.6 L688.9,641.4"/>
<path d="M698.0,650.0 L703.0,640.5 M703.0,640.5 L703.2,644.0 M703.0,640.5 L700.0,642.3"/>
<path d="M708.6,649.2 L713.8,639.6 M713.8,639.6 L713.9,643.1 M713.8,639.6 L710.8,641.4"/>
<path d="M721.6,647.8 L726.6,638.3 M726.6,638.3 L726.8,641.8 M726.6,638.3 L723.6,640.1"/>
<path d="M731.9,650.4 L736.7,641.3 M736.7,641.3 L736.9,644.8 M736.7,641.3 L733.7,643.1"/>
<path d="M742.0,648.0 L746.5,639.5 M746.5,639.5 L746.7,643.0 M746.5,639.5 L743.5,641.4"/>
<path d="M755.6,646.9 L758.9,640.8 M758.9,640.8 L759.0,644.3 M758.9,640.8 L755.9,642.6"/>
<path d="M681.6,660.7 L684.9,654.6 M684.9,654.6 L685.1,658.0 M684.9,654.6 L681.9,656.4"/>
<path d="M694.6,659.4 L697.9,653.2 M697.9,653.2 L698.1,656.7 M697.9,653.2 L694.9,655.0"/>
<path d="M703.6,661.4 L708.0,653.0 M708.0,653.0 L708.2,656.5 M708.0,653.0 L705.0,654.8"/>
<path d="M716.6,661.8 L721.1,653.5 M721.1,653.5 L721.2,657.0 M721.1,653.5 L718.1,655.3"/>
<path d="M728.3,659.7 L731.6,653.5 M731.6,653.5 L731.7,657.0 M731.6,653.5 L728.6,655.3"/>
<path d="M737.2,661.6 L740.5,655.4 M740.5,655.4 L740.7,658.9 M740.5,655.4 L737.5,657.2"/>
</g>
<g stroke="#ffffff" stroke-width="1.2" opacity="0.72" stroke-linecap="round" fill="none">
<path d="M695.6,698.9 L693.2,692.3 M693.2,692.3 L696.0,694.5 M693.2,692.3 L692.6,695.8"/>
<path d="M707.3,699.1 L704.9,692.5 M704.9,692.5 L707.6,694.7 M704.9,692.5 L704.2,696.0"/>
<path d="M717.0,700.1 L714.6,693.5 M714.6,693.5 L717.3,695.7 M714.6,693.5 L713.9,697.0"/>
<path d="M731.4,701.7 L729.0,695.1 M729.0,695.1 L731.7,697.3 M729.0,695.1 L728.3,698.5"/>
<path d="M670.3,712.4 L667.9,705.8 M667.9,705.8 L670.6,708.0 M667.9,705.8 L667.2,709.2"/>
<path d="M680.8,713.7 L677.5,704.9 M677.5,704.9 L680.2,707.1 M677.5,704.9 L676.9,708.3"/>
<path d="M690.4,713.4 L687.0,703.9 M687.0,703.9 L689.7,706.1 M687.0,703.9 L686.3,707.3"/>
<path d="M701.7,716.9 L698.1,707.0 M698.1,707.0 L700.8,709.2 M698.1,707.0 L697.4,710.4"/>
<path d="M715.1,716.5 L711.5,706.4 M711.5,706.4 L714.2,708.6 M711.5,706.4 L710.8,709.8"/>
<path d="M726.0,713.9 L722.4,704.0 M722.4,704.0 L725.1,706.2 M722.4,704.0 L721.7,707.4"/>
<path d="M735.0,715.5 L731.5,706.0 M731.5,706.0 L734.2,708.2 M731.5,706.0 L730.8,709.4"/>
<path d="M747.5,716.1 L744.3,707.2 M744.3,707.2 L747.0,709.4 M744.3,707.2 L743.6,710.6"/>
<path d="M758.7,711.8 L756.3,705.3 M756.3,705.3 L759.0,707.5 M756.3,705.3 L755.7,708.7"/>
<path d="M661.3,727.0 L664.6,720.8 M664.6,720.8 L664.7,724.3 M664.6,720.8 L661.6,722.6"/>
<path d="M671.2,726.3 L675.9,717.5 M675.9,717.5 L676.0,721.0 M675.9,717.5 L672.9,719.3"/>
<path d="M681.8,726.4 L686.9,716.8 M686.9,716.8 L687.1,720.3 M686.9,716.8 L683.9,718.6"/>
<path d="M694.5,729.8 L700.0,719.5 M700.0,719.5 L700.1,723.0 M700.0,719.5 L697.0,721.3"/>
<path d="M703.9,727.7 L709.5,717.1 M709.5,717.1 L709.7,720.6 M709.5,717.1 L706.5,718.9"/>
<path d="M716.3,728.8 L722.0,718.2 M722.0,718.2 L722.1,721.7 M722.0,718.2 L719.0,720.0"/>
<path d="M727.3,729.7 L732.8,719.5 M732.8,719.5 L732.9,723.0 M732.8,719.5 L729.8,721.3"/>
<path d="M737.0,727.7 L742.1,718.1 M742.1,718.1 L742.3,721.6 M742.1,718.1 L739.1,719.9"/>
<path d="M748.6,727.3 L753.2,718.5 M753.2,718.5 L753.4,722.0 M753.2,718.5 L750.2,720.3"/>
<path d="M758.5,725.5 L761.8,719.3 M761.8,719.3 L762.0,722.8 M761.8,719.3 L758.8,721.1"/>
<path d="M656.6,737.5 L659.9,731.3 M659.9,731.3 L660.1,734.8 M659.9,731.3 L656.9,733.1"/>
<path d="M663.8,741.1 L668.5,732.3 M668.5,732.3 L668.7,735.8 M668.5,732.3 L665.5,734.1"/>
<path d="M675.5,741.3 L680.7,731.4 M680.7,731.4 L680.9,734.9 M680.7,731.4 L677.7,733.2"/>
<path d="M687.0,741.0 L692.8,730.2 M692.8,730.2 L692.9,733.7 M692.8,730.2 L689.8,732.0"/>
<path d="M699.9,740.8 L706.1,729.2 M706.1,729.2 L706.2,732.7 M706.1,729.2 L703.1,731.0"/>
<path d="M708.5,741.0 L714.8,729.1 M714.8,729.1 L715.0,732.5 M714.8,729.1 L711.8,730.9"/>
<path d="M720.5,741.1 L726.6,729.5 M726.6,729.5 L726.8,733.0 M726.6,729.5 L723.6,731.3"/>
<path d="M730.6,742.6 L736.3,731.8 M736.3,731.8 L736.5,735.3 M736.3,731.8 L733.3,733.6"/>
<path d="M741.7,741.4 L746.9,731.5 M746.9,731.5 L747.1,735.0 M746.9,731.5 L743.9,733.3"/>
<path d="M755.3,739.0 L760.0,730.2 M760.0,730.2 L760.2,733.7 M760.0,730.2 L757.0,732.0"/>
<path d="M763.6,738.2 L766.9,732.0 M766.9,732.0 L767.1,735.5 M766.9,732.0 L763.9,733.8"/>
<path d="M661.3,753.9 L665.8,745.4 M665.8,745.4 L666.0,748.9 M665.8,745.4 L662.8,747.2"/>
<path d="M669.9,753.3 L675.0,743.7 M675.0,743.7 L675.2,747.2 M675.0,743.7 L672.0,745.5"/>
<path d="M680.4,754.4 L686.0,743.7 M686.0,743.7 L686.2,747.2 M686.0,743.7 L683.0,745.5"/>
<path d="M690.6,755.8 L696.8,744.1 M696.8,744.1 L697.0,747.6 M696.8,744.1 L693.8,746.0"/>
<path d="M704.7,757.4 L711.5,744.7 M711.5,744.7 L711.6,748.2 M711.5,744.7 L708.5,746.5"/>
<path d="M715.1,757.4 L721.8,744.7 M721.8,744.7 L722.0,748.2 M721.8,744.7 L718.8,746.5"/>
<path d="M723.5,754.2 L729.7,742.5 M729.7,742.5 L729.9,746.0 M729.7,742.5 L726.7,744.3"/>
<path d="M738.5,755.6 L744.2,745.0 M744.2,745.0 L744.4,748.5 M744.2,745.0 L741.2,746.8"/>
<path d="M747.6,755.8 L752.7,746.2 M752.7,746.2 L752.9,749.7 M752.7,746.2 L749.7,748.0"/>
<path d="M759.7,754.8 L764.3,746.2 M764.3,746.2 L764.4,749.7 M764.3,746.2 L761.3,748.0"/>
<path d="M654.5,764.1 L657.8,757.9 M657.8,757.9 L658.0,761.4 M657.8,757.9 L654.8,759.7"/>
<path d="M665.4,765.2 L670.2,756.3 M670.2,756.3 L670.3,759.8 M670.2,756.3 L667.2,758.1"/>
<path d="M675.9,769.0 L681.2,759.1 M681.2,759.1 L681.3,762.6 M681.2,759.1 L678.2,760.9"/>
<path d="M686.4,765.7 L692.2,754.8 M692.2,754.8 L692.4,758.3 M692.2,754.8 L689.2,756.6"/>
<path d="M696.1,766.7 L702.3,755.0 M702.3,755.0 L702.5,758.5 M702.3,755.0 L699.3,756.8"/>
<path d="M709.9,767.7 L716.4,755.6 M716.4,755.6 L716.5,759.1 M716.4,755.6 L713.4,757.4"/>
<path d="M719.0,766.4 L725.3,754.7 M725.3,754.7 L725.5,758.2 M725.3,754.7 L722.3,756.5"/>
<path d="M733.0,767.3 L738.8,756.5 M738.8,756.5 L739.0,760.0 M738.8,756.5 L735.8,758.3"/>
<path d="M741.2,765.4 L746.5,755.5 M746.5,755.5 L746.7,759.0 M746.5,755.5 L743.5,757.3"/>
<path d="M751.8,765.3 L756.6,756.4 M756.6,756.4 L756.8,759.9 M756.6,756.4 L753.6,758.2"/>
<path d="M766.1,763.9 L769.4,757.7 M769.4,757.7 L769.5,761.2 M769.4,757.7 L766.4,759.5"/>
<path d="M659.0,778.3 L662.3,772.1 M662.3,772.1 L662.5,775.6 M662.3,772.1 L659.3,773.9"/>
<path d="M670.1,781.6 L674.9,772.7 M674.9,772.7 L675.0,776.2 M674.9,772.7 L671.9,774.5"/>
<path d="M680.4,780.2 L685.6,770.5 M685.6,770.5 L685.8,773.9 M685.6,770.5 L682.6,772.3"/>
<path d="M693.8,780.0 L699.4,769.6 M699.4,769.6 L699.5,773.1 M699.4,769.6 L696.4,771.4"/>
<path d="M705.6,780.5 L711.3,769.7 M711.3,769.7 L711.5,773.2 M711.3,769.7 L708.3,771.5"/>
<path d="M713.6,780.3 L719.3,769.4 M719.3,769.4 L719.5,772.9 M719.3,769.4 L716.3,771.2"/>
<path d="M723.9,780.1 L729.4,769.7 M729.4,769.7 L729.6,773.2 M729.4,769.7 L726.4,771.5"/>
<path d="M735.9,781.6 L741.1,771.9 M741.1,771.9 L741.3,775.4 M741.1,771.9 L738.1,773.7"/>
<path d="M749.5,779.6 L754.2,770.7 M754.2,770.7 L754.4,774.2 M754.2,770.7 L751.2,772.5"/>
<path d="M758.0,777.3 L761.3,771.1 M761.3,771.1 L761.5,774.6 M761.3,771.1 L758.3,772.9"/>
<path d="M665.3,790.1 L668.6,783.9 M668.6,783.9 L668.8,787.4 M668.6,783.9 L665.6,785.7"/>
<path d="M675.7,793.9 L680.2,785.4 M680.2,785.4 L680.4,788.9 M680.2,785.4 L677.2,787.2"/>
<path d="M686.2,791.0 L691.0,781.9 M691.0,781.9 L691.2,785.4 M691.0,781.9 L688.0,783.7"/>
<path d="M700.2,793.2 L705.2,783.7 M705.2,783.7 L705.4,787.2 M705.2,783.7 L702.2,785.5"/>
<path d="M711.4,792.6 L716.5,783.0 M716.5,783.0 L716.7,786.5 M716.5,783.0 L713.5,784.8"/>
<path d="M722.1,793.6 L727.1,784.1 M727.1,784.1 L727.3,787.6 M727.1,784.1 L724.1,785.9"/>
<path d="M732.7,793.7 L737.6,784.6 M737.6,784.6 L737.8,788.1 M737.6,784.6 L734.6,786.4"/>
<path d="M742.7,790.8 L747.2,782.3 M747.2,782.3 L747.4,785.8 M747.2,782.3 L744.2,784.1"/>
<path d="M753.2,792.8 L756.5,786.6 M756.5,786.6 L756.7,790.1 M756.5,786.6 L753.5,788.4"/>
<path d="M684.5,806.0 L687.7,799.8 M687.7,799.8 L687.9,803.3 M687.7,799.8 L684.7,801.6"/>
<path d="M693.2,804.9 L696.5,798.7 M696.5,798.7 L696.7,802.2 M696.5,798.7 L693.5,800.5"/>
<path d="M705.5,806.0 L709.9,797.6 M709.9,797.6 L710.1,801.1 M709.9,797.6 L706.9,799.4"/>
<path d="M716.5,805.5 L721.0,797.1 M721.0,797.1 L721.2,800.6 M721.0,797.1 L718.0,798.9"/>
<path d="M727.5,805.0 L730.8,798.9 M730.8,798.9 L730.9,802.3 M730.8,798.9 L727.8,800.7"/>
<path d="M736.9,806.0 L740.2,799.8 M740.2,799.8 L740.4,803.3 M740.2,799.8 L737.2,801.6"/>
</g>
<g clip-path="url(#c2t)">
<circle cx="917" cy="605.0" r="72" fill="url(#c2base)"/>
<ellipse cx="917.0" cy="668.0" rx="55" ry="14" fill="#5cc4b4" opacity="0.8" filter="url(#cb5)"/>
<ellipse cx="933.0" cy="596.0" rx="46" ry="46" fill="#40c0ea" filter="url(#cb8)"/>
<ellipse cx="883.0" cy="636.0" rx="11" ry="46" fill="#3a4cb6" transform="rotate(-32.0 883.0 636.0)" filter="url(#cb5)"/>
<ellipse cx="931.0" cy="594.0" rx="30" ry="31" fill="#f0e020" filter="url(#cb5)"/>
<ellipse cx="931.0" cy="594.0" rx="23" ry="24" fill="#f07a20" filter="url(#cb5)"/>
<ellipse cx="931.0" cy="594.0" rx="17" ry="19" fill="#d82a2a" filter="url(#cb5)"/>
</g>
<g clip-path="url(#c2b)">
<circle cx="917" cy="752.0" r="72" fill="url(#c2base)"/>
<ellipse cx="917.0" cy="694.0" rx="55" ry="14" fill="#5cc4b4" opacity="0.8" filter="url(#cb5)"/>
<ellipse cx="939.0" cy="763.0" rx="46" ry="46" fill="#40c0ea" filter="url(#cb8)"/>
<ellipse cx="884.0" cy="742.0" rx="11" ry="46" fill="#3a4cb6" transform="rotate(36.0 884.0 742.0)" filter="url(#cb5)"/>
<ellipse cx="937.0" cy="761.0" rx="30" ry="31" fill="#f0e020" filter="url(#cb5)"/>
<ellipse cx="937.0" cy="761.0" rx="23" ry="24" fill="#f07a20" filter="url(#cb5)"/>
<ellipse cx="937.0" cy="761.0" rx="17" ry="19" fill="#d82a2a" filter="url(#cb5)"/>
</g>
<line x1="913" y1="535.0" x2="913" y2="675.0" stroke="#90c8f0" stroke-width="1" opacity="0.6"/>
<line x1="913" y1="682.0" x2="913" y2="822.0" stroke="#90c8f0" stroke-width="1" opacity="0.6"/>
<g stroke="#ffffff" stroke-width="1.2" opacity="0.72" stroke-linecap="round" fill="none">
<path d="M886.1,550.8 L896.9,553.1 M896.9,553.1 L893.6,554.2 M896.9,553.1 L894.3,550.7"/>
<path d="M898.8,551.6 L909.6,553.9 M909.6,553.9 L906.3,555.1 M909.6,553.9 L907.0,551.5"/>
<path d="M910.6,551.5 L921.3,553.8 M921.3,553.8 L918.0,555.0 M921.3,553.8 L918.8,551.4"/>
<path d="M919.7,549.7 L930.5,552.0 M930.5,552.0 L927.2,553.1 M930.5,552.0 L927.9,549.6"/>
<path d="M935.4,550.5 L946.2,552.7 M946.2,552.7 L942.8,553.9 M946.2,552.7 L943.6,550.4"/>
<path d="M869.2,562.3 L880.0,564.6 M880.0,564.6 L876.7,565.7 M880.0,564.6 L877.4,562.2"/>
<path d="M879.5,562.8 L890.3,565.1 M890.3,565.1 L886.9,566.3 M890.3,565.1 L887.7,562.7"/>
<path d="M891.8,564.2 L902.6,566.4 M902.6,566.4 L899.2,567.6 M902.6,566.4 L900.0,564.1"/>
<path d="M901.7,562.7 L912.4,565.0 M912.4,565.0 L909.1,566.1 M912.4,565.0 L909.9,562.6"/>
<path d="M914.7,565.5 L925.5,567.8 M925.5,567.8 L922.2,568.9 M925.5,567.8 L922.9,565.4"/>
<path d="M928.7,562.5 L939.4,564.8 M939.4,564.8 L936.1,565.9 M939.4,564.8 L936.9,562.4"/>
<path d="M940.8,562.4 L951.6,564.7 M951.6,564.7 L948.3,565.8 M951.6,564.7 L949.0,562.3"/>
<path d="M952.1,562.4 L962.8,564.7 M962.8,564.7 L959.5,565.8 M962.8,564.7 L960.3,562.3"/>
<path d="M861.7,574.3 L868.3,586.7 M868.3,586.7 L865.3,584.9 M868.3,586.7 L868.5,583.2"/>
<path d="M874.6,571.7 L881.1,584.0 M881.1,584.0 L878.1,582.2 M881.1,584.0 L881.3,580.5"/>
<path d="M889.6,574.3 L896.2,586.7 M896.2,586.7 L893.2,584.9 M896.2,586.7 L896.4,583.2"/>
<path d="M898.9,574.7 L905.4,587.0 M905.4,587.0 L902.4,585.2 M905.4,587.0 L905.6,583.5"/>
<path d="M911.9,573.5 L918.4,585.9 M918.4,585.9 L915.4,584.1 M918.4,585.9 L918.6,582.4"/>
<path d="M925.3,577.8 L926.3,583.7 M926.3,583.7 L924.0,581.1 M926.3,583.7 L927.6,580.5"/>
<path d="M939.2,577.9 L940.3,583.8 M940.3,583.8 L938.0,581.2 M940.3,583.8 L941.5,580.6"/>
<path d="M952.1,575.2 L953.1,581.1 M953.1,581.1 L950.8,578.5 M953.1,581.1 L954.3,577.9"/>
<path d="M961.9,574.7 L963.0,580.6 M963.0,580.6 L960.7,578.0 M963.0,580.6 L964.2,577.4"/>
<path d="M859.1,588.3 L860.1,594.2 M860.1,594.2 L857.8,591.6 M860.1,594.2 L861.4,590.9"/>
<path d="M868.9,587.2 L875.5,599.6 M875.5,599.6 L872.5,597.8 M875.5,599.6 L875.7,596.1"/>
<path d="M879.7,587.5 L886.3,599.9 M886.3,599.9 L883.3,598.1 M886.3,599.9 L886.5,596.4"/>
<path d="M893.1,586.1 L899.6,598.4 M899.6,598.4 L896.6,596.6 M899.6,598.4 L899.8,594.9"/>
<path d="M907.0,586.7 L913.6,599.1 M913.6,599.1 L910.6,597.3 M913.6,599.1 L913.7,595.6"/>
<path d="M919.7,590.0 L920.8,595.9 M920.8,595.9 L918.5,593.2 M920.8,595.9 L922.0,592.6"/>
<path d="M933.3,588.3 L934.3,594.2 M934.3,594.2 L932.0,591.5 M934.3,594.2 L935.6,590.9"/>
<path d="M946.4,588.1 L947.4,594.0 M947.4,594.0 L945.1,591.4 M947.4,594.0 L948.7,590.8"/>
<path d="M957.5,591.4 L958.5,597.3 M958.5,597.3 L956.2,594.7 M958.5,597.3 L959.8,594.1"/>
<path d="M966.6,591.2 L967.6,597.1 M967.6,597.1 L965.3,594.5 M967.6,597.1 L968.8,593.8"/>
<path d="M863.2,601.1 L869.8,613.5 M869.8,613.5 L866.8,611.7 M869.8,613.5 L869.9,610.0"/>
<path d="M873.8,599.0 L880.3,611.4 M880.3,611.4 L877.3,609.6 M880.3,611.4 L880.5,607.9"/>
<path d="M886.4,602.6 L893.0,615.0 M893.0,615.0 L890.0,613.2 M893.0,615.0 L893.2,611.5"/>
<path d="M898.5,601.8 L905.1,614.2 M905.1,614.2 L902.1,612.4 M905.1,614.2 L905.3,610.7"/>
<path d="M913.4,602.6 L920.0,614.9 M920.0,614.9 L917.0,613.1 M920.0,614.9 L920.2,611.5"/>
<path d="M925.9,603.5 L926.9,609.4 M926.9,609.4 L924.6,606.7 M926.9,609.4 L928.2,606.1"/>
<path d="M938.6,605.1 L939.6,611.1 M939.6,611.1 L937.3,608.4 M939.6,611.1 L940.9,607.8"/>
<path d="M948.9,605.0 L950.0,610.9 M950.0,610.9 L947.7,608.3 M950.0,610.9 L951.2,607.7"/>
<path d="M963.7,605.5 L964.7,611.4 M964.7,611.4 L962.4,608.8 M964.7,611.4 L966.0,608.1"/>
<path d="M972.6,605.8 L973.7,611.7 M973.7,611.7 L971.4,609.1 M973.7,611.7 L974.9,608.5"/>
<path d="M858.8,617.4 L859.9,623.3 M859.9,623.3 L857.6,620.7 M859.9,623.3 L861.1,620.1"/>
<path d="M870.2,616.5 L876.7,628.9 M876.7,628.9 L873.7,627.0 M876.7,628.9 L876.9,625.4"/>
<path d="M881.1,616.5 L887.6,628.9 M887.6,628.9 L884.6,627.1 M887.6,628.9 L887.8,625.4"/>
<path d="M893.9,614.1 L900.5,626.4 M900.5,626.4 L897.5,624.6 M900.5,626.4 L900.6,622.9"/>
<path d="M905.0,613.5 L911.6,625.9 M911.6,625.9 L908.6,624.1 M911.6,625.9 L911.7,622.4"/>
<path d="M918.8,616.6 L919.8,622.5 M919.8,622.5 L917.5,619.9 M919.8,622.5 L921.1,619.3"/>
<path d="M933.2,620.0 L934.3,625.9 M934.3,625.9 L932.0,623.3 M934.3,625.9 L935.5,622.7"/>
<path d="M943.1,616.2 L944.2,622.1 M944.2,622.1 L941.9,619.5 M944.2,622.1 L945.4,618.9"/>
<path d="M958.4,618.2 L959.5,624.1 M959.5,624.1 L957.2,621.4 M959.5,624.1 L960.7,620.8"/>
<path d="M968.1,617.0 L969.1,622.9 M969.1,622.9 L966.9,620.3 M969.1,622.9 L970.4,619.6"/>
<path d="M864.1,630.1 L870.7,642.5 M870.7,642.5 L867.7,640.7 M870.7,642.5 L870.8,639.0"/>
<path d="M875.5,628.5 L882.1,640.9 M882.1,640.9 L879.1,639.1 M882.1,640.9 L882.3,637.4"/>
<path d="M885.9,630.5 L892.5,642.8 M892.5,642.8 L889.5,641.0 M892.5,642.8 L892.7,639.4"/>
<path d="M897.8,628.8 L904.4,641.2 M904.4,641.2 L901.4,639.4 M904.4,641.2 L904.6,637.7"/>
<path d="M913.1,627.3 L919.6,639.7 M919.6,639.7 L916.6,637.9 M919.6,639.7 L919.8,636.2"/>
<path d="M927.4,633.8 L928.4,639.8 M928.4,639.8 L926.2,637.1 M928.4,639.8 L929.7,636.5"/>
<path d="M939.0,633.2 L940.0,639.1 M940.0,639.1 L937.7,636.5 M940.0,639.1 L941.3,635.8"/>
<path d="M948.9,631.8 L949.9,637.7 M949.9,637.7 L947.7,635.1 M949.9,637.7 L951.2,634.4"/>
<path d="M961.1,633.4 L962.1,639.3 M962.1,639.3 L959.8,636.7 M962.1,639.3 L963.4,636.1"/>
<path d="M880.9,642.6 L887.5,655.0 M887.5,655.0 L884.5,653.2 M887.5,655.0 L887.6,651.5"/>
<path d="M895.7,644.2 L902.3,656.6 M902.3,656.6 L899.3,654.8 M902.3,656.6 L902.5,653.1"/>
<path d="M907.6,642.6 L914.2,655.0 M914.2,655.0 L911.2,653.2 M914.2,655.0 L914.4,651.5"/>
<path d="M920.4,647.0 L921.5,652.9 M921.5,652.9 L919.2,650.2 M921.5,652.9 L922.7,649.6"/>
<path d="M932.4,645.2 L933.4,651.1 M933.4,651.1 L931.1,648.5 M933.4,651.1 L934.7,647.9"/>
<path d="M944.1,644.6 L945.1,650.5 M945.1,650.5 L942.8,647.9 M945.1,650.5 L946.4,647.3"/>
<path d="M956.0,648.0 L957.0,653.9 M957.0,653.9 L954.7,651.3 M957.0,653.9 L958.3,650.6"/>
<path d="M901.6,657.3 L908.1,669.7 M908.1,669.7 L905.1,667.9 M908.1,669.7 L908.3,666.2"/>
<path d="M911.7,656.2 L918.3,668.5 M918.3,668.5 L915.3,666.7 M918.3,668.5 L918.5,665.0"/>
<path d="M924.8,659.1 L925.9,665.0 M925.9,665.0 L923.6,662.4 M925.9,665.0 L927.1,661.8"/>
</g>
<g stroke="#ffffff" stroke-width="1.2" opacity="0.72" stroke-linecap="round" fill="none">
<path d="M887.9,704.8 L896.5,693.8 M896.5,693.8 L896.1,697.2 M896.5,693.8 L893.2,695.0"/>
<path d="M898.6,702.6 L907.2,691.5 M907.2,691.5 L906.8,695.0 M907.2,691.5 L904.0,692.8"/>
<path d="M908.7,704.2 L917.3,693.1 M917.3,693.1 L916.9,696.6 M917.3,693.1 L914.0,694.4"/>
<path d="M927.4,702.0 L926.4,696.1 M926.4,696.1 L928.7,698.7 M926.4,696.1 L925.1,699.4"/>
<path d="M939.0,702.0 L938.0,696.1 M938.0,696.1 L940.3,698.8 M938.0,696.1 L936.7,699.4"/>
<path d="M867.8,718.7 L876.4,707.7 M876.4,707.7 L876.0,711.2 M876.4,707.7 L873.1,708.9"/>
<path d="M881.6,717.2 L890.2,706.1 M890.2,706.1 L889.8,709.6 M890.2,706.1 L887.0,707.4"/>
<path d="M892.8,718.2 L901.5,707.2 M901.5,707.2 L901.0,710.7 M901.5,707.2 L898.2,708.5"/>
<path d="M903.5,717.7 L912.1,706.7 M912.1,706.7 L911.7,710.2 M912.1,706.7 L908.8,708.0"/>
<path d="M917.9,716.6 L926.5,705.5 M926.5,705.5 L926.1,709.0 M926.5,705.5 L923.3,706.8"/>
<path d="M934.7,715.7 L933.7,709.8 M933.7,709.8 L936.0,712.4 M933.7,709.8 L932.4,713.1"/>
<path d="M946.9,714.3 L945.9,708.4 M945.9,708.4 L948.1,711.0 M945.9,708.4 L944.6,711.7"/>
<path d="M955.9,716.2 L954.9,710.2 M954.9,710.2 L957.1,712.9 M954.9,710.2 L953.6,713.5"/>
<path d="M863.9,731.3 L872.5,720.3 M872.5,720.3 L872.1,723.7 M872.5,720.3 L869.3,721.5"/>
<path d="M873.1,730.3 L881.7,719.3 M881.7,719.3 L881.3,722.7 M881.7,719.3 L878.4,720.5"/>
<path d="M887.2,730.7 L895.8,719.6 M895.8,719.6 L895.4,723.1 M895.8,719.6 L892.6,720.9"/>
<path d="M900.5,731.9 L909.1,720.8 M909.1,720.8 L908.7,724.3 M909.1,720.8 L905.8,722.1"/>
<path d="M909.5,732.1 L918.1,721.1 M918.1,721.1 L917.7,724.6 M918.1,721.1 L914.8,722.4"/>
<path d="M927.0,730.7 L925.9,724.8 M925.9,724.8 L928.2,727.4 M925.9,724.8 L924.7,728.0"/>
<path d="M941.2,729.0 L940.1,723.1 M940.1,723.1 L942.4,725.7 M940.1,723.1 L938.9,726.4"/>
<path d="M952.1,729.7 L951.1,723.8 M951.1,723.8 L953.4,726.5 M951.1,723.8 L949.8,727.1"/>
<path d="M964.7,730.9 L963.7,725.0 M963.7,725.0 L966.0,727.6 M963.7,725.0 L962.4,728.2"/>
<path d="M854.8,745.0 L863.4,733.9 M863.4,733.9 L863.0,737.4 M863.4,733.9 L860.2,735.2"/>
<path d="M869.1,744.7 L877.7,733.7 M877.7,733.7 L877.3,737.2 M877.7,733.7 L874.5,735.0"/>
<path d="M881.0,743.9 L889.7,732.8 M889.7,732.8 L889.2,736.3 M889.7,732.8 L886.4,734.1"/>
<path d="M894.2,745.6 L902.8,734.6 M902.8,734.6 L902.4,738.1 M902.8,734.6 L899.6,735.8"/>
<path d="M903.2,746.2 L911.8,735.1 M911.8,735.1 L911.3,738.6 M911.8,735.1 L908.5,736.4"/>
<path d="M915.9,744.3 L924.6,733.3 M924.6,733.3 L924.1,736.7 M924.6,733.3 L921.3,734.5"/>
<path d="M933.5,741.5 L932.4,735.6 M932.4,735.6 L934.7,738.2 M932.4,735.6 L931.2,738.9"/>
<path d="M944.4,744.4 L943.3,738.5 M943.3,738.5 L945.6,741.1 M943.3,738.5 L942.1,741.8"/>
<path d="M958.3,741.0 L957.3,735.1 M957.3,735.1 L959.6,737.7 M957.3,735.1 L956.0,738.4"/>
<path d="M970.6,741.0 L969.6,735.1 M969.6,735.1 L971.9,737.8 M969.6,735.1 L968.3,738.4"/>
<path d="M862.0,761.1 L870.6,750.1 M870.6,750.1 L870.2,753.6 M870.6,750.1 L867.4,751.4"/>
<path d="M875.2,758.7 L883.8,747.7 M883.8,747.7 L883.4,751.2 M883.8,747.7 L880.5,749.0"/>
<path d="M886.2,759.1 L894.8,748.0 M894.8,748.0 L894.4,751.5 M894.8,748.0 L891.6,749.3"/>
<path d="M897.2,761.5 L905.8,750.5 M905.8,750.5 L905.4,754.0 M905.8,750.5 L902.6,751.7"/>
<path d="M908.9,759.2 L917.5,748.2 M917.5,748.2 L917.1,751.6 M917.5,748.2 L914.3,749.4"/>
<path d="M928.5,756.5 L927.5,750.6 M927.5,750.6 L929.8,753.3 M927.5,750.6 L926.2,753.9"/>
<path d="M941.4,755.9 L940.4,750.0 M940.4,750.0 L942.7,752.7 M940.4,750.0 L939.2,753.3"/>
<path d="M953.4,758.5 L952.4,752.6 M952.4,752.6 L954.7,755.3 M952.4,752.6 L951.1,755.9"/>
<path d="M964.2,758.5 L963.2,752.6 M963.2,752.6 L965.5,755.2 M963.2,752.6 L961.9,755.9"/>
<path d="M975.3,758.3 L974.3,752.4 M974.3,752.4 L976.6,755.0 M974.3,752.4 L973.0,755.6"/>
<path d="M857.9,773.6 L866.5,762.6 M866.5,762.6 L866.1,766.0 M866.5,762.6 L863.2,763.8"/>
<path d="M868.6,774.3 L877.2,763.3 M877.2,763.3 L876.8,766.8 M877.2,763.3 L873.9,764.6"/>
<path d="M880.3,771.9 L888.9,760.8 M888.9,760.8 L888.5,764.3 M888.9,760.8 L885.7,762.1"/>
<path d="M893.7,772.6 L902.3,761.5 M902.3,761.5 L901.9,765.0 M902.3,761.5 L899.0,762.8"/>
<path d="M904.6,774.7 L913.3,763.6 M913.3,763.6 L912.8,767.1 M913.3,763.6 L910.0,764.9"/>
<path d="M915.4,771.6 L924.0,760.6 M924.0,760.6 L923.6,764.0 M924.0,760.6 L920.7,761.8"/>
<path d="M932.0,771.3 L931.0,765.4 M931.0,765.4 L933.3,768.0 M931.0,765.4 L929.7,768.7"/>
<path d="M945.0,770.0 L943.9,764.1 M943.9,764.1 L946.2,766.7 M943.9,764.1 L942.7,767.3"/>
<path d="M957.3,772.7 L956.3,766.8 M956.3,766.8 L958.6,769.4 M956.3,766.8 L955.0,770.0"/>
<path d="M968.5,770.6 L967.5,764.7 M967.5,764.7 L969.8,767.3 M967.5,764.7 L966.2,768.0"/>
<path d="M864.2,788.0 L872.8,776.9 M872.8,776.9 L872.4,780.4 M872.8,776.9 L869.6,778.2"/>
<path d="M873.8,787.4 L882.4,776.4 M882.4,776.4 L882.0,779.9 M882.4,776.4 L879.1,777.6"/>
<path d="M886.6,786.1 L895.2,775.1 M895.2,775.1 L894.8,778.5 M895.2,775.1 L892.0,776.3"/>
<path d="M898.2,786.7 L906.8,775.7 M906.8,775.7 L906.4,779.2 M906.8,775.7 L903.6,777.0"/>
<path d="M911.9,786.8 L920.5,775.8 M920.5,775.8 L920.1,779.2 M920.5,775.8 L917.3,777.0"/>
<path d="M928.2,786.8 L927.1,780.9 M927.1,780.9 L929.4,783.6 M927.1,780.9 L925.9,784.2"/>
<path d="M941.2,784.5 L940.2,778.5 M940.2,778.5 L942.5,781.2 M940.2,778.5 L938.9,781.8"/>
<path d="M951.9,784.2 L950.9,778.3 M950.9,778.3 L953.2,781.0 M950.9,778.3 L949.6,781.6"/>
<path d="M963.1,784.9 L962.1,779.0 M962.1,779.0 L964.4,781.6 M962.1,779.0 L960.8,782.3"/>
<path d="M881.9,803.3 L890.5,792.2 M890.5,792.2 L890.1,795.7 M890.5,792.2 L887.2,793.5"/>
<path d="M891.9,799.5 L900.5,788.5 M900.5,788.5 L900.0,792.0 M900.5,788.5 L897.2,789.8"/>
<path d="M904.5,799.7 L913.1,788.7 M913.1,788.7 L912.7,792.2 M913.1,788.7 L909.8,790.0"/>
<path d="M914.8,802.6 L923.4,791.6 M923.4,791.6 L923.0,795.1 M923.4,791.6 L920.2,792.8"/>
<path d="M932.0,799.8 L930.9,793.9 M930.9,793.9 L933.2,796.6 M930.9,793.9 L929.7,797.2"/>
<path d="M945.0,800.7 L943.9,794.8 M943.9,794.8 L946.2,797.4 M943.9,794.8 L942.7,798.1"/>
<path d="M958.9,797.2 L957.9,791.3 M957.9,791.3 L960.2,793.9 M957.9,791.3 L956.6,794.6"/>
<path d="M897.5,817.3 L906.1,806.3 M906.1,806.3 L905.7,809.7 M906.1,806.3 L902.8,807.5"/>
<path d="M911.1,815.2 L919.8,804.2 M919.8,804.2 L919.3,807.6 M919.8,804.2 L916.5,805.4"/>
<path d="M928.7,814.2 L927.6,808.3 M927.6,808.3 L929.9,810.9 M927.6,808.3 L926.4,811.6"/>
</g>
<g opacity="0.9">
<path d="M762,543 C762,560 757,578 744,594 C728,614 714,632 708,660 C703,690 704,725 714,755 C720,772 730,790 741,803" fill="none" stroke="#d8141e" stroke-width="13" stroke-linecap="round"/>
<polygon points="719,801 764,786 759,846" fill="#d8141e"/>
</g>
<path d="M973.0,607.8 A34,34 0 1,1 918.1,582.2" fill="none" stroke="#d8142a" stroke-width="12" opacity="0.92"/>
<polygon points="937.0,568.0 989.5,577.5 958.0,614.0" fill="#d8142a" opacity="0.92"/>
<path d="M924.8,732.1 A34,34 0 1,0 973.9,737.7" fill="none" stroke="#d8142a" stroke-width="14" opacity="0.92"/>
<polygon points="942.6,716.4 994.0,723.0 962.6,759.0" fill="#d8142a" opacity="0.92"/>
<g font-family="Liberation Sans, sans-serif" fill="#e2e2e2" opacity="0.9" filter="url(#bs)">
<text x="649.7" y="532" font-size="25" textLength="132.6" lengthAdjust="spacingAndGlyphs">air (n<tspan font-size="15" dy="6">0</tspan><tspan dy="-6">=1.0)</tspan></text>
<text x="840.8" y="533.5" font-size="25" textLength="158.4" lengthAdjust="spacingAndGlyphs">water (n<tspan font-size="15" dy="6">0</tspan><tspan dy="-6">=1.33)</tspan></text>
</g>
<rect x="1052.8" y="584.9" width="24.4" height="152" fill="url(#mcb)"/>
<g font-family="Liberation Sans, sans-serif" font-size="27" fill="#141213"><text x="1056" y="577.6">1</text><text x="1056" y="766.6">0</text>
<text transform="translate(1040.7,831.6) rotate(-90)" font-size="28.5" textLength="331" lengthAdjust="spacingAndGlyphs">Normalized magnetic field</text></g>
<g stroke="#231f20" stroke-width="3" fill="none">
<line x1="615.3" y1="848" x2="615.3" y2="808"/><line x1="624" y1="856.4" x2="665" y2="856.4"/>
<circle cx="615.6" cy="856.4" r="7.8" stroke="#3a2220"/><path d="M611,851.8 L620.2,861 M620.2,851.8 L611,861" stroke-width="1.8" stroke="#3a2220"/>
</g>
<polygon points="604,812 615.3,800 626,812" fill="#231f20"/><polygon points="663,847.5 673.5,856.4 663,865.3" fill="#231f20"/>
<g font-family="Liberation Sans, sans-serif" font-size="22" fill="#3a3536"><text x="608" y="788">z</text><text x="591" y="865">y</text><text x="675.5" y="864">x</text></g>
<defs>
<radialGradient id="disc2" cx="0.55" cy="0.44" r="0.5">
 <stop offset="0" stop-color="#e23a36"/><stop offset="0.14" stop-color="#f07a30"/><stop offset="0.28" stop-color="#e8d440"/>
 <stop offset="0.4" stop-color="#88c860"/><stop offset="0.52" stop-color="#40b8e0"/><stop offset="0.68" stop-color="#3c78d4"/>
 <stop offset="0.84" stop-color="#4a48c0"/><stop offset="1" stop-color="#5a34a0"/>
</radialGradient>
<linearGradient id="rodR2" x1="0" x2="0" y1="0" y2="1">
 <stop offset="0" stop-color="#b80c18"/><stop offset="0.12" stop-color="#e30e1a"/><stop offset="0.34" stop-color="#f06878"/><stop offset="0.46" stop-color="#e6101c"/><stop offset="0.8" stop-color="#c00c18"/><stop offset="1" stop-color="#8c0a14"/>
</linearGradient>
<linearGradient id="rodM" x1="0" x2="0" y1="0" y2="1">
 <stop offset="0" stop-color="#a80c58"/><stop offset="0.15" stop-color="#c81870"/><stop offset="0.36" stop-color="#e888b0"/><stop offset="0.5" stop-color="#c82470"/><stop offset="1" stop-color="#80104c"/>
</linearGradient>
<linearGradient id="rodB2" x1="0" x2="0" y1="0" y2="1">
 <stop offset="0" stop-color="#2a2a92"/><stop offset="0.2" stop-color="#3c44aa"/><stop offset="0.4" stop-color="#8a88d4"/><stop offset="0.52" stop-color="#3c48ac"/><stop offset="1" stop-color="#26268a"/>
</linearGradient>
<clipPath id="sph1"><circle cx="1285.2" cy="586.5" r="69"/></clipPath>
<clipPath id="sph2"><circle cx="1288" cy="728.2" r="69.5"/></clipPath>
</defs>
<polygon points="1256,465 1317,511 1317,849 1256,804" fill="#0e0b0b"/>
<polygon points="1124.0,591.6 1288.0,576.6 1288.0,601.0 1125.8,619.0" fill="url(#rodR2)" />
<polygon points="1125.0,728.7 1289.0,710.0 1289.0,736.0 1126.7,753.3" fill="url(#rodR2)" />
<ellipse cx="1125" cy="605.3" rx="3.5" ry="13.7" fill="#a00c16"/>
<ellipse cx="1126" cy="741" rx="3.5" ry="12.3" fill="#a00c16"/>
<polygon points="1317.0,571.4 1440.0,559.8 1440.0,584.6 1317.0,597.2" fill="url(#rodB2)" />
<polygon points="1317.0,705.9 1442.0,694.3 1442.0,720.7 1317.0,732.8" fill="url(#rodB2)" />
<ellipse cx="1441" cy="572.2" rx="4.5" ry="12.4" fill="#3234a0"/>
<ellipse cx="1443" cy="707.5" rx="4.5" ry="13.2" fill="#3234a0"/>
<clipPath id="plane"><polygon points="1256,465 1317,511 1317,849 1256,804"/></clipPath>
<circle cx="1285.2" cy="586.5" r="69" fill="#a060b8" opacity="0.56"/>
<g clip-path="url(#plane)"><circle cx="1285.2" cy="586.5" r="69" fill="#5a2480" opacity="0.75"/></g>
<ellipse cx="1331.2" cy="550.5" rx="11" ry="18" fill="#dcd6dc" opacity="0.6" filter="url(#b2)"/>
<circle cx="1288.0" cy="728.2" r="69" fill="#a060b8" opacity="0.56"/>
<g clip-path="url(#plane)"><circle cx="1288.0" cy="728.2" r="69" fill="#5a2480" opacity="0.75"/></g>
<ellipse cx="1334.0" cy="692.2" rx="11" ry="18" fill="#dcd6dc" opacity="0.6" filter="url(#b2)"/>
<g clip-path="url(#plane)"><g clip-path="url(#sph1)"><rect x="1284" y="511.5" width="40" height="150" fill="#0e0b0b"/></g>
<ellipse cx="1284" cy="586.5" rx="27" ry="71" fill="#4a1c72"/>
<ellipse cx="1284" cy="586.5" rx="27" ry="71" fill="url(#disc2)" opacity="0.85" filter="url(#bs)"/></g>
<g clip-path="url(#plane)"><g clip-path="url(#sph2)"><rect x="1284" y="653.2" width="40" height="150" fill="#0e0b0b"/></g>
<ellipse cx="1284" cy="728.2" rx="27" ry="71" fill="#4a1c72"/>
<ellipse cx="1284" cy="728.2" rx="27" ry="71" fill="url(#disc2)" opacity="0.85" filter="url(#bs)"/></g>
<g clip-path="url(#sph1)">
<polygon points="1124.0,591.6 1288.0,576.6 1288.0,601.0 1125.8,619.0" fill="url(#rodM)" opacity="0.95"/>
</g>
<g clip-path="url(#sph2)">
<polygon points="1125.0,728.7 1289.0,710.0 1289.0,736.0 1126.7,753.3" fill="url(#rodM)" opacity="0.95"/>
</g>
<ellipse cx="1288" cy="589" rx="3" ry="12" fill="#f0a0c0" opacity="0.7"/>
<ellipse cx="1289" cy="723" rx="3" ry="13" fill="#f0a0c0" opacity="0.7"/>
<g font-family="Liberation Sans, sans-serif" font-size="21" font-weight="bold" fill="#f0f0f0" font-style="italic"><text x="1134.5" y="612.5">N</text><text x="1142.5" y="747">N</text><text x="1422.5" y="583">S</text><text x="1426" y="716">S</text></g>
<polygon points="1155.0,622.0 1167.5,639.0 1160.5,639.0 1160.5,663.0 1149.5,663.0 1149.5,639.0 1142.5,639.0" fill="#e8d688" stroke="#d4bc64" stroke-width="0.8"/>
<polygon points="1200.5,618.0 1213.0,635.0 1206.0,635.0 1206.0,659.0 1195.0,659.0 1195.0,635.0 1188.0,635.0" fill="#e8d688" stroke="#d4bc64" stroke-width="0.8"/>
<polygon points="1373.0,598.5 1385.5,615.5 1378.5,615.5 1378.5,639.3 1367.5,639.3 1367.5,615.5 1360.5,615.5" fill="#e8d688" stroke="#d4bc64" stroke-width="0.8"/>
<polygon points="1417.7,594.5 1430.2,611.5 1423.2,611.5 1423.2,635.4 1412.2,635.4 1412.2,611.5 1405.2,611.5" fill="#e8d688" stroke="#d4bc64" stroke-width="0.8"/>
<polygon points="1155.0,716.5 1167.5,699.5 1160.5,699.5 1160.5,674.0 1149.5,674.0 1149.5,699.5 1142.5,699.5" fill="#e8d688" stroke="#d4bc64" stroke-width="0.8"/>
<polygon points="1201.5,714.0 1214.0,697.0 1207.0,697.0 1207.0,673.0 1196.0,673.0 1196.0,697.0 1189.0,697.0" fill="#e8d688" stroke="#d4bc64" stroke-width="0.8"/>
<polygon points="1373.0,694.0 1385.5,677.0 1378.5,677.0 1378.5,653.0 1367.5,653.0 1367.5,677.0 1360.5,677.0" fill="#e8d688" stroke="#d4bc64" stroke-width="0.8"/>
<polygon points="1418.0,689.0 1430.5,672.0 1423.5,672.0 1423.5,648.0 1412.5,648.0 1412.5,672.0 1405.5,672.0" fill="#e8d688" stroke="#d4bc64" stroke-width="0.8"/>
<g stroke="#8c8c8c" stroke-width="2" fill="none" stroke-linecap="round"><line x1="1305" y1="848.6" x2="1305" y2="822"/><line x1="1305" y1="848.6" x2="1283" y2="834"/><line x1="1305" y1="848.6" x2="1268" y2="857.5"/>
<path d="M1302,826 L1305,820 L1308,826 M1283,830 L1282.6,833.6 L1286.5,835 M1271,854 L1267,857.7 L1271,860"/></g>
<g font-family="Liberation Sans, sans-serif" font-size="19"><text x="1299.5" y="817" fill="#eeeeee">z</text><text x="1269" y="835.5" fill="#444444">x</text><text x="1251.5" y="859" fill="#444444">y</text></g>
</svg></body></html>
